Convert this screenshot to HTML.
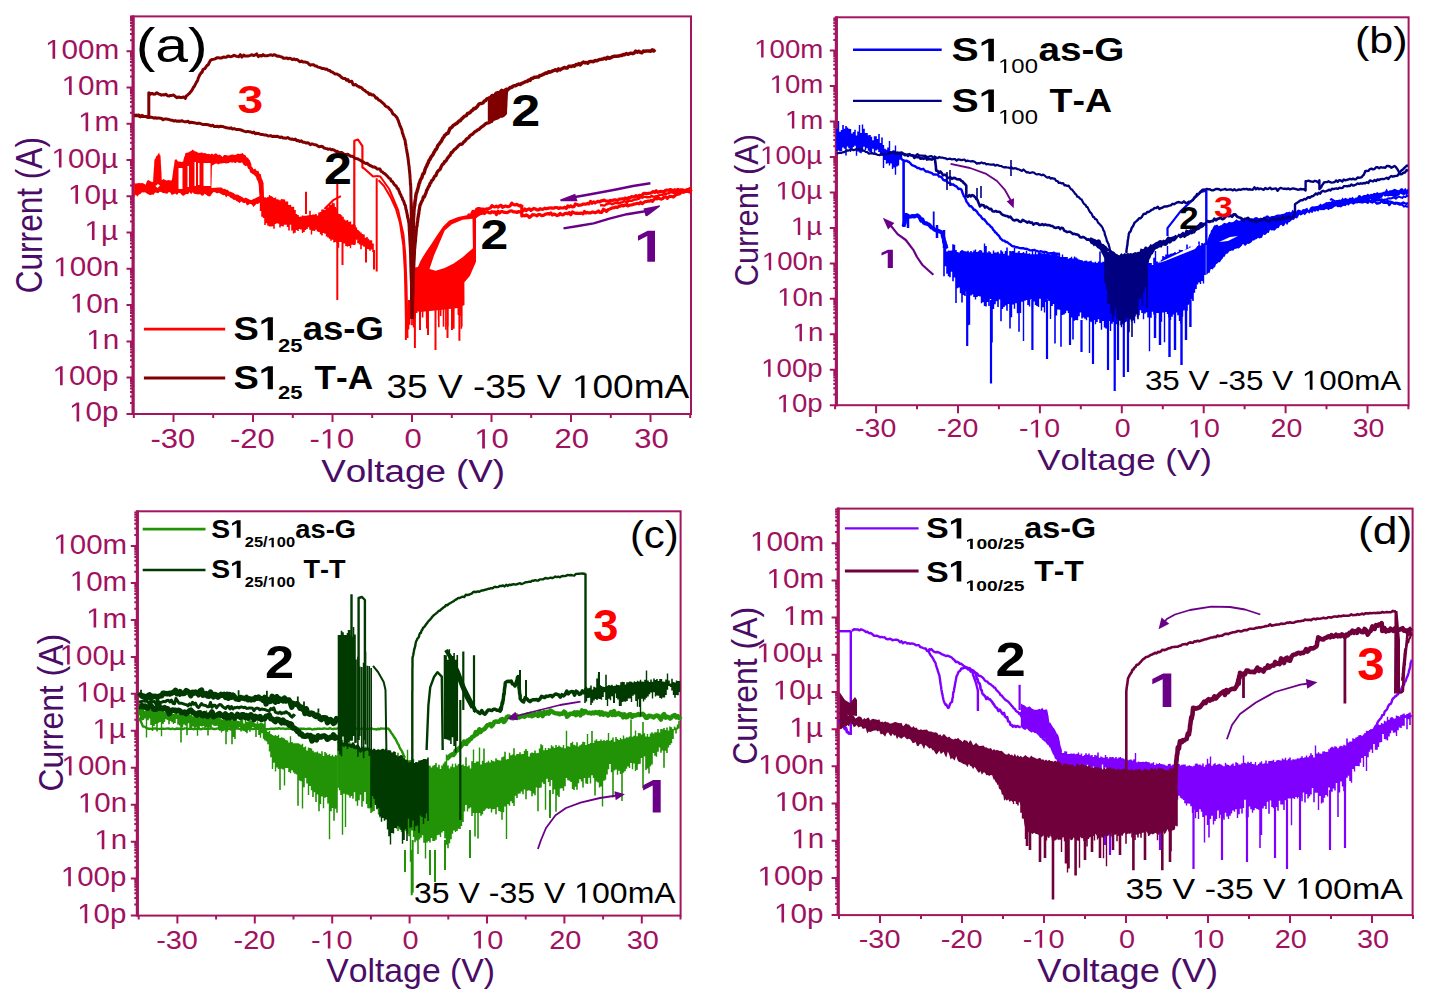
<!DOCTYPE html>
<html><head><meta charset="utf-8"><style>html,body{margin:0;padding:0;background:#fff;overflow:hidden}
svg{display:block}text{font-family:"Liberation Sans",sans-serif}</style></head><body>
<svg width="1437" height="1006" viewBox="0 0 1437 1006">
<g>
<rect width="1437" height="1006" fill="#fff"/>
<g stroke="#a3165f" fill="none" stroke-width="2">
<rect x="133.5" y="16.4" width="557.5" height="397.6"/>
<path d="M133.0 15.4V415.0" stroke-width="3"/>
<path d="M126.5 51.2H133.5 M126.5 87.5H133.5 M126.5 123.7H133.5 M126.5 160.0H133.5 M126.5 196.3H133.5 M126.5 232.6H133.5 M126.5 268.8H133.5 M126.5 305.1H133.5 M126.5 341.4H133.5 M126.5 377.6H133.5 M126.5 413.9H133.5 M130.0 40.3H133.5 M130.0 33.9H133.5 M130.0 29.4H133.5 M130.0 25.8H133.5 M130.0 23.0H133.5 M130.0 20.5H133.5 M130.0 18.4H133.5 M130.0 16.6H133.5 M130.0 76.6H133.5 M130.0 70.2H133.5 M130.0 65.6H133.5 M130.0 62.1H133.5 M130.0 59.2H133.5 M130.0 56.8H133.5 M130.0 54.7H133.5 M130.0 52.9H133.5 M130.0 112.8H133.5 M130.0 106.4H133.5 M130.0 101.9H133.5 M130.0 98.4H133.5 M130.0 95.5H133.5 M130.0 93.1H133.5 M130.0 91.0H133.5 M130.0 89.1H133.5 M130.0 149.1H133.5 M130.0 142.7H133.5 M130.0 138.2H133.5 M130.0 134.7H133.5 M130.0 131.8H133.5 M130.0 129.4H133.5 M130.0 127.3H133.5 M130.0 125.4H133.5 M130.0 185.4H133.5 M130.0 179.0H133.5 M130.0 174.4H133.5 M130.0 170.9H133.5 M130.0 168.1H133.5 M130.0 165.6H133.5 M130.0 163.5H133.5 M130.0 161.7H133.5 M130.0 221.6H133.5 M130.0 215.2H133.5 M130.0 210.7H133.5 M130.0 207.2H133.5 M130.0 204.3H133.5 M130.0 201.9H133.5 M130.0 199.8H133.5 M130.0 197.9H133.5 M130.0 257.9H133.5 M130.0 251.5H133.5 M130.0 247.0H133.5 M130.0 243.5H133.5 M130.0 240.6H133.5 M130.0 238.2H133.5 M130.0 236.1H133.5 M130.0 234.2H133.5 M130.0 294.2H133.5 M130.0 287.8H133.5 M130.0 283.3H133.5 M130.0 279.7H133.5 M130.0 276.9H133.5 M130.0 274.4H133.5 M130.0 272.3H133.5 M130.0 270.5H133.5 M130.0 330.4H133.5 M130.0 324.1H133.5 M130.0 319.5H133.5 M130.0 316.0H133.5 M130.0 313.1H133.5 M130.0 310.7H133.5 M130.0 308.6H133.5 M130.0 306.7H133.5 M130.0 366.7H133.5 M130.0 360.3H133.5 M130.0 355.8H133.5 M130.0 352.3H133.5 M130.0 349.4H133.5 M130.0 347.0H133.5 M130.0 344.9H133.5 M130.0 343.0H133.5 M130.0 403.0H133.5 M130.0 396.6H133.5 M130.0 392.1H133.5 M130.0 388.5H133.5 M130.0 385.7H133.5 M130.0 383.2H133.5 M130.0 381.1H133.5 M130.0 379.3H133.5 M133.8 414v4 M173.5 414v8 M213.2 414v4 M253.0 414v8 M292.8 414v4 M332.5 414v8 M372.2 414v4 M412.0 414v8 M451.8 414v4 M491.5 414v8 M531.2 414v4 M571.0 414v8 M610.8 414v4 M650.5 414v8 M690.2 414v4"/>
</g>
<g transform="translate(45.07,58.72) scale(1.0868,1)" fill="#a01260"><path transform="translate(0.00,0) scale(0.01334,-0.01334)" d="M515 0L515 1237L197 1010L197 1180L530 1409L696 1409L696 0Z"/><text x="15.20" y="0" font-size="27.33" font-weight="normal" style="font-kerning:none">00m</text></g>
<g transform="translate(61.58,94.99) scale(1.0868,1)" fill="#a01260"><path transform="translate(0.00,0) scale(0.01334,-0.01334)" d="M515 0L515 1237L197 1010L197 1180L530 1409L696 1409L696 0Z"/><text x="15.20" y="0" font-size="27.33" font-weight="normal" style="font-kerning:none">0m</text></g>
<g transform="translate(78.10,131.26) scale(1.0868,1)" fill="#a01260"><path transform="translate(0.00,0) scale(0.01334,-0.01334)" d="M515 0L515 1237L197 1010L197 1180L530 1409L696 1409L696 0Z"/><text x="15.20" y="0" font-size="27.33" font-weight="normal" style="font-kerning:none">m</text></g>
<g transform="translate(51.42,167.53) scale(1.0868,1)" fill="#a01260"><path transform="translate(0.00,0) scale(0.01334,-0.01334)" d="M515 0L515 1237L197 1010L197 1180L530 1409L696 1409L696 0Z"/><text x="15.20" y="0" font-size="27.33" font-weight="normal" style="font-kerning:none">00µ</text></g>
<g transform="translate(67.94,203.80) scale(1.0868,1)" fill="#a01260"><path transform="translate(0.00,0) scale(0.01334,-0.01334)" d="M515 0L515 1237L197 1010L197 1180L530 1409L696 1409L696 0Z"/><text x="15.20" y="0" font-size="27.33" font-weight="normal" style="font-kerning:none">0µ</text></g>
<g transform="translate(84.45,240.07) scale(1.0868,1)" fill="#a01260"><path transform="translate(0.00,0) scale(0.01334,-0.01334)" d="M515 0L515 1237L197 1010L197 1180L530 1409L696 1409L696 0Z"/><text x="15.20" y="0" font-size="27.33" font-weight="normal" style="font-kerning:none">µ</text></g>
<g transform="translate(53.26,276.34) scale(1.0868,1)" fill="#a01260"><path transform="translate(0.00,0) scale(0.01334,-0.01334)" d="M515 0L515 1237L197 1010L197 1180L530 1409L696 1409L696 0Z"/><text x="15.20" y="0" font-size="27.33" font-weight="normal" style="font-kerning:none">00n</text></g>
<g transform="translate(69.78,312.61) scale(1.0868,1)" fill="#a01260"><path transform="translate(0.00,0) scale(0.01334,-0.01334)" d="M515 0L515 1237L197 1010L197 1180L530 1409L696 1409L696 0Z"/><text x="15.20" y="0" font-size="27.33" font-weight="normal" style="font-kerning:none">0n</text></g>
<g transform="translate(86.29,348.88) scale(1.0868,1)" fill="#a01260"><path transform="translate(0.00,0) scale(0.01334,-0.01334)" d="M515 0L515 1237L197 1010L197 1180L530 1409L696 1409L696 0Z"/><text x="15.20" y="0" font-size="27.33" font-weight="normal" style="font-kerning:none">n</text></g>
<g transform="translate(52.58,385.15) scale(1.0868,1)" fill="#a01260"><path transform="translate(0.00,0) scale(0.01334,-0.01334)" d="M515 0L515 1237L197 1010L197 1180L530 1409L696 1409L696 0Z"/><text x="15.20" y="0" font-size="27.33" font-weight="normal" style="font-kerning:none">00p</text></g>
<g transform="translate(69.10,421.42) scale(1.0868,1)" fill="#a01260"><path transform="translate(0.00,0) scale(0.01334,-0.01334)" d="M515 0L515 1237L197 1010L197 1180L530 1409L696 1409L696 0Z"/><text x="15.20" y="0" font-size="27.33" font-weight="normal" style="font-kerning:none">0p</text></g>
<g transform="translate(150.53,448.40) scale(1.1167,1)" fill="#a01260"><text x="0.00" y="0" font-size="27.76" font-weight="normal" style="font-kerning:none">-30</text></g>
<g transform="translate(230.03,448.40) scale(1.1167,1)" fill="#a01260"><text x="0.00" y="0" font-size="27.76" font-weight="normal" style="font-kerning:none">-20</text></g>
<g transform="translate(309.53,448.40) scale(1.1167,1)" fill="#a01260"><text x="0.00" y="0" font-size="27.76" font-weight="normal" style="font-kerning:none">-</text><path transform="translate(9.24,0) scale(0.01356,-0.01356)" d="M515 0L515 1237L197 1010L197 1180L530 1409L696 1409L696 0Z"/><text x="24.68" y="0" font-size="27.76" font-weight="normal" style="font-kerning:none">0</text></g>
<g transform="translate(404.38,448.40) scale(1.1167,1)" fill="#a01260"><text x="0.00" y="0" font-size="27.76" font-weight="normal" style="font-kerning:none">0</text></g>
<g transform="translate(474.37,448.40) scale(1.1167,1)" fill="#a01260"><path transform="translate(0.00,0) scale(0.01356,-0.01356)" d="M515 0L515 1237L197 1010L197 1180L530 1409L696 1409L696 0Z"/><text x="15.44" y="0" font-size="27.76" font-weight="normal" style="font-kerning:none">0</text></g>
<g transform="translate(554.58,448.40) scale(1.1167,1)" fill="#a01260"><text x="0.00" y="0" font-size="27.76" font-weight="normal" style="font-kerning:none">20</text></g>
<g transform="translate(634.27,448.40) scale(1.1167,1)" fill="#a01260"><text x="0.00" y="0" font-size="27.76" font-weight="normal" style="font-kerning:none">30</text></g>
<g stroke="#a3165f" fill="none" stroke-width="2">
<rect x="836.8" y="17.3" width="571.8" height="387.9"/>
<path d="M836.3 16.3V406.2" stroke-width="3"/>
<path d="M829.8 50.6H836.8 M829.8 86.1H836.8 M829.8 121.5H836.8 M829.8 157.0H836.8 M829.8 192.4H836.8 M829.8 227.9H836.8 M829.8 263.4H836.8 M829.8 298.8H836.8 M829.8 334.3H836.8 M829.8 369.7H836.8 M829.8 405.2H836.8 M833.3 39.9H836.8 M833.3 33.7H836.8 M833.3 29.3H836.8 M833.3 25.8H836.8 M833.3 23.0H836.8 M833.3 20.6H836.8 M833.3 18.6H836.8 M833.3 75.4H836.8 M833.3 69.1H836.8 M833.3 64.7H836.8 M833.3 61.3H836.8 M833.3 58.5H836.8 M833.3 56.1H836.8 M833.3 54.0H836.8 M833.3 52.2H836.8 M833.3 110.8H836.8 M833.3 104.6H836.8 M833.3 100.2H836.8 M833.3 96.7H836.8 M833.3 93.9H836.8 M833.3 91.6H836.8 M833.3 89.5H836.8 M833.3 87.7H836.8 M833.3 146.3H836.8 M833.3 140.1H836.8 M833.3 135.6H836.8 M833.3 132.2H836.8 M833.3 129.4H836.8 M833.3 127.0H836.8 M833.3 125.0H836.8 M833.3 123.1H836.8 M833.3 181.8H836.8 M833.3 175.5H836.8 M833.3 171.1H836.8 M833.3 167.7H836.8 M833.3 164.8H836.8 M833.3 162.5H836.8 M833.3 160.4H836.8 M833.3 158.6H836.8 M833.3 217.2H836.8 M833.3 211.0H836.8 M833.3 206.6H836.8 M833.3 203.1H836.8 M833.3 200.3H836.8 M833.3 197.9H836.8 M833.3 195.9H836.8 M833.3 194.1H836.8 M833.3 252.7H836.8 M833.3 246.4H836.8 M833.3 242.0H836.8 M833.3 238.6H836.8 M833.3 235.8H836.8 M833.3 233.4H836.8 M833.3 231.3H836.8 M833.3 229.5H836.8 M833.3 288.1H836.8 M833.3 281.9H836.8 M833.3 277.5H836.8 M833.3 274.0H836.8 M833.3 271.2H836.8 M833.3 268.9H836.8 M833.3 266.8H836.8 M833.3 265.0H836.8 M833.3 323.6H836.8 M833.3 317.4H836.8 M833.3 312.9H836.8 M833.3 309.5H836.8 M833.3 306.7H836.8 M833.3 304.3H836.8 M833.3 302.3H836.8 M833.3 300.4H836.8 M833.3 359.1H836.8 M833.3 352.8H836.8 M833.3 348.4H836.8 M833.3 345.0H836.8 M833.3 342.1H836.8 M833.3 339.8H836.8 M833.3 337.7H836.8 M833.3 335.9H836.8 M833.3 394.5H836.8 M833.3 388.3H836.8 M833.3 383.9H836.8 M833.3 380.4H836.8 M833.3 377.6H836.8 M833.3 375.2H836.8 M833.3 373.2H836.8 M833.3 371.4H836.8 M835.1 405.2v4 M876.1 405.2v8 M917.0 405.2v4 M958.0 405.2v8 M998.9 405.2v4 M1039.9 405.2v8 M1080.8 405.2v4 M1121.8 405.2v8 M1162.8 405.2v4 M1203.7 405.2v8 M1244.6 405.2v4 M1285.6 405.2v8 M1326.5 405.2v4 M1367.5 405.2v8 M1408.4 405.2v4"/>
</g>
<g transform="translate(754.17,57.60) scale(1.0868,1)" fill="#a01260"><path transform="translate(0.00,0) scale(0.01242,-0.01242)" d="M515 0L515 1237L197 1010L197 1180L530 1409L696 1409L696 0Z"/><text x="14.15" y="0" font-size="25.44" font-weight="normal" style="font-kerning:none">00m</text></g>
<g transform="translate(769.54,93.06) scale(1.0868,1)" fill="#a01260"><path transform="translate(0.00,0) scale(0.01242,-0.01242)" d="M515 0L515 1237L197 1010L197 1180L530 1409L696 1409L696 0Z"/><text x="14.15" y="0" font-size="25.44" font-weight="normal" style="font-kerning:none">0m</text></g>
<g transform="translate(784.92,128.52) scale(1.0868,1)" fill="#a01260"><path transform="translate(0.00,0) scale(0.01242,-0.01242)" d="M515 0L515 1237L197 1010L197 1180L530 1409L696 1409L696 0Z"/><text x="14.15" y="0" font-size="25.44" font-weight="normal" style="font-kerning:none">m</text></g>
<g transform="translate(760.08,163.98) scale(1.0868,1)" fill="#a01260"><path transform="translate(0.00,0) scale(0.01242,-0.01242)" d="M515 0L515 1237L197 1010L197 1180L530 1409L696 1409L696 0Z"/><text x="14.15" y="0" font-size="25.44" font-weight="normal" style="font-kerning:none">00µ</text></g>
<g transform="translate(775.46,199.44) scale(1.0868,1)" fill="#a01260"><path transform="translate(0.00,0) scale(0.01242,-0.01242)" d="M515 0L515 1237L197 1010L197 1180L530 1409L696 1409L696 0Z"/><text x="14.15" y="0" font-size="25.44" font-weight="normal" style="font-kerning:none">0µ</text></g>
<g transform="translate(790.83,234.90) scale(1.0868,1)" fill="#a01260"><path transform="translate(0.00,0) scale(0.01242,-0.01242)" d="M515 0L515 1237L197 1010L197 1180L530 1409L696 1409L696 0Z"/><text x="14.15" y="0" font-size="25.44" font-weight="normal" style="font-kerning:none">µ</text></g>
<g transform="translate(761.80,270.36) scale(1.0868,1)" fill="#a01260"><path transform="translate(0.00,0) scale(0.01242,-0.01242)" d="M515 0L515 1237L197 1010L197 1180L530 1409L696 1409L696 0Z"/><text x="14.15" y="0" font-size="25.44" font-weight="normal" style="font-kerning:none">00n</text></g>
<g transform="translate(777.17,305.82) scale(1.0868,1)" fill="#a01260"><path transform="translate(0.00,0) scale(0.01242,-0.01242)" d="M515 0L515 1237L197 1010L197 1180L530 1409L696 1409L696 0Z"/><text x="14.15" y="0" font-size="25.44" font-weight="normal" style="font-kerning:none">0n</text></g>
<g transform="translate(792.55,341.28) scale(1.0868,1)" fill="#a01260"><path transform="translate(0.00,0) scale(0.01242,-0.01242)" d="M515 0L515 1237L197 1010L197 1180L530 1409L696 1409L696 0Z"/><text x="14.15" y="0" font-size="25.44" font-weight="normal" style="font-kerning:none">n</text></g>
<g transform="translate(761.16,376.74) scale(1.0868,1)" fill="#a01260"><path transform="translate(0.00,0) scale(0.01242,-0.01242)" d="M515 0L515 1237L197 1010L197 1180L530 1409L696 1409L696 0Z"/><text x="14.15" y="0" font-size="25.44" font-weight="normal" style="font-kerning:none">00p</text></g>
<g transform="translate(776.54,412.20) scale(1.0868,1)" fill="#a01260"><path transform="translate(0.00,0) scale(0.01242,-0.01242)" d="M515 0L515 1237L197 1010L197 1180L530 1409L696 1409L696 0Z"/><text x="14.15" y="0" font-size="25.44" font-weight="normal" style="font-kerning:none">0p</text></g>
<g transform="translate(855.09,437.40) scale(1.1167,1)" fill="#a01260"><text x="0.00" y="0" font-size="25.58" font-weight="normal" style="font-kerning:none">-30</text></g>
<g transform="translate(936.99,437.40) scale(1.1167,1)" fill="#a01260"><text x="0.00" y="0" font-size="25.58" font-weight="normal" style="font-kerning:none">-20</text></g>
<g transform="translate(1018.89,437.40) scale(1.1167,1)" fill="#a01260"><text x="0.00" y="0" font-size="25.58" font-weight="normal" style="font-kerning:none">-</text><path transform="translate(8.52,0) scale(0.01249,-0.01249)" d="M515 0L515 1237L197 1010L197 1180L530 1409L696 1409L696 0Z"/><text x="22.75" y="0" font-size="25.58" font-weight="normal" style="font-kerning:none">0</text></g>
<g transform="translate(1114.86,437.40) scale(1.1167,1)" fill="#a01260"><text x="0.00" y="0" font-size="25.58" font-weight="normal" style="font-kerning:none">0</text></g>
<g transform="translate(1188.00,437.40) scale(1.1167,1)" fill="#a01260"><path transform="translate(0.00,0) scale(0.01249,-0.01249)" d="M515 0L515 1237L197 1010L197 1180L530 1409L696 1409L696 0Z"/><text x="14.23" y="0" font-size="25.58" font-weight="normal" style="font-kerning:none">0</text></g>
<g transform="translate(1270.55,437.40) scale(1.1167,1)" fill="#a01260"><text x="0.00" y="0" font-size="25.58" font-weight="normal" style="font-kerning:none">20</text></g>
<g transform="translate(1352.63,437.40) scale(1.1167,1)" fill="#a01260"><text x="0.00" y="0" font-size="25.58" font-weight="normal" style="font-kerning:none">30</text></g>
<g stroke="#a3165f" fill="none" stroke-width="2">
<rect x="137.8" y="511.3" width="542.8" height="404.3"/>
<path d="M137.3 510.3V916.6" stroke-width="3"/>
<path d="M130.8 546.0H137.8 M130.8 583.0H137.8 M130.8 619.9H137.8 M130.8 656.9H137.8 M130.8 693.8H137.8 M130.8 730.8H137.8 M130.8 767.8H137.8 M130.8 804.7H137.8 M130.8 841.7H137.8 M130.8 878.6H137.8 M130.8 915.6H137.8 M134.3 534.9H137.8 M134.3 528.4H137.8 M134.3 523.7H137.8 M134.3 520.2H137.8 M134.3 517.2H137.8 M134.3 514.8H137.8 M134.3 512.6H137.8 M134.3 571.8H137.8 M134.3 565.3H137.8 M134.3 560.7H137.8 M134.3 557.1H137.8 M134.3 554.2H137.8 M134.3 551.7H137.8 M134.3 549.6H137.8 M134.3 547.7H137.8 M134.3 608.8H137.8 M134.3 602.3H137.8 M134.3 597.7H137.8 M134.3 594.1H137.8 M134.3 591.2H137.8 M134.3 588.7H137.8 M134.3 586.5H137.8 M134.3 584.7H137.8 M134.3 645.8H137.8 M134.3 639.2H137.8 M134.3 634.6H137.8 M134.3 631.0H137.8 M134.3 628.1H137.8 M134.3 625.6H137.8 M134.3 623.5H137.8 M134.3 621.6H137.8 M134.3 682.7H137.8 M134.3 676.2H137.8 M134.3 671.6H137.8 M134.3 668.0H137.8 M134.3 665.1H137.8 M134.3 662.6H137.8 M134.3 660.5H137.8 M134.3 658.6H137.8 M134.3 719.7H137.8 M134.3 713.2H137.8 M134.3 708.5H137.8 M134.3 705.0H137.8 M134.3 702.0H137.8 M134.3 699.6H137.8 M134.3 697.4H137.8 M134.3 695.5H137.8 M134.3 756.6H137.8 M134.3 750.1H137.8 M134.3 745.5H137.8 M134.3 741.9H137.8 M134.3 739.0H137.8 M134.3 736.5H137.8 M134.3 734.4H137.8 M134.3 732.5H137.8 M134.3 793.6H137.8 M134.3 787.1H137.8 M134.3 782.5H137.8 M134.3 778.9H137.8 M134.3 776.0H137.8 M134.3 773.5H137.8 M134.3 771.3H137.8 M134.3 769.5H137.8 M134.3 830.6H137.8 M134.3 824.0H137.8 M134.3 819.4H137.8 M134.3 815.8H137.8 M134.3 812.9H137.8 M134.3 810.4H137.8 M134.3 808.3H137.8 M134.3 806.4H137.8 M134.3 867.5H137.8 M134.3 861.0H137.8 M134.3 856.4H137.8 M134.3 852.8H137.8 M134.3 849.9H137.8 M134.3 847.4H137.8 M134.3 845.3H137.8 M134.3 843.4H137.8 M134.3 904.5H137.8 M134.3 898.0H137.8 M134.3 893.3H137.8 M134.3 889.8H137.8 M134.3 886.8H137.8 M134.3 884.4H137.8 M134.3 882.2H137.8 M134.3 880.3H137.8 M138.7 915.6v4 M177.4 915.6v8 M216.1 915.6v4 M254.8 915.6v8 M293.5 915.6v4 M332.2 915.6v8 M370.9 915.6v4 M409.6 915.6v8 M448.3 915.6v4 M487.0 915.6v8 M525.7 915.6v4 M564.4 915.6v8 M603.1 915.6v4 M641.8 915.6v8 M680.5 915.6v4"/>
</g>
<g transform="translate(53.36,553.68) scale(1.0569,1)" fill="#a01260"><path transform="translate(0.00,0) scale(0.01363,-0.01363)" d="M515 0L515 1237L197 1010L197 1180L530 1409L696 1409L696 0Z"/><text x="15.52" y="0" font-size="27.91" font-weight="normal" style="font-kerning:none">00m</text></g>
<g transform="translate(69.77,590.64) scale(1.0569,1)" fill="#a01260"><path transform="translate(0.00,0) scale(0.01363,-0.01363)" d="M515 0L515 1237L197 1010L197 1180L530 1409L696 1409L696 0Z"/><text x="15.52" y="0" font-size="27.91" font-weight="normal" style="font-kerning:none">0m</text></g>
<g transform="translate(86.17,627.60) scale(1.0569,1)" fill="#a01260"><path transform="translate(0.00,0) scale(0.01363,-0.01363)" d="M515 0L515 1237L197 1010L197 1180L530 1409L696 1409L696 0Z"/><text x="15.52" y="0" font-size="27.91" font-weight="normal" style="font-kerning:none">m</text></g>
<g transform="translate(59.67,664.56) scale(1.0569,1)" fill="#a01260"><path transform="translate(0.00,0) scale(0.01363,-0.01363)" d="M515 0L515 1237L197 1010L197 1180L530 1409L696 1409L696 0Z"/><text x="15.52" y="0" font-size="27.91" font-weight="normal" style="font-kerning:none">00µ</text></g>
<g transform="translate(76.07,701.52) scale(1.0569,1)" fill="#a01260"><path transform="translate(0.00,0) scale(0.01363,-0.01363)" d="M515 0L515 1237L197 1010L197 1180L530 1409L696 1409L696 0Z"/><text x="15.52" y="0" font-size="27.91" font-weight="normal" style="font-kerning:none">0µ</text></g>
<g transform="translate(92.48,738.48) scale(1.0569,1)" fill="#a01260"><path transform="translate(0.00,0) scale(0.01363,-0.01363)" d="M515 0L515 1237L197 1010L197 1180L530 1409L696 1409L696 0Z"/><text x="15.52" y="0" font-size="27.91" font-weight="normal" style="font-kerning:none">µ</text></g>
<g transform="translate(61.50,775.44) scale(1.0569,1)" fill="#a01260"><path transform="translate(0.00,0) scale(0.01363,-0.01363)" d="M515 0L515 1237L197 1010L197 1180L530 1409L696 1409L696 0Z"/><text x="15.52" y="0" font-size="27.91" font-weight="normal" style="font-kerning:none">00n</text></g>
<g transform="translate(77.90,812.40) scale(1.0569,1)" fill="#a01260"><path transform="translate(0.00,0) scale(0.01363,-0.01363)" d="M515 0L515 1237L197 1010L197 1180L530 1409L696 1409L696 0Z"/><text x="15.52" y="0" font-size="27.91" font-weight="normal" style="font-kerning:none">0n</text></g>
<g transform="translate(94.31,849.36) scale(1.0569,1)" fill="#a01260"><path transform="translate(0.00,0) scale(0.01363,-0.01363)" d="M515 0L515 1237L197 1010L197 1180L530 1409L696 1409L696 0Z"/><text x="15.52" y="0" font-size="27.91" font-weight="normal" style="font-kerning:none">n</text></g>
<g transform="translate(60.82,886.32) scale(1.0569,1)" fill="#a01260"><path transform="translate(0.00,0) scale(0.01363,-0.01363)" d="M515 0L515 1237L197 1010L197 1180L530 1409L696 1409L696 0Z"/><text x="15.52" y="0" font-size="27.91" font-weight="normal" style="font-kerning:none">00p</text></g>
<g transform="translate(77.23,923.28) scale(1.0569,1)" fill="#a01260"><path transform="translate(0.00,0) scale(0.01363,-0.01363)" d="M515 0L515 1237L197 1010L197 1180L530 1409L696 1409L696 0Z"/><text x="15.52" y="0" font-size="27.91" font-weight="normal" style="font-kerning:none">0p</text></g>
<g transform="translate(156.13,948.60) scale(1.1167,1)" fill="#a01260"><text x="0.00" y="0" font-size="25.87" font-weight="normal" style="font-kerning:none">-30</text></g>
<g transform="translate(233.53,948.60) scale(1.1167,1)" fill="#a01260"><text x="0.00" y="0" font-size="25.87" font-weight="normal" style="font-kerning:none">-20</text></g>
<g transform="translate(310.93,948.60) scale(1.1167,1)" fill="#a01260"><text x="0.00" y="0" font-size="25.87" font-weight="normal" style="font-kerning:none">-</text><path transform="translate(8.62,0) scale(0.01263,-0.01263)" d="M515 0L515 1237L197 1010L197 1180L530 1409L696 1409L696 0Z"/><text x="23.00" y="0" font-size="25.87" font-weight="normal" style="font-kerning:none">0</text></g>
<g transform="translate(402.57,948.60) scale(1.1167,1)" fill="#a01260"><text x="0.00" y="0" font-size="25.87" font-weight="normal" style="font-kerning:none">0</text></g>
<g transform="translate(471.11,948.60) scale(1.1167,1)" fill="#a01260"><path transform="translate(0.00,0) scale(0.01263,-0.01263)" d="M515 0L515 1237L197 1010L197 1180L530 1409L696 1409L696 0Z"/><text x="14.39" y="0" font-size="25.87" font-weight="normal" style="font-kerning:none">0</text></g>
<g transform="translate(549.17,948.60) scale(1.1167,1)" fill="#a01260"><text x="0.00" y="0" font-size="25.87" font-weight="normal" style="font-kerning:none">20</text></g>
<g transform="translate(626.75,948.60) scale(1.1167,1)" fill="#a01260"><text x="0.00" y="0" font-size="25.87" font-weight="normal" style="font-kerning:none">30</text></g>
<g stroke="#a3165f" fill="none" stroke-width="2">
<rect x="838.6" y="508.6" width="574.0" height="406.5"/>
<path d="M838.1 507.6V916.1" stroke-width="3"/>
<path d="M831.6 543.2H838.6 M831.6 580.4H838.6 M831.6 617.6H838.6 M831.6 654.8H838.6 M831.6 692.0H838.6 M831.6 729.2H838.6 M831.6 766.3H838.6 M831.6 803.5H838.6 M831.6 840.7H838.6 M831.6 877.9H838.6 M831.6 915.1H838.6 M835.1 532.0H838.6 M835.1 525.5H838.6 M835.1 520.8H838.6 M835.1 517.2H838.6 M835.1 514.3H838.6 M835.1 511.8H838.6 M835.1 509.6H838.6 M835.1 569.2H838.6 M835.1 562.6H838.6 M835.1 558.0H838.6 M835.1 554.4H838.6 M835.1 551.5H838.6 M835.1 549.0H838.6 M835.1 546.8H838.6 M835.1 544.9H838.6 M835.1 606.4H838.6 M835.1 599.8H838.6 M835.1 595.2H838.6 M835.1 591.6H838.6 M835.1 588.6H838.6 M835.1 586.2H838.6 M835.1 584.0H838.6 M835.1 582.1H838.6 M835.1 643.6H838.6 M835.1 637.0H838.6 M835.1 632.4H838.6 M835.1 628.8H838.6 M835.1 625.8H838.6 M835.1 623.3H838.6 M835.1 621.2H838.6 M835.1 619.3H838.6 M835.1 680.8H838.6 M835.1 674.2H838.6 M835.1 669.6H838.6 M835.1 666.0H838.6 M835.1 663.0H838.6 M835.1 660.5H838.6 M835.1 658.4H838.6 M835.1 656.5H838.6 M835.1 718.0H838.6 M835.1 711.4H838.6 M835.1 706.8H838.6 M835.1 703.2H838.6 M835.1 700.2H838.6 M835.1 697.7H838.6 M835.1 695.6H838.6 M835.1 693.7H838.6 M835.1 755.1H838.6 M835.1 748.6H838.6 M835.1 743.9H838.6 M835.1 740.3H838.6 M835.1 737.4H838.6 M835.1 734.9H838.6 M835.1 732.8H838.6 M835.1 730.9H838.6 M835.1 792.3H838.6 M835.1 785.8H838.6 M835.1 781.1H838.6 M835.1 777.5H838.6 M835.1 774.6H838.6 M835.1 772.1H838.6 M835.1 769.9H838.6 M835.1 768.0H838.6 M835.1 829.5H838.6 M835.1 823.0H838.6 M835.1 818.3H838.6 M835.1 814.7H838.6 M835.1 811.8H838.6 M835.1 809.3H838.6 M835.1 807.1H838.6 M835.1 805.2H838.6 M835.1 866.7H838.6 M835.1 860.2H838.6 M835.1 855.5H838.6 M835.1 851.9H838.6 M835.1 849.0H838.6 M835.1 846.5H838.6 M835.1 844.3H838.6 M835.1 842.4H838.6 M835.1 903.9H838.6 M835.1 897.4H838.6 M835.1 892.7H838.6 M835.1 889.1H838.6 M835.1 886.2H838.6 M835.1 883.7H838.6 M835.1 881.5H838.6 M835.1 879.6H838.6 M839.0 915.1v4 M880.0 915.1v8 M921.0 915.1v4 M962.0 915.1v8 M1003.0 915.1v4 M1044.0 915.1v8 M1085.0 915.1v4 M1126.0 915.1v8 M1167.0 915.1v4 M1208.0 915.1v8 M1249.0 915.1v4 M1290.0 915.1v8 M1331.0 915.1v4 M1372.0 915.1v8 M1413.0 915.1v4"/>
</g>
<g transform="translate(749.97,550.72) scale(1.0868,1)" fill="#a01260"><path transform="translate(0.00,0) scale(0.01334,-0.01334)" d="M515 0L515 1237L197 1010L197 1180L530 1409L696 1409L696 0Z"/><text x="15.20" y="0" font-size="27.33" font-weight="normal" style="font-kerning:none">00m</text></g>
<g transform="translate(766.48,587.91) scale(1.0868,1)" fill="#a01260"><path transform="translate(0.00,0) scale(0.01334,-0.01334)" d="M515 0L515 1237L197 1010L197 1180L530 1409L696 1409L696 0Z"/><text x="15.20" y="0" font-size="27.33" font-weight="normal" style="font-kerning:none">0m</text></g>
<g transform="translate(783.00,625.10) scale(1.0868,1)" fill="#a01260"><path transform="translate(0.00,0) scale(0.01334,-0.01334)" d="M515 0L515 1237L197 1010L197 1180L530 1409L696 1409L696 0Z"/><text x="15.20" y="0" font-size="27.33" font-weight="normal" style="font-kerning:none">m</text></g>
<g transform="translate(756.32,662.29) scale(1.0868,1)" fill="#a01260"><path transform="translate(0.00,0) scale(0.01334,-0.01334)" d="M515 0L515 1237L197 1010L197 1180L530 1409L696 1409L696 0Z"/><text x="15.20" y="0" font-size="27.33" font-weight="normal" style="font-kerning:none">00µ</text></g>
<g transform="translate(772.84,699.48) scale(1.0868,1)" fill="#a01260"><path transform="translate(0.00,0) scale(0.01334,-0.01334)" d="M515 0L515 1237L197 1010L197 1180L530 1409L696 1409L696 0Z"/><text x="15.20" y="0" font-size="27.33" font-weight="normal" style="font-kerning:none">0µ</text></g>
<g transform="translate(789.35,736.67) scale(1.0868,1)" fill="#a01260"><path transform="translate(0.00,0) scale(0.01334,-0.01334)" d="M515 0L515 1237L197 1010L197 1180L530 1409L696 1409L696 0Z"/><text x="15.20" y="0" font-size="27.33" font-weight="normal" style="font-kerning:none">µ</text></g>
<g transform="translate(758.16,773.86) scale(1.0868,1)" fill="#a01260"><path transform="translate(0.00,0) scale(0.01334,-0.01334)" d="M515 0L515 1237L197 1010L197 1180L530 1409L696 1409L696 0Z"/><text x="15.20" y="0" font-size="27.33" font-weight="normal" style="font-kerning:none">00n</text></g>
<g transform="translate(774.68,811.05) scale(1.0868,1)" fill="#a01260"><path transform="translate(0.00,0) scale(0.01334,-0.01334)" d="M515 0L515 1237L197 1010L197 1180L530 1409L696 1409L696 0Z"/><text x="15.20" y="0" font-size="27.33" font-weight="normal" style="font-kerning:none">0n</text></g>
<g transform="translate(791.19,848.24) scale(1.0868,1)" fill="#a01260"><path transform="translate(0.00,0) scale(0.01334,-0.01334)" d="M515 0L515 1237L197 1010L197 1180L530 1409L696 1409L696 0Z"/><text x="15.20" y="0" font-size="27.33" font-weight="normal" style="font-kerning:none">n</text></g>
<g transform="translate(757.48,885.43) scale(1.0868,1)" fill="#a01260"><path transform="translate(0.00,0) scale(0.01334,-0.01334)" d="M515 0L515 1237L197 1010L197 1180L530 1409L696 1409L696 0Z"/><text x="15.20" y="0" font-size="27.33" font-weight="normal" style="font-kerning:none">00p</text></g>
<g transform="translate(774.00,922.62) scale(1.0868,1)" fill="#a01260"><path transform="translate(0.00,0) scale(0.01334,-0.01334)" d="M515 0L515 1237L197 1010L197 1180L530 1409L696 1409L696 0Z"/><text x="15.20" y="0" font-size="27.33" font-weight="normal" style="font-kerning:none">0p</text></g>
<g transform="translate(858.73,947.70) scale(1.1167,1)" fill="#a01260"><text x="0.00" y="0" font-size="25.87" font-weight="normal" style="font-kerning:none">-30</text></g>
<g transform="translate(940.73,947.70) scale(1.1167,1)" fill="#a01260"><text x="0.00" y="0" font-size="25.87" font-weight="normal" style="font-kerning:none">-20</text></g>
<g transform="translate(1022.73,947.70) scale(1.1167,1)" fill="#a01260"><text x="0.00" y="0" font-size="25.87" font-weight="normal" style="font-kerning:none">-</text><path transform="translate(8.62,0) scale(0.01263,-0.01263)" d="M515 0L515 1237L197 1010L197 1180L530 1409L696 1409L696 0Z"/><text x="23.00" y="0" font-size="25.87" font-weight="normal" style="font-kerning:none">0</text></g>
<g transform="translate(1118.97,947.70) scale(1.1167,1)" fill="#a01260"><text x="0.00" y="0" font-size="25.87" font-weight="normal" style="font-kerning:none">0</text></g>
<g transform="translate(1192.11,947.70) scale(1.1167,1)" fill="#a01260"><path transform="translate(0.00,0) scale(0.01263,-0.01263)" d="M515 0L515 1237L197 1010L197 1180L530 1409L696 1409L696 0Z"/><text x="14.39" y="0" font-size="25.87" font-weight="normal" style="font-kerning:none">0</text></g>
<g transform="translate(1274.77,947.70) scale(1.1167,1)" fill="#a01260"><text x="0.00" y="0" font-size="25.87" font-weight="normal" style="font-kerning:none">20</text></g>
<g transform="translate(1356.95,947.70) scale(1.1167,1)" fill="#a01260"><text x="0.00" y="0" font-size="25.87" font-weight="normal" style="font-kerning:none">30</text></g>
<g transform="translate(321.14,481.64) scale(1.1469,1)" fill="#4a0c66"><text x="0.00" y="0" font-size="32.08" font-weight="normal" style="font-kerning:none">Voltage (V)</text></g>
<g transform="translate(1037.15,469.50) scale(1.1504,1)" fill="#4a0c66"><text x="0.00" y="0" font-size="30.36" font-weight="normal" style="font-kerning:none">Voltage (V)</text></g>
<g transform="translate(326.15,981.69) scale(1.0288,1)" fill="#4a0c66"><text x="0.00" y="0" font-size="32.83" font-weight="normal" style="font-kerning:none">Voltage (V)</text></g>
<g transform="translate(1037.14,982.17) scale(1.0986,1)" fill="#4a0c66"><text x="0.00" y="0" font-size="32.94" font-weight="normal" style="font-kerning:none">Voltage (V)</text></g>
<g transform="translate(41.54,293.31) rotate(-90) scale(0.8664,1)" fill="#4a0c66"><text x="0.00" y="0" font-size="36.49" font-weight="normal" style="font-kerning:none">Current (A)</text></g>
<g transform="translate(757.63,286.37) rotate(-90) scale(0.9033,1)" fill="#4a0c66"><text x="0.00" y="0" font-size="34.13" font-weight="normal" style="font-kerning:none">Current (A)</text></g>
<g transform="translate(62.71,791.62) rotate(-90) scale(0.9319,1)" fill="#4a0c66"><text x="0.00" y="0" font-size="34.24" font-weight="normal" style="font-kerning:none">Current (A)</text></g>
<g transform="translate(756.82,764.72) rotate(-90) scale(0.8954,1)" fill="#4a0c66"><text x="0.00" y="0" font-size="35.64" font-weight="normal" style="font-kerning:none">Current (A)</text></g>
<g transform="translate(135.75,61.62) scale(1.2225,1)" fill="#000"><text x="0.00" y="0" font-size="48.19" font-weight="normal" style="font-kerning:none">(a)</text></g>
<g transform="translate(1354.93,52.52) scale(1.1743,1)" fill="#000"><text x="0.00" y="0" font-size="36.60" font-weight="normal" style="font-kerning:none">(b)</text></g>
<g transform="translate(629.91,547.83) scale(1.1012,1)" fill="#000"><text x="0.00" y="0" font-size="38.00" font-weight="normal" style="font-kerning:none">(c)</text></g>
<g transform="translate(1357.94,543.70) scale(1.1500,1)" fill="#000"><text x="0.00" y="0" font-size="38.64" font-weight="normal" style="font-kerning:none">(d)</text></g>
<g transform="translate(386.39,398.00) scale(1.1338,1)" fill="#000"><text x="0.00" y="0" font-size="32.70" font-weight="normal" style="font-kerning:none">35 V -35 V </text><path transform="translate(163.62,0) scale(0.01597,-0.01597)" d="M515 0L515 1237L197 1010L197 1180L530 1409L696 1409L696 0Z"/><text x="181.80" y="0" font-size="32.70" font-weight="normal" style="font-kerning:none">00mA</text></g>
<g transform="translate(1144.91,389.80) scale(1.1360,1)" fill="#000"><text x="0.00" y="0" font-size="27.62" font-weight="normal" style="font-kerning:none">35 V -35 V </text><path transform="translate(138.16,0) scale(0.01348,-0.01348)" d="M515 0L515 1237L197 1010L197 1180L530 1409L696 1409L696 0Z"/><text x="153.52" y="0" font-size="27.62" font-weight="normal" style="font-kerning:none">00mA</text></g>
<g transform="translate(413.98,902.80) scale(1.1020,1)" fill="#000"><text x="0.00" y="0" font-size="29.07" font-weight="normal" style="font-kerning:none">35 V -35 V </text><path transform="translate(145.44,0) scale(0.01419,-0.01419)" d="M515 0L515 1237L197 1010L197 1180L530 1409L696 1409L696 0Z"/><text x="161.60" y="0" font-size="29.07" font-weight="normal" style="font-kerning:none">00mA</text></g>
<g transform="translate(1125.41,898.80) scale(1.1231,1)" fill="#000"><text x="0.00" y="0" font-size="30.23" font-weight="normal" style="font-kerning:none">35 V -35 V </text><path transform="translate(151.25,0) scale(0.01476,-0.01476)" d="M515 0L515 1237L197 1010L197 1180L530 1409L696 1409L696 0Z"/><text x="168.07" y="0" font-size="30.23" font-weight="normal" style="font-kerning:none">00mA</text></g>
<polygon points="134.2,183.3 135.8,183.6 137.5,183.3 139.1,182.9 140.8,183.3 142.4,183.0 144.1,183.8 145.7,184.7 146.6,182.1 147.4,180.6 148.3,180.0 149.9,181.0 151.4,181.8 153.0,182.1 153.1,181.2 153.2,180.2 153.3,177.3 153.4,176.3 153.5,173.8 153.6,172.7 153.7,170.8 153.8,170.4 153.9,168.1 154.0,167.7 154.1,166.0 154.2,164.3 154.3,161.1 154.4,161.0 154.5,159.8 155.4,158.5 156.4,156.0 157.3,155.4 158.3,153.7 159.2,152.4 159.8,155.2 160.5,155.4 160.6,157.6 160.7,159.8 160.8,160.3 160.8,162.2 160.9,164.0 161.0,165.5 161.1,166.2 161.2,168.7 161.3,171.2 161.4,170.7 161.5,174.0 161.5,175.0 161.6,176.1 161.7,179.5 161.8,180.2 163.5,178.9 165.1,179.9 166.8,180.4 168.5,179.9 170.1,180.6 171.8,180.2 172.0,179.2 172.2,178.2 172.5,175.2 172.7,174.4 172.9,172.4 173.1,171.3 173.4,168.9 173.6,167.9 173.8,166.6 174.0,165.9 174.2,164.6 174.5,161.4 174.7,160.2 174.9,159.8 176.4,159.2 178.0,161.6 179.7,161.5 181.5,162.1 183.2,161.4 183.6,159.2 184.0,157.7 184.5,156.3 184.9,156.1 185.3,153.3 186.8,152.7 188.2,152.6 189.7,151.6 191.1,150.9 192.6,149.6 194.7,151.2 196.8,151.7 198.5,153.0 200.3,152.8 202.0,152.5 203.6,153.3 205.3,152.9 206.9,154.1 208.6,153.7 210.2,154.4 211.9,153.4 213.5,154.8 215.0,153.6 216.5,153.5 218.0,154.9 219.5,154.6 221.0,155.5 222.5,157.1 224.0,155.1 225.7,155.1 227.5,155.5 229.2,155.5 230.9,154.8 232.7,154.6 234.4,155.1 236.1,154.8 237.7,153.5 239.4,153.9 241.0,153.8 242.7,152.9 244.0,154.8 245.3,155.0 246.7,157.4 248.0,157.8 249.0,159.4 250.0,160.5 250.4,162.3 250.8,162.4 251.3,164.5 251.7,167.0 252.1,166.7 253.7,169.6 255.2,168.5 256.8,171.1 258.4,170.7 259.2,173.1 259.9,174.0 260.7,174.1 261.5,177.4 261.9,179.0 262.3,179.4 262.8,180.7 263.2,182.2 263.6,183.1 263.6,186.1 263.7,186.5 263.7,188.3 263.8,189.3 263.8,191.0 263.9,192.0 263.9,195.3 264.0,195.8 264.0,198.1 264.1,199.0 264.1,200.0 264.1,200.2 262.3,201.0 260.5,202.6 259.2,203.1 257.9,203.9 256.6,203.8 255.3,205.1 253.5,206.9 251.8,204.5 250.0,203.8 248.5,204.7 247.0,205.4 245.5,202.5 244.1,203.3 242.6,202.6 241.1,201.3 239.6,203.3 238.1,201.8 236.6,201.2 235.1,199.7 233.7,200.0 232.2,198.4 230.7,198.0 229.2,196.4 227.7,195.7 226.2,197.4 224.7,195.1 223.2,195.3 221.7,194.4 220.2,193.4 218.7,192.7 217.0,193.4 215.2,192.3 213.5,192.1 212.1,193.4 210.7,195.7 209.3,196.4 207.7,195.9 206.2,194.8 204.6,193.8 203.0,195.7 201.5,195.4 200.0,194.1 198.5,194.4 197.1,194.3 195.6,194.0 194.1,193.8 192.6,192.3 191.1,194.3 189.6,192.0 188.1,194.2 186.7,194.1 185.2,194.6 183.7,195.8 182.2,195.6 180.5,193.3 178.7,192.8 177.0,195.0 175.3,193.4 173.5,194.3 171.8,195.1 170.3,192.6 168.8,191.9 167.3,193.8 165.8,193.4 164.3,192.9 162.8,193.0 161.3,191.9 159.7,191.7 158.2,193.2 156.6,192.8 155.1,192.5 153.5,194.8 151.9,194.6 150.4,195.3 148.8,194.4 147.5,193.9 146.2,192.9 144.9,192.2 143.6,192.4 142.0,192.2 140.5,193.9 138.9,194.6 137.3,196.8 135.8,194.4 134.2,197.2" fill="#ff0000" />
<polygon points="211.4,187.9 211.4,186.5 211.5,184.1 211.5,183.1 211.6,182.3 211.6,180.3 211.6,178.8 211.7,177.1 211.7,176.4 211.8,174.2 211.8,171.3 211.8,170.7 211.9,168.4 211.9,166.1 212.0,166.2 212.0,165.8 213.6,164.7 215.2,163.7 216.8,163.5 218.4,164.5 220.0,163.6 221.5,163.4 223.0,163.2 224.5,163.1 226.0,163.5 227.5,163.2 229.0,162.9 230.5,162.0 232.0,162.8 233.7,162.2 235.3,163.3 237.0,162.0 238.7,162.8 240.3,162.9 242.0,162.2 243.7,165.0 245.3,165.9 247.0,165.7 247.8,168.0 248.5,169.2 249.2,168.9 250.0,172.2 251.2,173.0 252.4,174.0 253.6,174.4 254.8,175.8 256.0,176.9 256.6,179.2 257.2,180.2 257.9,181.5 258.5,183.9 258.6,184.3 258.8,186.0 258.9,186.8 259.0,190.4 259.1,191.7 259.2,193.3 259.4,194.8 259.5,196.1 258.0,197.0 256.5,197.5 255.0,198.4 253.3,198.9 251.7,200.1 250.0,199.8 248.5,199.0 247.0,198.2 245.5,197.6 244.1,198.5 242.6,197.3 241.1,196.5 239.6,195.8 238.1,194.7 236.6,194.6 235.1,194.5 233.7,193.1 232.2,192.5 230.7,191.8 229.2,191.4 227.7,189.7 226.2,189.8 224.7,188.7 223.2,189.1 221.7,187.4 220.2,187.5 218.7,187.4" fill="#fff" />
<polygon points="178.5,168.0 182.5,168.0 182.5,189.0 178.5,189.0" fill="#fff" />
<polygon points="187.5,166.0 189.0,166.0 189.0,187.0 187.5,187.0" fill="#fff" />
<polygon points="194.5,162.0 196.0,162.0 196.0,186.0 194.5,186.0" fill="#fff" />
<polygon points="198.0,163.0 199.5,163.0 199.5,185.0 198.0,185.0" fill="#fff" />
<polygon points="203.5,163.0 210.5,163.0 210.5,186.0 203.5,186.0" fill="#fff" />
<polygon points="155.5,186.0 158.0,184.0 160.0,185.5 157.5,188.0" fill="#fff" />
<polygon points="259.8,197.7 261.2,197.7 261.2,198.2 262.8,198.2 262.8,197.6 264.2,197.6 264.2,197.2 265.8,197.2 265.8,197.8 267.2,197.8 267.2,197.1 268.8,197.1 268.8,194.9 270.2,194.9 270.2,196.0 271.8,196.0 271.8,196.8 273.2,196.8 273.2,198.0 274.8,198.0 274.8,197.4 276.2,197.4 276.2,199.2 277.8,199.2 277.8,199.6 279.2,199.6 279.2,200.2 280.8,200.2 280.8,199.0 282.2,199.0 282.2,199.3 283.8,199.3 283.8,199.5 285.2,199.5 285.2,201.4 286.8,201.4 286.8,201.5 288.2,201.5 288.2,204.9 289.8,204.9 289.8,204.7 291.2,204.7 291.2,206.8 292.8,206.8 292.8,206.7 294.2,206.7 294.2,209.9 295.8,209.9 295.8,214.1 297.2,214.1 297.2,215.1 298.8,215.1 298.8,216.7 300.2,216.7 300.2,216.6 301.8,216.6 301.8,215.5 303.2,215.5 303.2,215.7 304.8,215.7 304.8,215.7 306.2,215.7 306.2,215.5 307.8,215.5 307.8,215.2 309.2,215.2 309.2,210.7 310.8,210.7 310.8,214.9 312.2,214.9 312.2,214.6 313.8,214.6 313.8,214.5 315.2,214.5 315.2,213.9 316.8,213.9 316.8,215.6 318.2,215.6 318.2,212.6 319.8,212.6 319.8,212.0 321.2,212.0 321.2,209.5 322.8,209.5 322.8,209.4 324.2,209.4 324.2,210.1 325.8,210.1 325.8,206.5 327.2,206.5 327.2,207.3 328.8,207.3 328.8,205.1 330.2,205.1 330.2,204.8 331.8,204.8 331.8,202.4 333.2,202.4 333.2,203.3 334.8,203.3 334.8,206.9 336.2,206.9 336.2,208.6 337.8,208.6 337.8,213.7 339.2,213.7 339.2,213.9 340.8,213.9 340.8,215.3 342.2,215.3 342.2,216.8 343.8,216.8 343.8,219.5 345.2,219.5 345.2,220.4 346.8,220.4 346.8,220.1 348.2,220.1 348.2,221.7 349.8,221.7 349.8,221.6 351.2,221.6 351.2,224.4 352.8,224.4 352.8,224.1 354.2,224.1 354.2,225.5 355.8,225.5 355.8,227.6 357.2,227.6 357.2,230.1 358.8,230.1 358.8,231.2 360.2,231.2 360.2,232.6 361.8,232.6 361.8,234.1 363.2,234.1 363.2,234.5 364.8,234.5 364.8,237.8 366.2,237.8 366.2,237.1 367.8,237.1 367.8,238.7 369.2,238.7 369.2,240.2 370.8,240.2 370.8,240.2 372.2,240.2 372.2,243.4 373.8,243.4 373.8,252.0 372.2,252.0 372.2,249.4 370.8,249.4 370.8,250.8 369.2,250.8 369.2,249.3 367.8,249.3 367.8,248.9 366.2,248.9 366.2,246.8 364.8,246.8 364.8,246.7 363.2,246.7 363.2,245.5 361.8,245.5 361.8,249.3 360.2,249.3 360.2,244.4 358.8,244.4 358.8,243.3 357.2,243.3 357.2,239.8 355.8,239.8 355.8,243.8 354.2,243.8 354.2,244.6 352.8,244.6 352.8,244.8 351.2,244.8 351.2,248.2 349.8,248.2 349.8,246.0 348.2,246.0 348.2,246.8 346.8,246.8 346.8,245.9 345.2,245.9 345.2,243.5 343.8,243.5 343.8,243.6 342.2,243.6 342.2,242.1 340.8,242.1 340.8,242.1 339.2,242.1 339.2,247.8 337.8,247.8 337.8,242.8 336.2,242.8 336.2,241.9 334.8,241.9 334.8,242.6 333.2,242.6 333.2,239.7 331.8,239.7 331.8,240.8 330.2,240.8 330.2,238.8 328.8,238.8 328.8,237.4 327.2,237.4 327.2,236.5 325.8,236.5 325.8,233.8 324.2,233.8 324.2,233.1 322.8,233.1 322.8,235.4 321.2,235.4 321.2,234.2 319.8,234.2 319.8,232.0 318.2,232.0 318.2,231.6 316.8,231.6 316.8,229.7 315.2,229.7 315.2,231.0 313.8,231.0 313.8,230.7 312.2,230.7 312.2,234.4 310.8,234.4 310.8,229.7 309.2,229.7 309.2,227.2 307.8,227.2 307.8,228.9 306.2,228.9 306.2,229.9 304.8,229.9 304.8,231.9 303.2,231.9 303.2,233.0 301.8,233.0 301.8,229.6 300.2,229.6 300.2,229.1 298.8,229.1 298.8,231.1 297.2,231.1 297.2,230.1 295.8,230.1 295.8,232.8 294.2,232.8 294.2,233.4 292.8,233.4 292.8,230.5 291.2,230.5 291.2,224.8 289.8,224.8 289.8,230.4 288.2,230.4 288.2,227.0 286.8,227.0 286.8,224.8 285.2,224.8 285.2,224.7 283.8,224.7 283.8,226.6 282.2,226.6 282.2,226.0 280.8,226.0 280.8,227.5 279.2,227.5 279.2,223.8 277.8,223.8 277.8,223.2 276.2,223.2 276.2,224.1 274.8,224.1 274.8,228.8 273.2,228.8 273.2,226.2 271.8,226.2 271.8,226.6 270.2,226.6 270.2,226.5 268.8,226.5 268.8,225.7 267.2,225.7 267.2,223.3 265.8,223.3 265.8,225.1 264.2,225.1 264.2,218.0 262.8,218.0 262.8,216.8 261.2,216.8 261.2,211.0 259.8,211.0" fill="#ff0000" />
<polyline points="324.4,209.0 333.7,199.8 340.9,196.2" fill="none" stroke="#ff0000" stroke-width="2" stroke-linejoin="round" />
<path d="M306.0 191.7V214.0 M337.3 181.9V300.0 M366.0 244.0V262.4 M374.0 250.0V269.6 M376.7 178.3V271.4 M342.5 230.0V265.0" stroke="#ff0000" stroke-width="2" fill="none"/>
<polyline points="354.3,245.0 354.3,140.7 358.0,139.5 362.4,146.1 362.4,167.6 364.2,168.5 373.1,176.5 377.0,176.0" fill="none" stroke="#ff0000" stroke-width="2.2" stroke-linejoin="round" />
<polyline points="377.0,176.0 380.3,176.5 389.2,189.0 398.2,210.5 403.5,235.0 405.3,255.0 406.5,285.0 407.5,338.0" fill="none" stroke="#ff0000" stroke-width="2" stroke-linejoin="round" />
<polyline points="378.5,180.1 384.0,186.0 391.0,198.0 396.0,209.0 400.0,223.1 403.3,245.0 404.8,270.0 405.6,300.0 406.2,330.0" fill="none" stroke="#ff0000" stroke-width="2" stroke-linejoin="round" />
<polygon points="412.0,268.0 417.9,267.0 420.6,260.8 425.9,251.9 430.4,245.6 436.7,235.8 442.9,226.8 449.2,220.6 458.1,217.0 471.6,214.3 476.0,209.8 485.0,208.0 485.0,213.0 480.0,215.5 476.0,218.0 476.0,261.7 469.8,276.0 464.4,282.3 464.5,305.0 458.0,308.0 440.0,310.0 420.0,312.0 412.0,310.0 410.0,290.0" fill="#ff0000" />
<polygon points="429.5,269.0 434.0,255.5 439.4,243.0 444.7,230.4 451.9,224.2 462.6,219.7 472.5,218.8 472.9,248.3 462.6,257.2 453.7,263.5 444.7,268.0 435.8,270.7" fill="#fff" />
<path d="M410.0 300.0V305.4 M438.8 300.0V327.3 M412.2 300.0V306.7 M419.3 300.0V308.2 M426.7 300.0V322.3 M411.9 300.0V325.3 M409.7 300.0V324.7 M459.9 300.0V316.3 M432.4 300.0V309.4 M419.5 300.0V305.9 M447.7 300.0V326.3 M408.5 300.0V329.4 M421.7 300.0V311.1 M461.8 300.0V326.7 M458.3 300.0V315.1 M443.6 300.0V312.8 M413.2 300.0V317.6 M425.8 300.0V305.2 M409.6 300.0V316.1 M420.3 300.0V310.0 M409.4 300.0V322.8 M415.1 300.0V317.6 M443.5 300.0V326.7 M413.6 300.0V327.4 M416.7 300.0V312.9 M458.6 300.0V312.0 M426.8 300.0V328.5 M426.6 300.0V317.6 M412.8 300.0V307.4 M452.6 300.0V306.1 M445.9 300.0V329.8 M438.6 300.0V319.5 M442.6 300.0V306.4 M413.6 300.0V317.8 M422.6 300.0V317.6 M440.7 300.0V315.9 M461.3 300.0V328.8 M453.8 300.0V328.7 M443.9 300.0V308.1 M437.1 300.0V308.8" stroke="#ff0000" stroke-width="1.6" fill="none"/>
<path d="M405.9 290.0V340.0 M414.9 300.0V348.0 M435.5 300.0V350.0 M447.5 300.0V338.0 M459.4 300.0V340.7 M420.0 300.0V330.0 M428.0 300.0V335.0 M452.0 300.0V330.0" stroke="#ff0000" stroke-width="2" fill="none"/>
<polyline points="521.8,209.9 523.3,210.7 524.8,208.9 526.3,210.6 527.9,209.2 529.4,208.8 530.9,210.4 532.4,209.3 533.9,208.4 535.5,209.0 537.0,209.8 538.5,209.9 540.0,208.7 541.6,209.2 543.1,209.3 544.7,208.2 546.2,208.8 547.8,208.4 549.3,208.0 550.9,207.9 552.4,208.2 554.0,208.1 555.5,207.5 557.1,207.5 558.6,208.5 560.2,207.7 561.7,208.0 563.2,208.0 564.8,207.3 566.3,208.3 567.8,205.9 569.3,206.8 570.8,205.8 572.3,207.0 573.9,206.7 575.4,203.9 576.9,204.4 578.4,205.3 579.9,205.1 581.5,204.9 583.0,204.1 584.5,204.2 586.0,204.1 587.5,203.4 589.0,203.9 590.6,201.4 592.1,203.2 593.6,201.8 595.1,203.0 596.6,202.0 598.2,201.3 599.7,202.0 601.2,200.9 602.7,200.7 604.2,200.1 605.7,201.0 607.3,201.2 608.8,201.4 610.3,200.4 611.8,201.0 613.3,200.1 614.9,199.8 616.4,200.1 617.9,200.3 619.4,199.1 620.9,199.0 622.4,198.8 624.0,198.8 625.5,198.0 627.0,199.1 628.5,197.7 630.0,197.9 631.6,196.6 633.1,197.0 634.6,196.6 636.1,195.6 637.6,196.9 639.1,195.3 640.7,195.9 642.2,194.9 643.7,193.3 645.3,193.4 646.8,193.8 648.4,193.3 650.0,193.1 651.5,192.7 653.1,191.5 654.7,192.4 656.2,190.8 657.8,192.5 659.4,191.5 661.0,191.4 662.5,191.5 664.1,191.7 665.7,190.3 667.2,190.0 668.8,190.3 670.3,189.5 671.8,190.1 673.3,191.8 674.8,189.8 676.3,190.9 677.8,189.3 679.3,190.4 680.8,189.8 682.3,189.9 683.8,190.2 685.3,190.9 686.8,189.7 688.3,189.5 689.8,188.6 691.3,189.6" fill="none" stroke="#ff0000" stroke-width="3.2" stroke-linejoin="round" />
<polyline points="521.8,204.8 521.8,207.2 521.8,208.2 521.8,211.0 521.8,210.0 521.8,212.8 521.8,215.2 521.8,216.0 523.3,215.5 524.8,215.8 526.3,214.9 527.9,215.9 529.4,217.4 530.9,216.4 532.4,214.7 533.9,214.8 535.5,215.0 537.0,215.9 538.5,214.5 540.0,214.5 541.6,215.6 543.1,215.5 544.7,214.6 546.2,214.0 547.8,213.6 549.3,214.1 550.9,213.0 552.4,215.0 554.0,214.0 555.5,214.7 557.1,215.6 558.6,215.1 560.2,213.4 561.7,214.7 563.2,214.9 564.8,213.5 566.3,213.2 567.8,213.8 569.3,212.6 570.8,214.7 572.3,211.9 573.9,212.8 575.4,213.3 576.9,213.2 578.4,213.4 579.9,213.4 581.5,213.0 583.0,213.9 584.5,211.5 586.0,213.0 587.5,212.4 589.0,212.9 590.6,212.9 592.1,212.0 593.6,212.2 595.2,212.8 596.9,212.1 598.5,211.0 600.1,212.5 601.7,212.4 603.4,209.3 605.0,210.2 606.5,211.4 608.0,209.8 609.6,209.1 611.1,208.4 612.6,207.8 614.1,207.7 615.7,207.0 617.2,207.6 618.7,206.4 620.3,206.1 621.8,205.3 623.4,205.9 625.0,205.0 626.5,205.3 628.1,205.9 629.6,205.1 631.2,205.0 632.8,204.6 634.3,204.1 635.9,203.7 637.5,203.3 639.0,203.8 640.6,202.3 642.1,203.7 643.7,202.5 645.2,201.6 646.7,201.5 648.1,201.0 649.6,201.2 651.1,200.3 652.6,201.3 654.0,199.6 655.5,198.2 657.0,198.9 658.5,197.7 659.9,198.7 661.4,199.1 662.9,198.5 664.4,196.8 665.8,196.8 667.3,198.3 668.8,196.9 670.3,196.3 671.8,196.5 673.3,197.1 674.8,195.8 676.3,194.6 677.8,194.3 679.3,194.0 680.8,192.7 682.3,191.9 683.8,192.3 685.3,191.1 686.8,191.3 688.3,191.0 689.8,192.1 691.3,189.4" fill="none" stroke="#ff0000" stroke-width="3.2" stroke-linejoin="round" />
<polyline points="600.0,205.4 601.5,205.2 603.0,205.4 604.5,205.6 606.0,204.4 607.5,204.0 609.0,203.2 610.5,203.5 612.0,204.3 613.5,203.8 615.0,202.8 616.5,203.1 618.0,203.2 619.5,203.3 621.0,202.4 622.5,202.4 624.0,201.1 625.5,201.4 627.0,203.1 628.5,200.1 630.0,200.9 631.6,200.9 633.1,200.1 634.6,199.4 636.1,199.5 637.6,199.1 639.1,198.7 640.7,197.0 642.2,197.8 643.7,196.9 645.3,196.9 646.8,197.2 648.4,197.2 650.0,197.1 651.5,195.9 653.1,196.6 654.7,196.6 656.2,196.3 657.8,196.2 659.4,194.9 661.0,194.6 662.5,195.1 664.1,193.3 665.7,194.1 667.2,193.4 668.8,193.2 670.3,192.0 671.8,192.4 673.3,192.8 674.8,193.2 676.3,193.0 677.8,192.0 679.3,191.7 680.8,191.1 682.3,191.7 683.8,191.0 685.3,191.4 686.8,191.9 688.3,190.4 689.8,189.2 691.3,189.4" fill="none" stroke="#ff0000" stroke-width="2.4" stroke-linejoin="round" />
<polyline points="468.0,215.7 469.2,214.9 470.5,216.0 471.7,214.0 473.0,211.3 474.2,212.2 475.5,211.7 476.7,209.2 478.2,208.6 479.7,208.7 481.3,209.0 482.8,209.1 484.3,209.3 485.8,209.1 487.3,208.8 488.8,208.7 490.4,207.8 491.9,205.6 493.4,206.6 494.9,206.9 496.4,206.1 498.0,207.2 499.5,205.9 501.0,205.3 502.5,207.3 504.0,206.5 505.5,206.0 507.1,206.6 508.6,206.6 510.1,205.8 511.8,203.2 513.4,204.7 515.1,204.9 516.8,204.3 518.5,205.3 520.1,206.1 521.8,204.6" fill="none" stroke="#ff0000" stroke-width="3.2" stroke-linejoin="round" />
<polyline points="474.5,215.0 475.6,216.6 476.7,213.1 478.2,212.3 479.7,213.4 481.3,213.5 482.8,212.3 484.3,213.5 485.8,212.2 487.3,211.7 488.8,212.6 490.4,213.0 491.9,211.6 493.4,212.3 494.9,211.9 496.4,214.5 498.0,211.2 499.5,213.1 501.0,211.7 502.5,211.6 504.0,212.3 505.5,212.4 507.1,212.7 508.6,211.8 510.1,211.0 511.8,210.9 513.4,211.8 515.1,211.8 516.8,212.5 518.5,211.5 520.1,212.0 521.8,212.4" fill="none" stroke="#ff0000" stroke-width="3.2" stroke-linejoin="round" />
<polyline points="134.2,115.9 135.8,115.1 137.3,115.2 138.9,115.1 140.4,116.6 142.0,115.4 143.7,116.6 145.4,116.4 147.1,117.2 148.8,117.0 148.8,114.9 148.8,113.3 148.8,111.9 148.8,110.5 148.8,108.6 148.8,107.3 148.8,106.6 148.8,103.4 148.8,102.8 148.8,100.7 148.8,99.7 148.8,98.5 148.8,96.5 148.8,95.4 148.8,92.7 150.4,94.2 152.0,93.4 153.6,94.2 155.2,94.0 156.8,92.8 158.4,93.8 160.0,94.4 161.5,95.2 163.0,94.7 164.5,94.9 166.0,94.2 167.5,95.8 169.0,96.1 170.5,95.4 172.0,95.4 173.7,95.0 175.3,96.5 177.0,97.7 178.7,97.0 180.3,97.5 182.0,97.4 183.6,96.9 185.3,98.4 186.3,95.9 187.4,95.2 188.4,94.2 189.5,93.3 190.5,91.9 191.6,90.7 192.6,88.9 193.5,87.2 194.4,86.4 195.2,84.6 196.1,82.8 197.0,81.4 197.7,80.2 198.3,77.9 199.0,76.6 199.7,74.9 200.3,74.3 201.0,72.8 202.0,72.5 203.0,69.6 204.0,68.9 205.0,68.6 206.0,66.9 207.1,65.4 208.2,64.9 209.3,62.4 210.4,60.5 211.9,59.4 213.5,59.2 215.1,58.9 216.8,57.7 218.4,57.7 220.1,58.1 221.7,57.9 223.4,57.0 225.0,57.3 226.5,57.2 228.0,55.9 229.5,56.5 231.0,56.7 232.6,56.1 234.1,55.2 235.6,56.0 237.1,56.4 238.6,56.7 240.3,54.7 241.9,57.1 243.6,55.1 245.3,56.1 247.0,56.1 248.7,55.9 250.3,55.4 252.0,54.7 253.6,55.6 255.2,54.9 256.7,53.9 258.3,56.6 259.9,55.5 261.5,56.0 263.1,54.6 264.6,55.7 266.2,55.7 267.8,55.7 269.4,55.1 271.0,54.8 272.5,55.5 274.1,54.7 275.7,55.2 277.3,56.3 278.8,56.0 280.4,56.7 282.0,56.9 283.5,58.3 285.0,58.3 286.5,57.9 288.0,58.8 289.5,58.2 291.0,58.7 292.5,59.6 294.0,58.9 295.5,59.7 297.0,59.4 298.5,60.6 300.0,61.8 301.5,61.0 303.0,62.0 304.5,61.9 306.0,62.2 307.5,62.6 309.0,64.3 310.5,65.2 312.0,64.7 313.5,64.7 315.0,65.9 316.4,66.0 317.9,67.1 319.4,67.4 320.9,67.9 322.4,68.6 323.9,68.6 325.3,69.2 326.8,69.1 328.3,70.3 329.7,70.5 331.2,71.8 332.6,72.1 334.0,73.3 335.4,74.1 336.9,73.9 338.3,74.9 339.7,75.5 341.1,77.0 342.6,78.2 344.0,78.4 345.3,78.6 346.6,80.3 347.9,79.5 349.2,81.8 350.5,81.5 351.8,81.2 353.1,84.7 354.4,84.9 355.7,84.4 357.0,85.8 358.3,86.3 359.6,87.3 361.0,87.3 362.3,88.6 363.7,90.0 365.1,90.7 366.4,92.1 367.8,92.4 369.2,94.4 370.5,93.7 371.9,95.1 373.3,94.8 374.6,96.0 376.0,98.2 377.2,98.0 378.3,99.7 379.5,100.4 380.6,100.9 381.8,102.2 382.9,103.1 384.1,104.1 385.2,105.7 386.4,106.6 387.5,107.0 388.7,107.8 389.8,109.4 391.0,110.1 392.0,112.0 393.0,114.1 394.0,114.5 395.0,115.4 396.0,116.6 397.0,117.6 397.6,119.1 398.3,120.6 398.9,122.5 399.5,124.1 400.1,126.2 400.8,127.2 401.4,128.9 401.9,130.0 402.4,133.0 402.9,134.0 403.5,136.2 404.0,137.3 404.5,139.2 405.0,139.9 405.3,142.0 405.5,144.6 405.8,144.2 406.1,147.0 406.4,148.8 406.6,149.8 406.9,151.6 407.2,153.4 407.4,154.1 407.7,156.2 407.9,157.1 408.1,158.8 408.3,160.4 408.5,162.1 408.7,163.9 408.9,165.6 409.1,166.2 409.3,169.5 409.5,170.6 409.6,172.0 409.7,173.0 409.9,174.7 410.0,176.6 410.1,178.2 410.2,178.7 410.3,181.5 410.4,184.2 410.6,183.4 410.7,186.4 410.8,187.7 410.8,189.0 410.9,191.2 410.9,191.4 410.9,193.7 410.9,195.8 410.9,196.5 411.0,197.9 411.0,199.7 411.0,200.9 411.1,203.5 411.1,203.7 411.1,206.2 411.1,206.6 411.1,209.1 411.2,210.2 411.2,210.5 411.2,213.3 411.2,214.3 411.3,216.1 411.3,218.6 411.3,218.8 411.4,220.3 411.4,223.2 411.4,224.0 411.4,226.2 411.4,227.1 411.5,228.0 411.5,230.0 411.5,232.1 411.5,233.5 411.5,234.5 411.5,236.1 411.5,237.5 411.6,238.8 411.6,241.6 411.6,242.1 411.6,243.0 411.6,244.8 411.6,247.0 411.6,248.4 411.6,249.5 411.6,250.8 411.6,252.6 411.6,253.3 411.6,255.0 411.7,257.6 411.7,258.4 411.7,260.4 411.7,262.3 411.7,263.5 411.7,264.7 411.7,267.3 411.7,268.1 411.7,269.0 411.7,271.1 411.7,272.4 411.7,273.3 411.8,275.3 411.8,276.7 411.8,277.3 411.8,279.7 411.8,281.1 411.8,282.6 411.8,283.5 411.8,285.6 411.8,287.3 411.8,288.9 411.8,289.8 411.8,292.2 411.9,292.7 411.9,294.7 411.9,297.0 411.9,297.5 411.9,299.1 411.9,301.4 411.9,302.2 411.9,303.8 411.9,305.5 411.9,307.5 411.9,307.3 411.9,309.5 412.0,310.9 412.0,312.4 412.0,314.0 412.0,315.6 412.0,317.6 412.0,318.5" fill="none" stroke="#800000" stroke-width="3" stroke-linejoin="round" />
<polyline points="134.2,115.5 135.7,115.7 137.2,115.5 138.8,116.0 140.3,116.8 141.8,116.4 143.3,116.2 144.8,116.6 146.3,116.5 147.9,117.2 149.4,117.6 150.9,117.1 152.4,117.5 153.9,118.2 155.4,117.7 157.0,118.2 158.5,117.9 160.0,118.2 161.6,118.5 163.1,119.8 164.7,118.9 166.2,119.1 167.8,119.3 169.3,119.6 170.9,120.2 172.4,120.2 174.0,121.1 175.5,120.6 177.1,121.3 178.6,121.0 180.2,121.3 181.7,120.7 183.3,121.4 184.8,121.7 186.4,121.8 187.9,121.2 189.5,122.7 191.0,122.3 192.6,122.5 194.1,122.8 195.7,123.1 197.2,123.5 198.8,123.1 200.3,123.5 201.9,124.2 203.4,124.4 204.9,124.4 206.5,124.5 208.0,124.7 209.6,125.2 211.1,125.9 212.7,125.2 214.2,126.5 215.7,126.5 217.3,126.2 218.8,126.9 220.4,126.2 221.9,126.4 223.5,126.8 225.0,127.3 226.5,127.7 228.0,127.9 229.5,128.4 231.1,127.8 232.6,129.1 234.1,128.6 235.6,129.2 237.1,129.6 238.6,129.6 240.2,129.8 241.7,130.2 243.2,130.9 244.7,131.4 246.2,131.7 247.7,131.4 249.2,131.7 250.8,132.0 252.3,132.8 253.8,132.1 255.3,133.7 256.8,133.3 258.4,133.4 259.9,134.1 261.5,134.6 263.0,134.6 264.6,135.1 266.1,135.0 267.6,135.7 269.2,135.9 270.7,135.6 272.3,136.5 273.8,136.2 275.4,136.5 276.9,136.3 278.5,136.8 280.0,137.5 281.5,136.9 283.1,137.9 284.6,138.0 286.2,138.3 287.7,137.5 289.3,138.6 290.8,139.2 292.3,139.0 293.8,139.7 295.3,139.1 296.8,140.7 298.3,140.5 299.8,141.5 301.3,140.8 302.8,142.2 304.4,142.2 305.9,143.0 307.4,142.7 308.9,143.2 310.4,144.7 311.9,143.9 313.4,144.3 314.9,144.8 316.4,144.9 317.9,146.2 319.4,146.8 320.9,146.3 322.4,146.4 323.9,148.0 325.4,148.4 326.8,148.7 328.3,149.3 329.8,148.9 331.3,149.7 332.8,149.6 334.3,150.1 335.8,151.5 337.3,151.3 338.8,152.9 340.3,152.4 341.7,152.6 343.2,153.6 344.7,154.5 346.2,154.4 347.7,154.2 349.2,155.2 350.6,156.3 352.0,156.2 353.3,156.8 354.7,158.2 356.1,158.5 357.5,158.7 358.9,159.6 360.2,160.1 361.6,161.2 363.0,161.8 364.4,162.9 365.8,163.4 367.2,163.2 368.5,164.6 369.9,165.5 371.3,166.0 372.8,166.9 374.2,167.0 375.6,167.5 377.1,169.0 378.6,168.9 380.0,169.1 381.1,171.4 382.3,171.8 383.4,173.0 384.6,173.6 385.8,174.7 386.9,175.8 388.1,177.1 389.2,178.4 390.2,178.6 391.2,181.0 392.2,181.4 393.2,182.6 394.2,184.5 395.2,185.4 396.2,186.0 397.2,188.5 398.2,188.7 398.8,190.6 399.5,192.0 400.1,194.0 400.8,194.7 401.4,196.8 402.1,197.5 402.7,199.8 403.4,200.5 404.0,202.1 404.7,204.5 405.3,205.3 405.6,206.7 405.9,209.1 406.2,209.8 406.5,210.8 406.8,213.0 407.1,213.7 407.4,216.1 407.7,217.6 408.0,218.4 408.3,219.9 408.6,221.7 408.9,223.1 409.0,224.2 409.1,226.4 409.2,226.9 409.2,229.1 409.3,230.6 409.4,232.2 409.5,234.0 409.6,234.9 409.7,237.1 409.8,238.4 409.8,239.7 409.9,241.0 410.0,242.6 410.1,244.7 410.2,245.7 410.3,247.7 410.4,249.6 410.4,251.1 410.5,252.9 410.6,253.6 410.7,254.9 410.7,257.2 410.8,258.5 410.8,260.4 410.9,261.5 410.9,263.5 411.0,264.9 411.0,266.4 411.1,267.8 411.1,269.3 411.1,270.8 411.2,272.3 411.2,274.2 411.3,275.1 411.3,277.6 411.4,278.4 411.4,280.4 411.5,281.5 411.5,282.9 411.6,285.4 411.6,286.0 411.6,287.2 411.7,288.9 411.7,290.6 411.8,293.2 411.8,293.9 411.9,295.7 411.9,296.5 412.0,298.6 412.0,300.3" fill="none" stroke="#800000" stroke-width="3" stroke-linejoin="round" />
<polyline points="412.0,300.9 412.0,298.1 412.0,297.2 412.0,295.6 412.0,293.4 412.1,292.4 412.1,290.7 412.1,288.1 412.1,288.1 412.1,286.5 412.1,284.5 412.1,282.5 412.1,282.4 412.2,280.3 412.2,279.1 412.2,277.8 412.2,275.3 412.2,274.4 412.2,272.4 412.2,271.0 412.2,269.4 412.3,267.9 412.3,267.0 412.3,264.9 412.3,263.3 412.3,261.7 412.3,260.5 412.3,258.3 412.3,257.0 412.4,255.7 412.4,253.9 412.4,252.6 412.4,250.8 412.4,250.6 412.4,248.8 412.4,246.8 412.4,245.0 412.5,244.6 412.5,242.1 412.5,240.4 412.5,239.1 412.5,237.6 412.6,236.6 412.7,234.3 412.8,233.9 412.8,230.9 412.9,230.1 413.0,227.8 413.1,227.7 413.2,225.1 413.2,223.7 413.3,222.6 413.4,221.3 413.5,218.6 413.6,217.4 413.7,215.4 413.8,214.6 413.8,213.0 413.9,211.3 414.0,209.7 414.2,208.3 414.4,206.6 414.6,205.8 414.8,204.8 415.0,201.5 415.2,200.9 415.4,199.3 415.6,198.2 415.8,196.0 416.0,194.9 416.4,192.9 416.9,192.2 417.3,190.4 417.8,188.7 418.2,187.4 418.7,185.5 419.1,183.3 419.6,182.9 420.0,181.1 420.6,179.5 421.2,178.7 421.9,177.5 422.5,175.0 423.1,173.7 423.8,173.5 424.4,172.1 425.0,169.6 425.6,168.0 426.2,166.9 426.9,165.6 427.5,163.7 428.1,163.1 428.8,161.1 429.4,159.8 430.0,159.5 430.8,157.4 431.6,156.4 432.4,155.4 433.2,154.2 434.0,152.3 434.8,151.2 435.6,149.4 436.3,149.4 437.1,147.6 437.9,145.4 438.7,144.6 439.5,143.7 440.3,142.3 441.1,141.6 441.9,140.1 442.9,137.9 443.9,136.9 444.9,135.0 445.9,134.6 446.9,133.3 448.0,133.3 449.0,130.8 450.0,128.4 451.0,127.9 452.0,127.1 453.2,125.4 454.4,124.7 455.5,124.0 456.7,123.4 457.9,122.2 459.1,120.9 460.3,120.7 461.4,119.1 462.6,118.2 463.8,116.8 465.0,116.1 466.3,115.7 467.5,113.5 468.8,113.2 470.0,112.6 471.3,111.0 472.5,110.2 473.8,108.5 475.0,108.7 476.3,107.6 477.6,106.1 479.0,104.1 480.3,103.5 481.6,103.5 483.0,102.9 484.3,101.1 485.6,100.6 486.9,98.9 488.2,98.4 489.5,97.8 490.8,97.2 492.1,95.5 493.4,96.0 494.7,95.4 496.0,93.4 497.4,92.7 498.9,93.0 500.3,91.8 501.8,90.4 503.2,91.3 504.6,90.4 506.1,89.5 507.5,90.2 508.9,88.6 510.3,87.5 511.7,87.4 513.1,86.2 514.5,85.7 515.9,85.7 517.3,84.6 518.8,84.1 520.2,84.5 521.6,83.5 523.0,82.9 524.4,82.2 525.8,81.5 527.2,81.4 528.6,80.1 530.0,80.4 531.4,78.5 532.8,78.3 534.3,77.2 535.7,77.2 537.1,77.1 538.5,77.1 539.9,75.5 541.4,75.3 542.8,74.6 544.2,73.9 545.6,73.1 547.0,73.2 548.5,71.8 549.9,72.2 551.3,71.6 552.7,70.9 554.2,70.3 555.6,69.7 557.1,70.9 558.5,68.9 560.0,69.9 561.4,69.1 562.9,68.2 564.3,67.4 565.8,68.1 567.2,68.0 568.7,66.3 570.1,66.2 571.6,66.4 573.0,65.7 574.5,66.2 575.9,64.6 577.4,64.8 578.9,63.6 580.3,64.9 581.8,63.2 583.3,62.1 584.7,62.8 586.2,62.5 587.7,63.2 589.1,61.7 590.6,61.6 592.1,61.6 593.5,61.7 595.0,60.6 596.6,60.8 598.1,60.2 599.7,59.5 601.3,59.3 602.9,59.0 604.4,58.2 606.0,58.9 607.6,57.3 609.1,58.2 610.7,57.8 612.3,56.9 613.9,56.3 615.4,56.2 617.0,56.2 618.6,56.1 620.1,55.6 621.7,55.6 623.2,54.5 624.8,54.7 626.3,53.5 627.9,54.3 629.5,53.7 631.0,53.2 632.6,53.7 634.1,53.1 635.7,51.1 637.2,52.2 638.8,51.2 640.3,52.3 641.8,52.8 643.3,51.1 644.8,51.2 646.3,50.9 647.7,51.0 649.2,51.0 650.7,51.2 652.2,49.9 653.7,51.0 655.2,49.5" fill="none" stroke="#800000" stroke-width="3.5" stroke-linejoin="round" />
<polyline points="412.0,319.1 412.0,318.1 412.1,316.4 412.1,314.0 412.2,312.6 412.2,311.3 412.2,310.0 412.3,309.1 412.3,306.4 412.3,305.7 412.4,304.3 412.4,302.8 412.5,301.2 412.5,300.3 412.5,298.2 412.6,296.9 412.6,295.3 412.7,294.4 412.7,291.1 412.7,291.1 412.8,288.9 412.8,287.4 412.8,285.5 412.9,283.6 412.9,282.8 413.0,281.2 413.0,280.2 413.1,277.8 413.1,277.7 413.2,275.6 413.3,273.9 413.4,272.1 413.4,270.6 413.5,268.9 413.6,267.7 413.7,266.5 413.8,264.9 413.8,262.8 413.9,261.9 414.0,260.1 414.1,259.1 414.1,258.4 414.2,256.3 414.3,254.3 414.4,252.2 414.4,250.8 414.5,249.2 414.6,248.8 414.8,246.5 414.9,245.3 415.1,243.4 415.2,242.2 415.4,241.3 415.5,238.7 415.6,237.3 415.8,235.5 415.9,234.7 416.1,232.2 416.2,230.6 416.4,228.9 416.5,227.3 416.7,226.7 417.0,226.2 417.2,222.9 417.4,222.3 417.7,220.5 417.9,218.2 418.1,217.1 418.4,215.6 418.6,213.9 418.8,213.6 419.1,210.2 419.3,209.8 419.5,208.2 419.8,206.2 420.0,205.1 420.7,204.0 421.3,202.3 422.0,201.0 422.7,199.7 423.3,197.0 424.0,197.3 424.7,196.3 425.3,194.3 426.0,192.9 426.7,190.3 427.3,189.5 428.0,187.8 428.7,186.5 429.3,185.9 430.0,183.6 430.9,182.6 431.7,180.4 432.6,180.0 433.4,178.8 434.2,177.1 435.1,175.8 435.9,175.7 436.8,172.9 437.6,171.6 438.5,170.5 439.3,170.1 440.2,169.3 441.0,167.1 441.9,165.2 442.8,164.1 443.7,163.7 444.7,161.4 445.6,161.4 446.5,160.1 447.4,158.2 448.3,157.3 449.2,156.1 450.2,155.2 451.1,152.7 452.0,152.6 453.2,150.8 454.4,149.5 455.5,148.9 456.7,147.7 457.9,146.3 459.1,145.0 460.3,144.2 461.4,144.4 462.6,143.6 463.8,141.9 465.0,141.1 466.3,139.2 467.5,138.4 468.8,137.5 470.0,135.7 471.3,134.7 472.5,134.2 473.8,132.9 475.0,131.5 476.3,131.2 477.6,129.9 479.0,129.5 480.3,128.0 481.6,126.9 483.0,126.1 484.3,125.0 485.6,123.8 487.1,123.1 488.6,122.9 490.1,122.0 491.5,121.5 493.0,119.3 494.5,119.1 496.0,118.3 497.6,117.9 499.1,116.8 500.6,116.1 502.2,116.0 503.8,115.0 505.3,113.6 505.4,113.3 505.4,111.6 505.5,109.3 505.6,108.4 505.7,106.1 505.8,105.5 505.8,103.3 505.9,101.4 506.0,100.1 506.1,98.4 506.1,97.3 506.2,95.8 506.3,94.1 506.4,92.3 506.4,89.2 506.5,89.5" fill="none" stroke="#800000" stroke-width="3.3" stroke-linejoin="round" />
<polygon points="487.8,100.0 496.0,95.0 506.4,89.5 506.4,114.0 496.0,118.5 487.8,122.5" fill="#800000" />
<polygon points="409.0,225.0 412.0,200.0 415.0,225.0 414.0,319.0 410.5,319.0" fill="#800000" />
<polyline points="143.9,329.1 225.2,329.1" fill="none" stroke="#ff0000" stroke-width="2.6" stroke-linejoin="round" />
<polyline points="143.9,377.9 225.2,377.9" fill="none" stroke="#800000" stroke-width="3" stroke-linejoin="round" />
<g transform="translate(233.40,340.17) scale(1.1372,1)" fill="#000"><text x="0.00" y="0" font-size="33.47" font-weight="bold" style="font-kerning:none">S</text><path transform="translate(22.33,0) scale(0.01634,-0.01634)" d="M478 0L478 1170L140 959L140 1180L493 1409L759 1409L759 0Z"/></g>
<g transform="translate(278.04,351.52) scale(1.1984,1)" fill="#000"><text x="0.00" y="0" font-size="18.36" font-weight="bold" style="font-kerning:none">25</text></g>
<g transform="translate(302.63,340.17) scale(1.0930,1)" fill="#000"><text x="0.00" y="0" font-size="33.47" font-weight="bold" style="font-kerning:none">as-G</text></g>
<g transform="translate(233.40,389.27) scale(1.1372,1)" fill="#000"><text x="0.00" y="0" font-size="33.47" font-weight="bold" style="font-kerning:none">S</text><path transform="translate(22.33,0) scale(0.01634,-0.01634)" d="M478 0L478 1170L140 959L140 1180L493 1409L759 1409L759 0Z"/></g>
<g transform="translate(278.04,399.42) scale(1.1984,1)" fill="#000"><text x="0.00" y="0" font-size="18.36" font-weight="bold" style="font-kerning:none">25</text></g>
<g transform="translate(314.50,389.20) scale(1.0683,1)" fill="#000"><text x="0.00" y="0" font-size="32.99" font-weight="bold" style="font-kerning:none">T-A</text></g>
<g transform="translate(237.54,112.87) scale(1.2061,1)" fill="#ff0000"><text x="0.00" y="0" font-size="38.20" font-weight="bold" style="font-kerning:none">3</text></g>
<g transform="translate(323.96,183.70) scale(1.1497,1)" fill="#000"><text x="0.00" y="0" font-size="43.54" font-weight="bold" style="font-kerning:none">2</text></g>
<g transform="translate(511.19,126.30) scale(1.1858,1)" fill="#000"><text x="0.00" y="0" font-size="43.97" font-weight="bold" style="font-kerning:none">2</text></g>
<g transform="translate(480.57,249.20) scale(1.1488,1)" fill="#000"><text x="0.00" y="0" font-size="43.39" font-weight="bold" style="font-kerning:none">2</text></g>
<g transform="translate(634.16,261.80) scale(1.2483,1)" fill="#6b0088"><path transform="translate(0.00,0) scale(0.02200,-0.02200)" d="M478 0L478 1170L140 959L140 1180L493 1409L759 1409L759 0Z"/></g>
<polyline points="650.4,183.3 633.0,186.0 616.0,189.5 600.0,192.5 585.0,195.2 575.0,197.0" fill="none" stroke="#6b0088" stroke-width="2.4" stroke-linejoin="round" />
<polygon points="575.2,193.8 560.2,199.6 560.5,201.3 577.5,201.3" fill="#6b0088" />
<polyline points="563.5,228.4 578.0,226.0 593.6,223.4 610.3,218.4 627.0,214.2 643.7,211.5 650.0,210.0" fill="none" stroke="#6b0088" stroke-width="2.4" stroke-linejoin="round" />
<polygon points="643.5,208.5 659.8,205.2 660.0,206.6 647.0,216.3 645.5,216.0" fill="#6b0088" />
<polygon points="943.2,247.3 944.8,247.3 944.8,248.2 946.2,248.2 946.2,251.4 947.8,251.4 947.8,250.5 949.2,250.5 949.2,250.7 950.8,250.7 950.8,250.6 952.2,250.6 952.2,244.2 953.8,244.2 953.8,244.7 955.2,244.7 955.2,250.0 956.8,250.0 956.8,251.9 958.2,251.9 958.2,252.4 959.8,252.4 959.8,251.0 961.2,251.0 961.2,249.9 962.8,249.9 962.8,250.8 964.2,250.8 964.2,251.3 965.8,251.3 965.8,251.4 967.2,251.4 967.2,250.7 968.8,250.7 968.8,252.3 970.2,252.3 970.2,251.1 971.8,251.1 971.8,252.2 973.2,252.2 973.2,250.5 974.8,250.5 974.8,249.5 976.2,249.5 976.2,251.9 977.8,251.9 977.8,251.3 979.2,251.3 979.2,249.9 980.8,249.9 980.8,250.4 982.2,250.4 982.2,252.4 983.8,252.4 983.8,243.6 985.2,243.6 985.2,245.9 986.8,245.9 986.8,252.4 988.2,252.4 988.2,251.3 989.8,251.3 989.8,252.2 991.2,252.2 991.2,253.7 992.8,253.7 992.8,250.4 994.2,250.4 994.2,252.5 995.8,252.5 995.8,252.5 997.2,252.5 997.2,251.7 998.8,251.7 998.8,253.4 1000.2,253.4 1000.2,250.3 1001.8,250.3 1001.8,251.6 1003.2,251.6 1003.2,253.7 1004.8,253.7 1004.8,250.9 1006.2,250.9 1006.2,247.6 1007.8,247.6 1007.8,255.4 1009.2,255.4 1009.2,250.9 1010.8,250.9 1010.8,251.3 1012.2,251.3 1012.2,251.0 1013.8,251.0 1013.8,247.9 1015.2,247.9 1015.2,252.8 1016.8,252.8 1016.8,252.4 1018.2,252.4 1018.2,251.1 1019.8,251.1 1019.8,253.0 1021.2,253.0 1021.2,253.0 1022.8,253.0 1022.8,252.1 1024.2,252.1 1024.2,253.2 1025.8,253.2 1025.8,250.8 1027.2,250.8 1027.2,253.8 1028.8,253.8 1028.8,253.2 1030.2,253.2 1030.2,254.3 1031.8,254.3 1031.8,250.8 1033.2,250.8 1033.2,254.3 1034.8,254.3 1034.8,251.9 1036.2,251.9 1036.2,254.3 1037.8,254.3 1037.8,252.7 1039.2,252.7 1039.2,252.7 1040.8,252.7 1040.8,253.2 1042.2,253.2 1042.2,253.5 1043.8,253.5 1043.8,252.8 1045.2,252.8 1045.2,254.1 1046.8,254.1 1046.8,252.7 1048.2,252.7 1048.2,253.6 1049.8,253.6 1049.8,254.4 1051.2,254.4 1051.2,254.1 1052.8,254.1 1052.8,253.8 1054.2,253.8 1054.2,253.5 1055.8,253.5 1055.8,255.0 1057.2,255.0 1057.2,255.2 1058.8,255.2 1058.8,254.5 1060.2,254.5 1060.2,257.0 1061.8,257.0 1061.8,254.4 1063.2,254.4 1063.2,257.1 1064.8,257.1 1064.8,256.9 1066.2,256.9 1066.2,256.9 1067.8,256.9 1067.8,258.7 1069.2,258.7 1069.2,258.1 1070.8,258.1 1070.8,256.7 1072.2,256.7 1072.2,258.6 1073.8,258.6 1073.8,256.5 1075.2,256.5 1075.2,257.4 1076.8,257.4 1076.8,258.4 1078.2,258.4 1078.2,259.5 1079.8,259.5 1079.8,260.0 1081.2,260.0 1081.2,260.2 1082.8,260.2 1082.8,261.2 1084.2,261.2 1084.2,260.7 1085.8,260.7 1085.8,260.4 1087.2,260.4 1087.2,261.5 1088.8,261.5 1088.8,261.3 1090.2,261.3 1090.2,260.7 1091.8,260.7 1091.8,262.2 1093.2,262.2 1093.2,262.5 1094.8,262.5 1094.8,261.8 1096.2,261.8 1096.2,263.0 1097.8,263.0 1097.8,261.5 1099.2,261.5 1099.2,251.6 1100.8,251.6 1100.8,262.5 1102.2,262.5 1102.2,261.8 1103.8,261.8 1103.8,261.8 1105.2,261.8 1105.2,259.2 1106.8,259.2 1106.8,262.4 1108.2,262.4 1108.2,261.4 1109.8,261.4 1109.8,264.0 1111.2,264.0 1111.2,262.6 1112.8,262.6 1112.8,263.3 1114.2,263.3 1114.2,262.1 1115.8,262.1 1115.8,262.2 1117.2,262.2 1117.2,263.1 1118.8,263.1 1118.8,262.5 1120.2,262.5 1120.2,260.9 1121.8,260.9 1121.8,262.2 1123.2,262.2 1123.2,263.5 1124.8,263.5 1124.8,264.9 1126.2,264.9 1126.2,263.4 1127.8,263.4 1127.8,262.3 1129.2,262.3 1129.2,264.0 1130.8,264.0 1130.8,263.9 1132.2,263.9 1132.2,264.7 1133.8,264.7 1133.8,261.4 1135.2,261.4 1135.2,262.9 1136.8,262.9 1136.8,262.4 1138.2,262.4 1138.2,262.6 1139.8,262.6 1139.8,263.2 1141.2,263.2 1141.2,263.1 1142.8,263.1 1142.8,261.9 1144.2,261.9 1144.2,265.4 1145.8,265.4 1145.8,262.1 1147.2,262.1 1147.2,260.5 1148.8,260.5 1148.8,263.0 1150.2,263.0 1150.2,263.0 1151.8,263.0 1151.8,265.0 1153.2,265.0 1153.2,257.7 1154.8,257.7 1154.8,251.0 1156.2,251.0 1156.2,261.4 1157.8,261.4 1157.8,262.5 1159.2,262.5 1159.2,261.7 1160.8,261.7 1160.8,259.8 1162.2,259.8 1162.2,256.0 1163.8,256.0 1163.8,256.7 1165.2,256.7 1165.2,254.6 1166.8,254.6 1166.8,245.9 1168.2,245.9 1168.2,254.4 1169.8,254.4 1169.8,253.8 1171.2,253.8 1171.2,253.6 1172.8,253.6 1172.8,253.1 1174.2,253.1 1174.2,251.9 1175.8,251.9 1175.8,253.0 1177.2,253.0 1177.2,252.1 1178.8,252.1 1178.8,249.7 1180.2,249.7 1180.2,249.9 1181.8,249.9 1181.8,250.0 1183.2,250.0 1183.2,251.3 1184.8,251.3 1184.8,249.5 1186.2,249.5 1186.2,244.4 1187.8,244.4 1187.8,247.7 1189.2,247.7 1189.2,246.5 1190.8,246.5 1190.8,247.9 1192.2,247.9 1192.2,246.4 1193.8,246.4 1193.8,245.9 1195.2,245.9 1195.2,245.5 1196.8,245.5 1196.8,245.8 1198.2,245.8 1198.2,241.5 1199.8,241.5 1199.8,245.5 1201.2,245.5 1201.2,243.1 1202.8,243.1 1202.8,243.4 1204.2,243.4 1204.2,242.8 1205.8,242.8 1205.8,274.9 1204.2,274.9 1204.2,283.4 1202.8,283.4 1202.8,281.1 1201.2,281.1 1201.2,284.0 1199.8,284.0 1199.8,282.5 1198.2,282.5 1198.2,284.5 1196.8,284.5 1196.8,288.9 1195.2,288.9 1195.2,292.7 1193.8,292.7 1193.8,300.9 1192.2,300.9 1192.2,299.5 1190.8,299.5 1190.8,303.8 1189.2,303.8 1189.2,304.8 1187.8,304.8 1187.8,310.8 1186.2,310.8 1186.2,309.3 1184.8,309.3 1184.8,310.4 1183.2,310.4 1183.2,316.7 1181.8,316.7 1181.8,323.7 1180.2,323.7 1180.2,321.0 1178.8,321.0 1178.8,315.2 1177.2,315.2 1177.2,312.5 1175.8,312.5 1175.8,316.9 1174.2,316.9 1174.2,314.4 1172.8,314.4 1172.8,316.8 1171.2,316.8 1171.2,320.0 1169.8,320.0 1169.8,317.3 1168.2,317.3 1168.2,314.0 1166.8,314.0 1166.8,312.1 1165.2,312.1 1165.2,342.2 1163.8,342.2 1163.8,312.6 1162.2,312.6 1162.2,321.8 1160.8,321.8 1160.8,318.9 1159.2,318.9 1159.2,313.1 1157.8,313.1 1157.8,313.1 1156.2,313.1 1156.2,318.7 1154.8,318.7 1154.8,314.6 1153.2,314.6 1153.2,311.7 1151.8,311.7 1151.8,317.7 1150.2,317.7 1150.2,351.3 1148.8,351.3 1148.8,317.4 1147.2,317.4 1147.2,312.2 1145.8,312.2 1145.8,313.4 1144.2,313.4 1144.2,319.2 1142.8,319.2 1142.8,313.1 1141.2,313.1 1141.2,310.3 1139.8,310.3 1139.8,315.2 1138.2,315.2 1138.2,317.3 1136.8,317.3 1136.8,312.4 1135.2,312.4 1135.2,323.3 1133.8,323.3 1133.8,319.1 1132.2,319.1 1132.2,321.5 1130.8,321.5 1130.8,314.2 1129.2,314.2 1129.2,322.3 1127.8,322.3 1127.8,321.4 1126.2,321.4 1126.2,322.1 1124.8,322.1 1124.8,316.1 1123.2,316.1 1123.2,317.7 1121.8,317.7 1121.8,325.2 1120.2,325.2 1120.2,320.5 1118.8,320.5 1118.8,321.8 1117.2,321.8 1117.2,324.2 1115.8,324.2 1115.8,359.7 1114.2,359.7 1114.2,322.1 1112.8,322.1 1112.8,323.8 1111.2,323.8 1111.2,330.9 1109.8,330.9 1109.8,321.0 1108.2,321.0 1108.2,329.0 1106.8,329.0 1106.8,328.4 1105.2,328.4 1105.2,327.5 1103.8,327.5 1103.8,320.9 1102.2,320.9 1102.2,329.7 1100.8,329.7 1100.8,323.1 1099.2,323.1 1099.2,319.3 1097.8,319.3 1097.8,321.9 1096.2,321.9 1096.2,324.3 1094.8,324.3 1094.8,320.1 1093.2,320.1 1093.2,322.7 1091.8,322.7 1091.8,321.7 1090.2,321.7 1090.2,353.1 1088.8,353.1 1088.8,317.2 1087.2,317.2 1087.2,320.3 1085.8,320.3 1085.8,318.7 1084.2,318.7 1084.2,317.4 1082.8,317.4 1082.8,318.6 1081.2,318.6 1081.2,312.6 1079.8,312.6 1079.8,316.3 1078.2,316.3 1078.2,320.3 1076.8,320.3 1076.8,320.0 1075.2,320.0 1075.2,320.8 1073.8,320.8 1073.8,339.6 1072.2,339.6 1072.2,317.5 1070.8,317.5 1070.8,316.3 1069.2,316.3 1069.2,313.0 1067.8,313.0 1067.8,310.8 1066.2,310.8 1066.2,313.2 1064.8,313.2 1064.8,314.6 1063.2,314.6 1063.2,315.1 1061.8,315.1 1061.8,346.8 1060.2,346.8 1060.2,309.7 1058.8,309.7 1058.8,309.6 1057.2,309.6 1057.2,315.4 1055.8,315.4 1055.8,343.4 1054.2,343.4 1054.2,304.1 1052.8,304.1 1052.8,306.0 1051.2,306.0 1051.2,318.9 1049.8,318.9 1049.8,301.1 1048.2,301.1 1048.2,299.8 1046.8,299.8 1046.8,302.0 1045.2,302.0 1045.2,312.5 1043.8,312.5 1043.8,307.3 1042.2,307.3 1042.2,310.8 1040.8,310.8 1040.8,298.7 1039.2,298.7 1039.2,306.9 1037.8,306.9 1037.8,306.0 1036.2,306.0 1036.2,305.0 1034.8,305.0 1034.8,301.6 1033.2,301.6 1033.2,308.4 1031.8,308.4 1031.8,299.6 1030.2,299.6 1030.2,306.5 1028.8,306.5 1028.8,305.0 1027.2,305.0 1027.2,300.0 1025.8,300.0 1025.8,300.8 1024.2,300.8 1024.2,341.0 1022.8,341.0 1022.8,301.8 1021.2,301.8 1021.2,312.9 1019.8,312.9 1019.8,331.7 1018.2,331.7 1018.2,313.2 1016.8,313.2 1016.8,303.3 1015.2,303.3 1015.2,308.7 1013.8,308.7 1013.8,304.4 1012.2,304.4 1012.2,317.2 1010.8,317.2 1010.8,328.6 1009.2,328.6 1009.2,304.1 1007.8,304.1 1007.8,310.7 1006.2,310.7 1006.2,305.4 1004.8,305.4 1004.8,307.1 1003.2,307.1 1003.2,309.1 1001.8,309.1 1001.8,321.3 1000.2,321.3 1000.2,299.4 998.8,299.4 998.8,306.9 997.2,306.9 997.2,301.2 995.8,301.2 995.8,304.2 994.2,304.2 994.2,308.9 992.8,308.9 992.8,342.5 991.2,342.5 991.2,299.1 989.8,299.1 989.8,306.1 988.2,306.1 988.2,302.1 986.8,302.1 986.8,306.6 985.2,306.6 985.2,306.1 983.8,306.1 983.8,302.3 982.2,302.3 982.2,303.3 980.8,303.3 980.8,296.6 979.2,296.6 979.2,296.0 977.8,296.0 977.8,297.0 976.2,297.0 976.2,299.4 974.8,299.4 974.8,297.0 973.2,297.0 973.2,294.5 971.8,294.5 971.8,295.5 970.2,295.5 970.2,324.7 968.8,324.7 968.8,325.3 967.2,325.3 967.2,291.2 965.8,291.2 965.8,295.9 964.2,295.9 964.2,295.1 962.8,295.1 962.8,302.4 961.2,302.4 961.2,293.2 959.8,293.2 959.8,287.5 958.2,287.5 958.2,288.2 956.8,288.2 956.8,303.1 955.2,303.1 955.2,277.6 953.8,277.6 953.8,281.3 952.2,281.3 952.2,271.7 950.8,271.7 950.8,277.3 949.2,277.3 949.2,276.2 947.8,276.2 947.8,273.7 946.2,273.7 946.2,266.2 944.8,266.2 944.8,276.3 943.2,276.3" fill="#0000ff" />
<path d="M991.0 300.0V383.5 M1114.7 320.0V391.0 M1047.0 300.0V359.0 M967.2 290.0V346.0 M1032.4 300.0V350.0 M1093.0 320.0V364.0 M1081.5 320.0V352.0 M1123.8 320.0V377.0 M1108.0 320.0V370.0 M1128.0 320.0V372.0 M1070.0 310.0V345.0 M1118.0 310.0V360.0" stroke="#0000ff" stroke-width="2.2" fill="none"/>
<polygon points="1206.3,242.1 1206.9,242.6 1207.5,239.6 1208.1,238.5 1208.7,236.6 1209.3,234.4 1209.8,233.9 1210.4,232.9 1211.0,230.3 1211.6,230.0 1212.2,229.3 1212.8,227.8 1214.3,225.2 1215.8,225.3 1217.3,224.4 1218.7,226.2 1220.2,225.4 1221.7,225.1 1223.2,223.4 1224.7,222.8 1226.2,223.4 1227.6,223.0 1229.1,221.8 1230.6,222.2 1232.1,222.2 1233.6,221.7 1235.1,220.4 1236.6,219.3 1238.1,220.6 1239.6,220.7 1241.0,220.1 1242.5,219.8 1244.0,219.3 1245.5,220.2 1247.0,219.4 1248.5,219.3 1250.0,218.2 1251.5,218.3 1253.1,218.7 1254.6,217.5 1256.1,217.1 1257.7,217.6 1259.2,218.6 1260.7,217.5 1262.3,218.3 1263.8,216.8 1265.3,216.4 1266.9,215.3 1268.4,215.7 1269.9,217.1 1271.5,216.0 1273.0,216.1 1274.5,215.8 1276.0,214.9 1277.5,214.4 1279.0,214.4 1280.5,214.5 1282.0,214.0 1283.5,213.8 1285.0,213.2 1286.5,212.1 1288.0,212.2 1289.5,211.4 1291.0,212.6 1292.5,209.8 1294.0,211.0 1295.5,212.8 1297.0,210.3 1298.5,209.4 1300.0,210.0 1301.5,210.7 1302.9,209.1 1304.4,209.3 1305.8,208.6 1307.3,207.8 1308.7,210.2 1310.2,207.4 1311.7,206.5 1313.1,206.2 1314.6,206.5 1316.0,206.1 1317.5,206.0 1318.9,205.2 1320.4,203.5 1321.9,204.7 1323.3,203.7 1324.8,203.3 1326.2,202.0 1327.7,202.3 1329.1,201.8 1330.6,202.0 1332.1,200.5 1333.5,201.4 1335.0,201.2 1336.5,199.9 1337.9,200.0 1339.4,199.5 1340.9,200.6 1342.4,197.6 1343.8,199.0 1345.3,197.7 1346.8,198.4 1348.2,199.1 1349.7,197.6 1351.2,197.9 1352.7,196.8 1354.1,198.8 1355.6,197.6 1357.1,197.5 1358.5,195.2 1360.0,195.1 1361.6,196.6 1363.1,195.2 1364.7,194.9 1366.2,195.0 1367.8,193.4 1369.4,194.7 1370.9,193.8 1372.5,193.9 1374.1,192.7 1375.6,193.3 1377.2,192.0 1378.8,193.0 1380.3,192.8 1381.9,192.4 1383.4,191.7 1385.0,191.5 1386.6,188.6 1388.1,191.3 1389.7,190.2 1391.2,190.3 1392.8,189.8 1394.4,188.7 1395.9,189.2 1397.5,189.9 1399.0,190.3 1400.6,188.5 1402.2,188.1 1403.7,189.8 1405.3,187.7 1406.8,189.9 1408.4,188.0 1408.4,188.8 1408.4,191.8 1408.4,193.9 1408.4,192.9 1406.8,195.4 1405.3,194.2 1403.7,195.8 1402.2,194.5 1400.6,193.7 1399.0,195.6 1397.5,196.1 1395.9,197.3 1394.4,197.2 1392.8,196.6 1391.2,196.0 1389.7,196.0 1388.1,196.4 1386.6,196.1 1385.0,196.8 1383.5,195.3 1382.0,197.8 1380.5,198.0 1379.0,200.5 1377.5,199.4 1376.0,198.7 1374.5,199.9 1373.0,198.8 1371.4,199.7 1369.9,199.0 1368.4,202.0 1366.9,201.7 1365.4,200.6 1363.9,201.9 1362.4,203.1 1360.9,203.0 1359.4,203.3 1357.9,202.6 1356.3,203.0 1354.8,203.9 1353.2,204.8 1351.7,203.7 1350.1,203.7 1348.6,205.8 1347.0,204.4 1345.5,206.2 1343.9,205.8 1342.4,206.6 1340.8,207.6 1339.3,207.0 1337.7,207.3 1336.2,206.2 1334.6,206.7 1333.1,208.0 1331.5,209.0 1330.0,209.1 1328.5,210.2 1327.0,209.0 1325.5,209.3 1324.1,210.3 1322.6,209.9 1321.1,210.2 1319.6,209.7 1318.1,211.7 1316.6,210.5 1315.2,212.1 1313.7,210.9 1312.2,213.3 1310.7,212.0 1309.2,213.8 1307.7,212.3 1306.3,213.5 1304.8,215.2 1303.3,214.0 1301.8,215.1 1300.5,215.4 1299.2,214.7 1297.9,217.6 1296.6,218.5 1295.2,218.0 1293.9,220.1 1292.6,219.8 1291.3,220.4 1290.0,222.0 1288.6,222.2 1287.1,225.3 1285.7,222.9 1284.3,225.4 1282.9,226.4 1281.4,224.7 1280.0,225.6 1278.6,228.2 1277.1,228.0 1275.7,229.4 1274.3,230.8 1272.9,230.3 1271.4,230.4 1270.0,229.8 1268.7,232.9 1267.3,232.7 1266.0,234.5 1264.7,235.1 1263.3,234.6 1262.0,237.8 1260.7,238.0 1259.3,238.5 1258.0,237.7 1256.7,239.0 1255.3,239.6 1254.0,240.5 1252.7,240.6 1251.3,242.6 1250.0,243.2 1248.6,243.9 1247.2,243.8 1245.8,245.8 1244.4,245.6 1243.0,243.8 1241.6,246.1 1240.2,247.2 1238.8,248.6 1237.4,248.2 1236.0,248.8 1234.6,249.1 1233.2,250.7 1231.8,250.4 1230.4,250.9 1229.0,251.4 1227.9,253.5 1226.8,253.7 1225.8,253.9 1224.7,256.8 1223.6,256.8 1222.5,258.7 1221.5,259.8 1220.4,261.6 1219.3,262.5 1218.2,262.3 1217.2,263.7 1216.1,263.9 1215.0,267.3 1213.9,267.5 1212.8,269.4 1211.7,269.1 1210.7,268.9 1209.6,272.9 1208.5,272.8 1207.4,274.0 1206.3,275.0" fill="#0000ff" />
<path d="M1181.5 310.0V365.0 M1169.5 310.0V357.0 M1190.4 300.0V327.0 M1160.0 310.0V345.0 M1175.0 310.0V350.0 M1186.0 305.0V340.0 M1155.0 310.0V338.0" stroke="#0000ff" stroke-width="2.4" fill="none"/>
<polyline points="1368.0,198.2 1369.5,198.4 1371.1,197.4 1372.6,199.3 1374.2,198.6 1375.7,199.0 1377.3,200.6 1378.8,200.4 1380.4,199.9 1381.9,199.3 1383.5,200.8 1385.0,201.3 1386.5,201.3 1387.9,200.9 1389.4,201.6 1390.8,201.6 1392.3,202.8 1393.8,203.6 1395.2,204.0 1396.7,203.3 1398.2,204.2 1399.6,204.8 1401.1,204.5 1402.6,205.0 1404.0,206.7 1405.5,205.9 1406.9,206.7 1408.4,206.2" fill="none" stroke="#0000ff" stroke-width="2" stroke-linejoin="round" />
<polyline points="1330.0,200.0 1331.5,199.1 1333.0,200.2 1334.5,201.0 1336.0,201.7 1337.5,201.2 1339.0,201.0 1340.5,200.7 1342.0,200.4 1343.5,200.8 1345.0,201.4 1346.5,200.6 1348.0,201.8 1349.5,200.7 1351.0,200.3 1352.5,200.9 1354.0,200.6 1355.5,200.9 1357.0,202.5 1358.5,201.8 1360.0,202.1 1361.6,202.5 1363.1,202.4 1364.7,201.1 1366.2,202.0 1367.8,201.3 1369.4,200.9 1370.9,201.0 1372.5,199.6 1374.1,199.8 1375.6,200.1 1377.2,200.3 1378.8,199.5 1380.3,199.5 1381.9,200.0 1383.4,200.0 1385.0,199.5 1386.6,199.6 1388.1,198.4 1389.7,198.2 1391.2,198.4 1392.8,197.8 1394.4,197.5 1395.9,198.6 1397.5,197.3 1399.0,196.6 1400.6,197.3 1402.2,197.9 1403.7,196.6 1405.3,197.1 1406.8,195.9 1408.4,195.7" fill="none" stroke="#0000ff" stroke-width="2" stroke-linejoin="round" />
<polygon points="1157.2,263.5 1175.0,255.0 1193.4,246.0 1199.0,244.0 1195.0,249.0 1180.0,255.0 1165.0,261.0" fill="#fff" />
<polygon points="1219.0,242.0 1230.0,237.0 1238.0,236.0 1228.0,241.0" fill="#fff" />
<polygon points="836.2,128.8 837.8,128.8 837.8,120.9 839.2,120.9 839.2,131.7 840.8,131.7 840.8,130.1 842.2,130.1 842.2,125.0 843.8,125.0 843.8,128.7 845.2,128.7 845.2,126.1 846.8,126.1 846.8,127.5 848.2,127.5 848.2,128.8 849.8,128.8 849.8,128.9 851.2,128.9 851.2,133.6 852.8,133.6 852.8,131.9 854.2,131.9 854.2,129.7 855.8,129.7 855.8,135.4 857.2,135.4 857.2,131.6 858.8,131.6 858.8,125.0 860.2,125.0 860.2,133.1 861.8,133.1 861.8,124.6 863.2,124.6 863.2,128.7 864.8,128.7 864.8,132.9 866.2,132.9 866.2,132.9 867.8,132.9 867.8,135.2 869.2,135.2 869.2,135.1 870.8,135.1 870.8,136.8 872.2,136.8 872.2,140.2 873.8,140.2 873.8,136.2 875.2,136.2 875.2,136.3 876.8,136.3 876.8,139.0 878.2,139.0 878.2,134.0 879.8,134.0 879.8,143.1 881.2,143.1 881.2,137.5 882.8,137.5 882.8,144.9 884.2,144.9 884.2,148.8 885.8,148.8 885.8,149.7 887.2,149.7 887.2,147.4 888.8,147.4 888.8,141.0 890.2,141.0 890.2,151.1 891.8,151.1 891.8,152.9 893.2,152.9 893.2,154.6 894.8,154.6 894.8,145.4 896.2,145.4 896.2,152.9 897.8,152.9 897.8,153.2 899.2,153.2 899.2,154.5 900.8,154.5 900.8,154.9 902.2,154.9 902.2,159.1 903.8,159.1 903.8,161.0 902.2,161.0 902.2,158.9 900.8,158.9 900.8,159.8 899.2,159.8 899.2,165.6 897.8,165.6 897.8,166.4 896.2,166.4 896.2,174.8 894.8,174.8 894.8,167.5 893.2,167.5 893.2,168.9 891.8,168.9 891.8,163.6 890.2,163.6 890.2,165.6 888.8,165.6 888.8,163.2 887.2,163.2 887.2,163.8 885.8,163.8 885.8,159.9 884.2,159.9 884.2,167.9 882.8,167.9 882.8,155.9 881.2,155.9 881.2,154.2 879.8,154.2 879.8,152.0 878.2,152.0 878.2,149.6 876.8,149.6 876.8,150.6 875.2,150.6 875.2,154.7 873.8,154.7 873.8,148.8 872.2,148.8 872.2,153.6 870.8,153.6 870.8,152.5 869.2,152.5 869.2,150.8 867.8,150.8 867.8,148.3 866.2,148.3 866.2,150.1 864.8,150.1 864.8,146.8 863.2,146.8 863.2,151.7 861.8,151.7 861.8,153.3 860.2,153.3 860.2,152.4 858.8,152.4 858.8,151.5 857.2,151.5 857.2,155.7 855.8,155.7 855.8,145.8 854.2,145.8 854.2,147.1 852.8,147.1 852.8,148.8 851.2,148.8 851.2,152.0 849.8,152.0 849.8,148.2 848.2,148.2 848.2,146.4 846.8,146.4 846.8,155.4 845.2,155.4 845.2,148.8 843.8,148.8 843.8,147.6 842.2,147.6 842.2,151.0 840.8,151.0 840.8,151.5 839.2,151.5 839.2,150.6 837.8,150.6 837.8,150.9 836.2,150.9" fill="#0000ff" />
<polyline points="889.0,151.8 890.3,152.9 891.7,152.9 893.0,154.0 894.3,155.5 895.6,155.6 897.0,156.7 898.3,157.4 899.6,157.7 900.9,157.8 902.3,159.9 903.6,160.2 905.0,161.3 906.4,160.6 907.7,161.5 909.1,162.0 910.5,163.4 911.9,165.1 913.3,165.6 914.6,166.1 916.0,166.9 917.4,168.0 918.8,168.0 920.3,169.0 921.7,169.4 923.2,168.8 924.6,170.3 926.1,171.7 927.5,171.4 929.0,172.1 930.4,172.5 931.9,173.1 933.3,174.5 934.8,174.4 936.2,174.6 937.6,174.4 939.0,176.5 940.4,176.6 941.8,177.5 943.1,179.7 944.5,180.5 945.9,180.0 947.3,182.2 948.7,182.8 950.1,183.1 951.5,184.7 952.9,184.3 954.3,185.4 955.7,186.1 957.1,187.1 958.5,189.0 959.9,188.7 961.3,189.6 962.0,191.1 962.6,193.1 963.3,194.3 963.9,196.3 964.6,196.9 965.2,198.0 965.9,199.8 966.5,201.5 967.2,202.4 968.5,204.3 969.8,206.2 971.2,206.3 972.5,207.8 973.8,209.7 974.8,209.8 975.9,210.7 976.9,211.7 978.0,213.5 979.0,214.7 980.0,215.4 981.1,216.6 982.1,218.3 983.2,219.2 984.2,219.1 985.3,220.9 986.3,222.0 987.5,223.7 988.8,224.5 990.0,225.7 991.0,227.0 992.1,227.6 993.1,229.7 994.2,230.6 995.2,232.4 996.3,232.8 997.3,234.4 998.4,235.3 999.4,236.5 1000.5,238.6 1001.5,239.3 1002.9,240.6 1004.4,240.6 1005.8,242.1 1007.2,242.0 1008.7,243.5 1010.1,244.3 1011.6,245.7 1013.0,246.4 1014.5,246.5 1016.0,247.3 1017.6,247.3 1019.1,247.8 1020.6,248.2 1022.1,248.1 1023.6,248.3 1025.2,248.9 1026.7,248.8 1028.2,249.5 1029.7,250.2 1031.2,250.4 1032.8,250.1 1034.3,249.9 1035.8,250.8 1037.3,251.0 1038.8,251.8 1040.3,251.3 1041.8,251.5 1043.4,252.2 1044.9,251.8 1046.4,252.2 1047.9,253.3 1049.4,253.4 1050.9,253.1 1052.4,253.1 1054.0,252.7 1055.5,253.7 1057.0,253.6 1058.5,253.9 1060.0,253.7" fill="none" stroke="#0000ff" stroke-width="2.4" stroke-linejoin="round" />
<path d="M903.6 160.0V227.0" stroke="#0000ff" stroke-width="2.6" fill="none"/>
<polyline points="903.6,226.5 904.0,224.8 904.3,223.8 904.7,223.2 905.0,220.9 905.4,217.8 905.7,216.9 906.1,214.9 907.7,215.6 909.3,216.7 910.9,216.6 912.6,215.9 914.2,216.6 915.8,215.8 917.4,215.3 918.7,216.3 919.9,217.8 921.2,220.6 922.4,219.4 923.7,222.5 925.0,223.4 926.3,223.2 927.6,224.2 929.0,224.7 930.3,226.1 931.6,227.6 932.9,228.0 934.4,229.5 935.9,230.4 937.5,230.5 939.0,231.3 940.5,231.7 942.0,232.8 942.4,233.3 942.8,236.0 943.3,237.5 943.7,238.2 944.1,242.2 944.5,241.3 944.9,242.9 945.3,245.4 945.8,245.2 946.2,247.7 946.6,248.7" fill="none" stroke="#0000ff" stroke-width="4" stroke-linejoin="round" />
<path d="M908.0 216.0V228.0 M937.0 225.0V238.0 M944.0 230.0V248.0" stroke="#0000ff" stroke-width="2.5" fill="none"/>
<path d="M933.7 211.5V230.0" stroke="#0000ff" stroke-width="1.8" fill="none"/>
<polyline points="1167.5,236.0 1167.5,228.1 1180.5,211.4 1201.1,192.0 1206.3,190.6" fill="none" stroke="#0000ff" stroke-width="2.2" stroke-linejoin="round" />
<path d="M1206.3 190.0V245.0" stroke="#0000ff" stroke-width="2.4" fill="none"/>
<polyline points="836.8,153.3 838.3,153.2 839.7,153.0 841.2,152.9 842.6,152.3 844.1,152.1 845.6,151.3 847.0,150.3 848.5,150.6 850.2,149.6 851.8,149.3 853.5,150.2 855.2,149.6 856.8,149.1 858.5,149.1 860.0,149.8 861.4,149.4 862.9,150.6 864.4,150.7 865.8,152.0 867.3,152.2 868.9,153.6 870.4,153.5 872.0,153.1 873.5,153.8 875.1,153.5 876.7,154.5 878.2,155.0 879.8,155.2 881.4,153.8 882.9,154.3 884.5,154.4 886.1,154.0 887.7,154.1 889.2,152.6 890.8,153.1 892.4,152.2 894.0,153.0 895.5,153.4 897.1,153.9 898.6,153.5 900.2,154.2 901.8,153.9 903.3,154.1 904.9,155.3 906.5,155.0 908.0,154.3 909.6,154.6 911.1,155.1 912.7,155.8 914.3,155.6 915.8,155.5 917.4,154.2 919.0,155.2 920.5,155.6 922.1,155.7 923.7,155.9 925.2,155.7 926.8,156.9 928.4,156.9 929.9,156.3 931.5,156.0 933.1,157.7 934.6,156.5 936.2,157.6 937.8,158.1 939.3,156.9 940.9,157.7 942.5,157.6 944.0,158.2 945.6,158.3 947.2,159.3 948.8,158.8 950.3,158.7 951.9,159.5 953.5,159.0 955.0,159.1 956.6,160.6 958.2,159.3 959.7,159.6 961.3,160.1 962.9,159.8 964.4,159.5 966.0,161.3 967.5,160.6 969.1,161.0 970.7,161.3 972.2,161.2 973.8,161.4 975.4,162.3 976.9,163.6 978.5,163.1 980.0,163.3 981.6,162.4 983.2,163.4 984.7,163.0 986.3,164.3 987.8,164.0 989.3,164.4 990.8,164.6 992.2,164.6 993.7,164.4 995.2,165.7 996.7,164.9 998.2,165.3 999.7,166.0 1001.1,166.0 1002.6,166.8 1004.1,167.4 1005.6,167.2 1007.1,167.5 1008.6,167.6 1010.1,168.3 1011.5,167.2 1013.0,168.6 1014.5,168.2 1016.0,168.3 1017.5,169.2 1019.0,169.4 1020.5,170.3 1022.0,170.9 1023.5,169.5 1025.1,171.0 1026.6,172.4 1028.1,172.2 1029.6,172.9 1031.1,172.6 1032.6,172.2 1034.1,172.7 1035.6,174.0 1037.1,174.5 1038.6,174.0 1040.1,174.6 1041.7,175.3 1043.2,174.6 1044.7,175.7 1046.2,177.0 1047.7,177.7 1049.2,176.9 1050.6,178.6 1052.0,178.1 1053.4,178.7 1054.7,178.7 1056.1,180.9 1057.5,181.0 1058.9,183.0 1060.3,182.7 1061.7,183.4 1063.1,183.1 1064.5,185.4 1065.8,185.2 1067.2,186.0 1068.6,185.7 1070.0,187.9 1071.0,189.2 1072.1,189.6 1073.2,191.1 1074.2,192.4 1075.2,193.9 1076.3,194.7 1077.3,196.7 1078.4,196.9 1079.5,197.9 1080.5,199.2 1081.5,199.3 1082.6,201.4 1083.7,203.5 1084.7,204.3 1085.6,205.1 1086.6,207.0 1087.5,207.1 1088.5,209.3 1089.4,211.1 1090.4,212.5 1091.3,213.1 1092.3,215.2 1093.2,217.1 1094.2,217.2 1095.1,219.1 1096.1,219.2 1097.0,220.1 1098.0,222.6 1099.0,223.4 1100.0,224.7 1101.0,225.5 1101.9,226.8 1102.9,228.5 1103.4,230.4 1103.9,231.0 1104.4,231.7 1104.9,234.7 1105.4,235.8 1105.9,237.4 1106.4,238.6 1106.9,241.2 1107.4,241.5 1107.9,243.3 1108.4,243.6 1108.9,245.7 1109.4,247.1 1109.8,249.1 1110.2,250.9 1110.6,251.9 1111.0,254.8 1111.4,255.0 1111.8,256.9 1112.2,258.9 1112.6,259.7 1113.0,262.3" fill="none" stroke="#000080" stroke-width="2.2" stroke-linejoin="round" />
<polyline points="892.4,151.7 894.0,151.5 895.5,153.4 897.1,152.6 898.7,153.1 900.2,152.7 901.8,152.6 903.4,153.7 904.9,154.4 906.5,154.7 908.1,156.0 909.6,154.2 911.2,155.5 912.8,155.3 914.3,157.8 915.9,156.8 917.5,157.2 919.0,157.1 920.6,158.8 922.1,158.2 923.7,158.9 925.3,157.3 926.9,159.6 928.5,159.0 930.2,159.2 931.8,159.6 933.4,158.6 935.0,158.6 935.2,160.9 935.3,162.3 935.5,163.4 935.7,165.3 935.9,166.5 936.0,169.0 936.2,170.7 937.6,170.9 939.0,173.0 940.4,171.5 941.8,173.2 943.1,175.4 944.5,174.8 945.9,174.8 947.3,177.7 948.7,177.9 950.3,177.1 951.9,178.8 953.5,177.9 955.2,178.1 956.8,179.2 958.4,179.4 960.0,179.3 961.3,180.8 962.5,181.4 963.8,183.1 965.0,184.1 966.3,185.6 966.3,186.4 966.3,187.4 966.3,189.0 966.3,191.4 966.3,194.2 966.3,195.3 966.3,195.9 967.8,196.8 969.3,195.1 970.8,196.4 972.3,195.1 973.8,195.7 974.6,196.9 975.5,197.5 976.3,199.1 977.1,199.4 978.0,201.4 978.8,203.4 980.0,206.4 981.3,204.8 982.5,205.2 983.8,205.3 985.0,207.6 986.3,206.5 987.9,207.7 989.4,209.2 991.0,208.7 992.5,211.2 994.1,211.6 995.7,211.0 997.2,211.7 998.8,211.7 1000.2,212.3 1001.7,214.2 1003.1,215.0 1004.5,215.4 1006.0,216.0 1007.4,216.0 1008.8,217.3 1010.3,216.6 1011.7,218.3 1013.1,220.0 1014.6,220.5 1016.0,219.8 1017.7,220.1 1019.4,221.5 1021.0,222.0 1022.7,219.9 1024.4,220.9 1025.9,221.6 1027.4,222.6 1028.9,221.5 1030.4,222.8 1031.9,222.4 1033.3,224.6 1034.8,223.5 1036.3,223.4 1037.8,223.6 1039.3,224.9 1040.8,224.9 1042.3,224.0 1043.8,225.2 1045.3,224.4 1046.8,225.1 1048.3,225.0 1049.8,225.3 1051.2,226.0 1052.7,226.1 1054.2,227.5 1055.7,227.9 1057.2,227.5 1058.7,227.2 1060.1,229.1 1061.5,227.7 1063.0,228.3 1064.4,230.8 1065.8,231.3 1067.2,232.1 1068.7,231.8 1070.1,231.7 1071.5,232.8 1073.0,234.1 1074.4,233.8 1075.8,234.4 1077.2,234.5 1078.7,235.2 1080.1,237.2 1081.5,237.5 1082.9,236.9 1084.4,237.5 1085.8,238.5 1087.2,239.8 1088.7,239.2 1090.1,240.5 1091.5,239.6 1093.0,240.8 1094.4,242.6 1095.8,243.5 1097.2,242.6 1098.7,243.4 1100.1,245.1 1101.5,244.9 1103.0,245.3 1104.4,246.6 1105.6,247.4 1106.9,249.1 1108.1,249.9 1109.4,250.0 1110.6,251.4 1111.9,252.4 1113.1,252.6 1114.4,253.9 1115.6,256.3 1116.9,255.5 1118.1,258.4" fill="none" stroke="#000080" stroke-width="2.6" stroke-linejoin="round" />
<path d="M947.0 172.0V190.0 M950.0 170.0V186.0 M1011.0 160.0V176.0 M981.0 186.0V198.0 M977.0 188.0V200.0" stroke="#000080" stroke-width="1.6" fill="none"/>
<polygon points="1090.0,237.4 1091.7,237.5 1093.3,238.5 1095.0,238.9 1096.7,239.9 1098.3,239.2 1100.0,239.8 1100.8,241.0 1101.7,243.8 1102.5,244.4 1103.4,244.3 1104.2,246.0 1105.1,247.0 1106.0,248.7 1106.8,250.1 1108.2,252.2 1109.6,249.9 1111.0,252.6 1112.4,252.8 1113.8,252.6 1115.2,253.6 1116.6,254.0 1118.0,255.0 1119.6,255.2 1121.3,253.0 1122.9,254.5 1124.6,252.9 1126.2,253.7 1127.7,253.0 1129.2,253.5 1130.7,253.1 1132.2,253.4 1133.7,252.7 1135.2,252.1 1136.6,252.4 1138.0,251.7 1139.4,251.9 1140.7,248.3 1142.1,248.9 1143.5,249.0 1144.9,246.6 1146.3,246.6 1147.7,247.5 1149.1,246.3 1150.4,244.0 1151.8,244.8 1153.2,243.9 1154.6,242.9 1156.1,242.1 1157.6,241.5 1159.1,240.3 1160.6,240.0 1162.1,240.4 1163.6,239.5 1165.0,240.2 1166.5,238.1 1168.0,236.2 1169.5,237.1 1171.0,237.1 1172.5,236.6 1174.0,235.9 1175.5,234.7 1177.0,235.7 1178.5,233.6 1180.0,234.0 1181.5,232.7 1183.0,231.4 1184.4,232.7 1185.9,229.3 1187.4,229.9 1188.9,230.2 1190.4,229.0 1191.9,229.2 1193.4,228.0 1194.7,226.7 1196.0,227.6 1197.2,224.9 1198.5,223.9 1199.8,222.2 1201.4,222.1 1203.0,222.8 1204.7,222.4 1206.3,221.7 1206.3,223.3 1206.3,226.5 1204.9,225.6 1203.4,227.3 1202.0,228.1 1200.6,228.5 1199.1,230.0 1197.7,230.2 1196.3,230.9 1194.8,233.5 1193.4,233.5 1191.9,234.4 1190.4,234.3 1188.9,235.5 1187.4,236.0 1185.9,236.9 1184.4,238.3 1183.0,237.1 1181.5,238.1 1180.0,238.5 1178.5,236.7 1177.0,238.8 1175.5,240.4 1174.0,241.4 1172.6,241.2 1171.2,243.1 1169.8,243.8 1168.5,243.3 1167.1,245.2 1165.7,246.1 1164.3,245.8 1162.9,245.5 1161.5,247.8 1160.1,247.3 1158.8,247.8 1157.4,248.8 1156.0,249.0 1154.6,250.7 1153.9,251.9 1153.1,253.5 1152.4,254.4 1151.7,254.8 1150.9,256.6 1150.2,258.6 1149.5,259.0 1148.7,262.7 1148.0,261.8 1146.7,262.6 1145.3,264.8 1144.0,265.5 1142.7,266.0 1141.3,266.8 1140.0,268.3 1138.5,268.6 1137.0,268.5 1135.5,267.8 1134.0,268.3 1132.5,268.6 1131.0,268.5 1129.5,265.8 1128.0,267.4 1126.5,267.5 1125.0,267.8 1123.5,268.1 1122.0,268.6 1120.5,268.4 1119.0,267.9 1117.5,268.0 1116.0,269.2 1114.5,267.6 1113.0,268.2 1111.5,269.1 1110.0,268.2 1109.2,265.2 1108.5,265.5 1107.7,263.6 1106.9,262.4 1106.2,261.8 1105.4,260.0 1104.6,258.1 1103.8,257.5 1103.1,255.8 1102.3,254.2 1101.5,253.0 1100.8,251.6 1100.0,249.8 1098.8,248.8 1097.5,248.3 1096.2,246.7 1095.0,245.6 1093.8,246.5 1092.5,244.6 1091.2,243.9 1090.0,242.9" fill="#000080" />
<polygon points="1104.2,255.0 1105.8,255.0 1105.8,255.3 1107.2,255.3 1107.2,255.5 1108.8,255.5 1108.8,256.5 1110.2,256.5 1110.2,255.5 1111.8,255.5 1111.8,255.9 1113.2,255.9 1113.2,257.6 1114.8,257.6 1114.8,255.6 1116.2,255.6 1116.2,256.6 1117.8,256.6 1117.8,258.5 1119.2,258.5 1119.2,257.9 1120.8,257.9 1120.8,258.4 1122.2,258.4 1122.2,257.4 1123.8,257.4 1123.8,256.7 1125.2,256.7 1125.2,257.4 1126.8,257.4 1126.8,255.4 1128.2,255.4 1128.2,257.4 1129.8,257.4 1129.8,257.4 1131.2,257.4 1131.2,257.1 1132.8,257.1 1132.8,257.3 1134.2,257.3 1134.2,257.1 1135.8,257.1 1135.8,254.9 1137.2,254.9 1137.2,256.5 1138.8,256.5 1138.8,254.3 1140.2,254.3 1140.2,257.7 1141.8,257.7 1141.8,254.4 1143.2,254.4 1143.2,255.5 1144.8,255.5 1144.8,255.8 1146.2,255.8 1146.2,254.5 1147.8,254.5 1147.8,307.8 1146.2,307.8 1146.2,287.0 1144.8,287.0 1144.8,292.4 1143.2,292.4 1143.2,305.9 1141.8,305.9 1141.8,298.8 1140.2,298.8 1140.2,298.4 1138.8,298.4 1138.8,319.3 1137.2,319.3 1137.2,314.5 1135.8,314.5 1135.8,316.5 1134.2,316.5 1134.2,320.5 1132.8,320.5 1132.8,337.1 1131.2,337.1 1131.2,319.6 1129.8,319.6 1129.8,332.2 1128.2,332.2 1128.2,317.5 1126.8,317.5 1126.8,319.1 1125.2,319.1 1125.2,322.9 1123.8,322.9 1123.8,324.3 1122.2,324.3 1122.2,327.2 1120.8,327.2 1120.8,320.6 1119.2,320.6 1119.2,325.4 1117.8,325.4 1117.8,319.1 1116.2,319.1 1116.2,308.6 1114.8,308.6 1114.8,316.6 1113.2,316.6 1113.2,320.6 1111.8,320.6 1111.8,313.4 1110.2,313.4 1110.2,303.9 1108.8,303.9 1108.8,303.7 1107.2,303.7 1107.2,289.8 1105.8,289.8 1105.8,282.9 1104.2,282.9" fill="#000080" />
<polyline points="1126.2,253.0 1126.4,252.4 1126.6,249.1 1126.8,248.6 1127.1,246.1 1127.3,245.5 1127.5,244.1 1127.7,241.2 1127.9,240.0 1128.2,238.4 1128.4,236.7 1128.6,235.7 1128.8,234.0 1129.5,232.3 1130.2,231.8 1130.9,230.6 1131.6,228.1 1132.4,227.1 1133.1,226.0 1133.8,224.4 1134.5,222.7 1135.2,222.2 1136.5,221.1 1137.8,219.9 1139.1,218.2 1140.4,218.4 1141.7,217.2 1143.0,214.8 1144.3,213.8 1145.8,213.9 1147.2,212.0 1148.7,212.0 1150.2,211.0 1151.7,209.8 1153.1,209.4 1154.6,207.9 1156.2,208.1 1157.8,206.8 1159.4,208.9 1161.0,208.1 1162.7,207.5 1164.3,206.5 1165.9,206.5 1167.5,206.3 1169.1,205.7 1170.8,205.3 1172.4,203.8 1174.0,204.2 1175.6,203.2 1177.2,202.4 1178.9,202.0 1180.5,202.6 1182.2,202.8 1183.9,201.3 1185.7,203.1 1187.4,202.8 1189.1,201.6 1190.8,201.4 1191.8,200.6 1192.9,200.1 1193.9,198.2 1194.9,196.6 1195.9,196.4 1197.0,193.9 1198.0,194.1 1199.0,193.6 1200.1,192.0 1201.1,191.2 1202.4,189.7 1203.9,189.8 1205.5,189.5 1207.0,188.9 1208.5,189.3 1210.0,189.4 1211.6,190.2 1213.1,190.4 1214.6,189.7 1216.1,188.9 1217.7,189.0 1219.2,189.3 1220.7,190.2 1222.2,189.6 1223.8,189.4 1225.3,188.9 1226.8,189.9 1228.3,189.6 1229.8,189.4 1231.3,189.5 1232.9,190.4 1234.4,189.3 1235.9,190.4 1237.4,190.1 1238.9,189.4 1240.4,189.9 1242.0,189.3 1243.5,188.9 1245.0,189.2 1246.6,188.8 1248.1,189.6 1249.7,189.3 1251.2,189.6 1252.8,189.7 1254.4,187.3 1255.9,189.3 1257.5,188.0 1259.1,189.2 1260.6,188.5 1262.2,189.1 1263.8,189.8 1265.3,187.9 1266.9,189.0 1268.4,188.8 1270.0,187.7 1271.5,189.2 1273.1,188.9 1274.6,188.6 1276.1,188.5 1277.6,190.8 1279.2,188.7 1280.7,187.9 1282.2,188.4 1283.8,188.8 1285.3,188.8 1286.8,189.0 1288.4,188.5 1289.9,189.4 1291.4,188.8 1292.9,188.3 1294.5,188.7 1296.0,189.0 1297.6,189.7 1299.2,189.5 1300.8,189.0 1302.4,189.2 1304.0,189.3 1305.6,190.4 1305.6,187.2 1305.6,186.2 1305.6,184.7 1305.6,182.1 1305.6,181.1 1307.1,181.1 1308.7,180.7 1310.2,181.3 1311.7,181.6 1313.3,181.7 1314.8,180.9 1316.3,181.1 1317.9,182.4 1319.4,180.3 1319.4,182.7 1319.4,184.7 1319.4,185.9 1319.4,187.8 1319.4,189.1 1320.3,188.2 1321.2,187.2 1322.2,185.0 1323.1,183.9 1324.0,182.5 1325.5,182.1 1327.1,182.1 1328.6,181.3 1330.1,182.2 1331.6,182.6 1333.2,182.4 1334.7,182.0 1336.2,180.4 1337.7,181.8 1339.3,180.2 1340.8,180.4 1342.3,181.4 1343.8,179.5 1345.4,180.4 1346.9,179.9 1348.4,179.5 1349.9,178.8 1351.5,179.4 1353.0,178.7 1354.5,179.4 1356.0,179.3 1357.5,177.5 1359.0,177.8 1360.5,177.6 1362.0,176.9 1362.8,175.5 1363.7,174.9 1364.5,173.3 1365.3,171.0 1366.8,171.0 1368.4,170.9 1369.9,169.1 1371.5,168.6 1373.0,169.4 1374.5,169.1 1376.1,167.2 1377.6,167.3 1379.1,168.2 1380.7,167.2 1382.2,167.6 1383.7,167.4 1385.3,167.9 1386.8,165.9 1388.3,166.0 1389.9,166.5 1391.4,167.7 1392.9,166.9 1394.5,165.9 1396.0,167.1 1396.8,168.5 1397.5,169.3 1398.2,170.5 1399.0,172.3 1400.3,171.8 1401.6,170.2 1402.9,169.4 1404.1,168.1 1405.4,167.0 1406.7,165.7 1408.0,165.5" fill="none" stroke="#000080" stroke-width="2.4" stroke-linejoin="round" />
<polyline points="1206.3,221.4 1207.9,221.2 1209.5,221.9 1211.1,221.2 1212.8,221.2 1214.4,218.7 1216.0,220.3 1217.6,218.9 1219.2,218.4 1220.8,217.8 1222.4,219.2 1224.0,218.4 1225.7,216.5 1227.3,215.6 1228.9,216.2 1230.5,215.3 1232.1,216.7 1233.7,214.4 1235.3,214.5 1236.9,216.4 1238.5,217.2 1240.2,217.8 1241.8,218.8 1243.4,220.5 1245.0,218.8 1246.5,218.8 1248.0,217.9 1249.5,219.9 1251.0,220.7 1252.5,219.9 1254.0,221.4 1255.5,220.5 1257.0,222.1 1258.5,221.2 1260.0,219.8 1261.5,220.0 1263.1,219.1 1264.6,218.7 1266.1,220.4 1267.6,220.8 1269.1,221.6 1270.7,219.6 1272.2,219.3 1273.7,218.4 1275.2,220.1 1276.8,219.4 1278.3,218.4 1279.8,219.4 1281.3,219.1 1282.8,216.8 1284.4,219.0 1285.9,218.3 1287.4,217.6 1288.9,216.8 1290.4,218.0 1292.0,217.0 1293.5,216.4 1295.0,213.0" fill="none" stroke="#000080" stroke-width="2.8" stroke-linejoin="round" />
<polyline points="1295.0,213.6 1295.0,212.8 1295.0,209.8 1295.0,208.4 1295.0,206.0 1295.0,206.4 1295.0,204.2 1296.7,203.0 1298.3,202.0 1300.0,200.7 1301.4,200.2 1302.9,200.2 1304.3,198.9 1305.8,199.5 1307.2,197.9 1308.6,197.1 1310.1,197.8 1311.5,196.3 1313.0,196.2 1314.4,195.0 1315.9,193.4 1317.3,194.5 1318.7,192.8 1320.2,193.7 1321.6,191.5 1323.1,190.8 1324.5,191.5 1326.0,191.2 1327.5,190.7 1329.0,189.6 1330.5,190.5 1332.0,188.8 1333.5,189.1 1335.0,188.6 1336.5,188.5 1338.0,188.9 1339.5,187.7 1341.0,188.1 1342.5,187.9 1344.0,186.1 1345.5,186.1 1347.0,186.3 1348.5,185.8 1350.0,186.0 1351.5,184.4 1353.0,185.6 1354.5,185.3 1356.1,184.5 1357.6,183.4 1359.1,184.0 1360.7,183.3 1362.2,183.7 1363.7,183.0 1365.3,183.2 1366.8,182.2 1368.3,183.0 1369.9,180.4 1371.4,180.9 1373.0,181.5 1374.5,180.0 1376.0,181.0 1377.6,179.5 1379.1,180.0 1380.6,179.1 1382.2,179.0 1383.7,179.1 1385.2,178.5 1386.7,177.8 1388.3,178.9 1389.8,177.1 1391.3,176.0 1392.8,176.7 1394.3,176.2 1395.8,175.9 1397.4,175.8 1398.9,173.7 1400.4,174.4 1401.9,174.0 1403.4,172.8 1405.0,172.5 1406.5,170.1 1408.0,171.1" fill="none" stroke="#000080" stroke-width="2.4" stroke-linejoin="round" />
<polyline points="1360.0,202.3 1361.5,199.9 1363.1,200.9 1364.6,201.5 1366.2,201.9 1367.7,202.7 1369.2,200.5 1370.8,201.8 1372.3,202.5 1373.8,201.1 1375.4,202.1 1376.9,203.6 1378.5,203.3 1380.0,202.9 1381.6,200.7 1383.1,202.5 1384.7,202.9 1386.2,202.5 1387.8,202.7 1389.3,205.0 1390.9,202.7 1392.4,202.3 1394.0,203.2 1395.6,202.8 1397.1,202.9 1398.7,203.1 1400.2,203.8 1401.8,203.4 1403.3,202.5 1404.9,203.3 1406.4,203.8 1408.0,203.2" fill="none" stroke="#0000ff" stroke-width="2.4" stroke-linejoin="round" />
<polyline points="853.0,49.7 941.7,49.7" fill="none" stroke="#0000ff" stroke-width="2.6" stroke-linejoin="round" />
<polyline points="853.0,100.8 941.7,100.8" fill="none" stroke="#000080" stroke-width="2.2" stroke-linejoin="round" />
<g transform="translate(951.52,61.18) scale(1.2518,1)" fill="#000"><text x="0.00" y="0" font-size="32.63" font-weight="bold" style="font-kerning:none">S</text><path transform="translate(21.76,0) scale(0.01593,-0.01593)" d="M478 0L478 1170L140 959L140 1180L493 1409L759 1409L759 0Z"/></g>
<g transform="translate(998.10,72.91) scale(1.1987,1)" fill="#000"><path transform="translate(0.00,0) scale(0.00972,-0.00972)" d="M515 0L515 1237L197 1010L197 1180L530 1409L696 1409L696 0Z"/><text x="11.08" y="0" font-size="19.92" font-weight="normal" style="font-kerning:none">00</text></g>
<g transform="translate(1038.47,61.18) scale(1.1847,1)" fill="#000"><text x="0.00" y="0" font-size="32.63" font-weight="bold" style="font-kerning:none">as-G</text></g>
<g transform="translate(951.52,112.08) scale(1.2464,1)" fill="#000"><text x="0.00" y="0" font-size="32.77" font-weight="bold" style="font-kerning:none">S</text><path transform="translate(21.86,0) scale(0.01600,-0.01600)" d="M478 0L478 1170L140 959L140 1180L493 1409L759 1409L759 0Z"/></g>
<g transform="translate(998.10,123.71) scale(1.1987,1)" fill="#000"><path transform="translate(0.00,0) scale(0.00972,-0.00972)" d="M515 0L515 1237L197 1010L197 1180L530 1409L696 1409L696 0Z"/><text x="11.08" y="0" font-size="19.92" font-weight="normal" style="font-kerning:none">00</text></g>
<g transform="translate(1049.48,112.40) scale(1.1473,1)" fill="#000"><text x="0.00" y="0" font-size="32.70" font-weight="bold" style="font-kerning:none">T-A</text></g>
<g transform="translate(1179.29,229.40) scale(1.1439,1)" fill="#000"><text x="0.00" y="0" font-size="30.51" font-weight="bold" style="font-kerning:none">2</text></g>
<g transform="translate(1213.92,217.47) scale(1.1584,1)" fill="#ff0000"><text x="0.00" y="0" font-size="29.18" font-weight="bold" style="font-kerning:none">3</text></g>
<g transform="translate(878.92,268.00) scale(1.4180,1)" fill="#6b0088"><path transform="translate(0.00,0) scale(0.01299,-0.01299)" d="M478 0L478 1170L140 959L140 1180L493 1409L759 1409L759 0Z"/></g>
<polyline points="933.4,274.8 928.0,270.0 922.2,264.7 917.0,257.0 913.3,249.8 905.8,240.0 897.6,234.1 891.6,226.6 887.0,222.0" fill="none" stroke="#6b0088" stroke-width="2.2" stroke-linejoin="round" />
<polygon points="882.8,217.8 894.4,223.1 888.1,229.4" fill="#6b0088" />
<polyline points="950.6,163.9 970.0,168.0 986.3,173.9 997.0,181.0 1005.1,190.2 1010.0,199.0 1012.0,204.0" fill="none" stroke="#6b0088" stroke-width="1.8" stroke-linejoin="round" />
<polygon points="1013.7,208.2 1006.6,201.3 1014.0,198.3" fill="#6b0088" />
<polygon points="138.2,706.6 139.8,706.6 139.8,707.2 141.2,707.2 141.2,707.1 142.8,707.1 142.8,708.0 144.2,708.0 144.2,711.0 145.8,711.0 145.8,706.8 147.2,706.8 147.2,708.9 148.8,708.9 148.8,707.9 150.2,707.9 150.2,710.0 151.8,710.0 151.8,707.5 153.2,707.5 153.2,708.8 154.8,708.8 154.8,709.3 156.2,709.3 156.2,709.1 157.8,709.1 157.8,709.9 159.2,709.9 159.2,709.6 160.8,709.6 160.8,709.6 162.2,709.6 162.2,711.0 163.8,711.0 163.8,711.7 165.2,711.7 165.2,711.0 166.8,711.0 166.8,712.1 168.2,712.1 168.2,713.5 169.8,713.5 169.8,712.5 171.2,712.5 171.2,713.5 172.8,713.5 172.8,714.1 174.2,714.1 174.2,712.6 175.8,712.6 175.8,712.6 177.2,712.6 177.2,714.2 178.8,714.2 178.8,713.4 180.2,713.4 180.2,712.2 181.8,712.2 181.8,711.5 183.2,711.5 183.2,712.8 184.8,712.8 184.8,714.2 186.2,714.2 186.2,713.2 187.8,713.2 187.8,710.0 189.2,710.0 189.2,714.7 190.8,714.7 190.8,712.5 192.2,712.5 192.2,716.2 193.8,716.2 193.8,714.7 195.2,714.7 195.2,716.1 196.8,716.1 196.8,716.5 198.2,716.5 198.2,716.5 199.8,716.5 199.8,714.5 201.2,714.5 201.2,712.8 202.8,712.8 202.8,714.4 204.2,714.4 204.2,716.1 205.8,716.1 205.8,710.2 207.2,710.2 207.2,718.8 208.8,718.8 208.8,715.1 210.2,715.1 210.2,716.5 211.8,716.5 211.8,716.6 213.2,716.6 213.2,718.2 214.8,718.2 214.8,716.7 216.2,716.7 216.2,715.9 217.8,715.9 217.8,716.3 219.2,716.3 219.2,713.8 220.8,713.8 220.8,719.3 222.2,719.3 222.2,720.0 223.8,720.0 223.8,719.9 225.2,719.9 225.2,717.6 226.8,717.6 226.8,719.0 228.2,719.0 228.2,718.9 229.8,718.9 229.8,720.0 231.2,720.0 231.2,720.3 232.8,720.3 232.8,719.1 234.2,719.1 234.2,720.2 235.8,720.2 235.8,720.0 237.2,720.0 237.2,721.1 238.8,721.1 238.8,721.2 240.2,721.2 240.2,720.0 241.8,720.0 241.8,718.3 243.2,718.3 243.2,723.6 244.8,723.6 244.8,720.1 246.2,720.1 246.2,721.7 247.8,721.7 247.8,721.2 249.2,721.2 249.2,717.7 250.8,717.7 250.8,720.9 252.2,720.9 252.2,721.9 253.8,721.9 253.8,722.8 255.2,722.8 255.2,723.5 256.8,723.5 256.8,721.2 258.2,721.2 258.2,723.5 259.8,723.5 259.8,722.7 261.2,722.7 261.2,723.0 262.8,723.0 262.8,723.8 264.2,723.8 264.2,721.5 265.8,721.5 265.8,739.6 264.2,739.6 264.2,738.8 262.8,738.8 262.8,733.3 261.2,733.3 261.2,737.8 259.8,737.8 259.8,735.0 258.2,735.0 258.2,728.9 256.8,728.9 256.8,737.0 255.2,737.0 255.2,728.0 253.8,728.0 253.8,727.1 252.2,727.1 252.2,728.3 250.8,728.3 250.8,731.7 249.2,731.7 249.2,730.2 247.8,730.2 247.8,733.2 246.2,733.2 246.2,731.9 244.8,731.9 244.8,731.1 243.2,731.1 243.2,730.4 241.8,730.4 241.8,731.5 240.2,731.5 240.2,726.9 238.8,726.9 238.8,729.1 237.2,729.1 237.2,728.3 235.8,728.3 235.8,739.1 234.2,739.1 234.2,737.1 232.8,737.1 232.8,744.3 231.2,744.3 231.2,730.6 229.8,730.6 229.8,727.7 228.2,727.7 228.2,731.8 226.8,731.8 226.8,744.3 225.2,744.3 225.2,730.6 223.8,730.6 223.8,730.9 222.2,730.9 222.2,732.5 220.8,732.5 220.8,730.1 219.2,730.1 219.2,728.2 217.8,728.2 217.8,725.7 216.2,725.7 216.2,726.0 214.8,726.0 214.8,725.7 213.2,725.7 213.2,724.8 211.8,724.8 211.8,728.3 210.2,728.3 210.2,727.5 208.8,727.5 208.8,735.4 207.2,735.4 207.2,727.3 205.8,727.3 205.8,729.1 204.2,729.1 204.2,726.0 202.8,726.0 202.8,726.4 201.2,726.4 201.2,726.1 199.8,726.1 199.8,727.9 198.2,727.9 198.2,735.7 196.8,735.7 196.8,726.9 195.2,726.9 195.2,729.2 193.8,729.2 193.8,726.4 192.2,726.4 192.2,728.6 190.8,728.6 190.8,728.5 189.2,728.5 189.2,723.2 187.8,723.2 187.8,735.2 186.2,735.2 186.2,725.6 184.8,725.6 184.8,724.4 183.2,724.4 183.2,727.4 181.8,727.4 181.8,742.5 180.2,742.5 180.2,725.4 178.8,725.4 178.8,724.4 177.2,724.4 177.2,718.9 175.8,718.9 175.8,722.9 174.2,722.9 174.2,724.0 172.8,724.0 172.8,722.3 171.2,722.3 171.2,721.1 169.8,721.1 169.8,724.3 168.2,724.3 168.2,719.9 166.8,719.9 166.8,719.2 165.2,719.2 165.2,722.0 163.8,722.0 163.8,724.0 162.2,724.0 162.2,736.2 160.8,736.2 160.8,721.9 159.2,721.9 159.2,722.9 157.8,722.9 157.8,731.4 156.2,731.4 156.2,724.0 154.8,724.0 154.8,726.1 153.2,726.1 153.2,731.1 151.8,731.1 151.8,725.0 150.2,725.0 150.2,718.5 148.8,718.5 148.8,720.2 147.2,720.2 147.2,737.4 145.8,737.4 145.8,718.4 144.2,718.4 144.2,720.0 142.8,720.0 142.8,720.4 141.2,720.4 141.2,720.5 139.8,720.5 139.8,715.4 138.2,715.4" fill="#229306" />
<polygon points="264.2,730.6 265.8,730.6 265.8,728.5 267.2,728.5 267.2,732.0 268.8,732.0 268.8,730.9 270.2,730.9 270.2,734.1 271.8,734.1 271.8,735.0 273.2,735.0 273.2,735.7 274.8,735.7 274.8,735.1 276.2,735.1 276.2,736.0 277.8,736.0 277.8,734.8 279.2,734.8 279.2,738.0 280.8,738.0 280.8,737.2 282.2,737.2 282.2,737.8 283.8,737.8 283.8,738.6 285.2,738.6 285.2,739.9 286.8,739.9 286.8,740.5 288.2,740.5 288.2,742.4 289.8,742.4 289.8,736.3 291.2,736.3 291.2,742.0 292.8,742.0 292.8,743.2 294.2,743.2 294.2,743.2 295.8,743.2 295.8,743.3 297.2,743.3 297.2,743.3 298.8,743.3 298.8,743.8 300.2,743.8 300.2,744.8 301.8,744.8 301.8,743.8 303.2,743.8 303.2,747.3 304.8,747.3 304.8,746.5 306.2,746.5 306.2,750.4 307.8,750.4 307.8,747.5 309.2,747.5 309.2,747.9 310.8,747.9 310.8,748.4 312.2,748.4 312.2,750.8 313.8,750.8 313.8,752.3 315.2,752.3 315.2,752.3 316.8,752.3 316.8,751.4 318.2,751.4 318.2,753.3 319.8,753.3 319.8,753.7 321.2,753.7 321.2,751.2 322.8,751.2 322.8,756.1 324.2,756.1 324.2,752.1 325.8,752.1 325.8,753.2 327.2,753.2 327.2,755.0 328.8,755.0 328.8,753.9 330.2,753.9 330.2,756.0 331.8,756.0 331.8,754.8 333.2,754.8 333.2,756.5 334.8,756.5 334.8,755.1 336.2,755.1 336.2,755.5 337.8,755.5 337.8,812.7 336.2,812.7 336.2,808.8 334.8,808.8 334.8,820.7 333.2,820.7 333.2,808.0 331.8,808.0 331.8,811.2 330.2,811.2 330.2,839.2 328.8,839.2 328.8,803.5 327.2,803.5 327.2,797.1 325.8,797.1 325.8,797.8 324.2,797.8 324.2,808.2 322.8,808.2 322.8,796.5 321.2,796.5 321.2,804.0 319.8,804.0 319.8,811.3 318.2,811.3 318.2,794.4 316.8,794.4 316.8,802.1 315.2,802.1 315.2,792.3 313.8,792.3 313.8,797.1 312.2,797.1 312.2,790.3 310.8,790.3 310.8,786.0 309.2,786.0 309.2,794.9 307.8,794.9 307.8,783.4 306.2,783.4 306.2,778.0 304.8,778.0 304.8,787.2 303.2,787.2 303.2,808.4 301.8,808.4 301.8,781.2 300.2,781.2 300.2,780.4 298.8,780.4 298.8,805.7 297.2,805.7 297.2,774.6 295.8,774.6 295.8,773.8 294.2,773.8 294.2,772.6 292.8,772.6 292.8,770.2 291.2,770.2 291.2,773.3 289.8,773.3 289.8,771.9 288.2,771.9 288.2,768.1 286.8,768.1 286.8,768.0 285.2,768.0 285.2,785.5 283.8,785.5 283.8,769.4 282.2,769.4 282.2,768.7 280.8,768.7 280.8,789.9 279.2,789.9 279.2,769.0 277.8,769.0 277.8,767.4 276.2,767.4 276.2,771.6 274.8,771.6 274.8,762.8 273.2,762.8 273.2,768.9 271.8,768.9 271.8,757.3 270.2,757.3 270.2,751.5 268.8,751.5 268.8,744.3 267.2,744.3 267.2,741.4 265.8,741.4 265.8,740.4 264.2,740.4" fill="#229306" />
<polygon points="337.2,738.4 338.8,738.4 338.8,739.0 340.2,739.0 340.2,742.0 341.8,742.0 341.8,740.0 343.2,740.0 343.2,742.4 344.8,742.4 344.8,743.6 346.2,743.6 346.2,745.8 347.8,745.8 347.8,743.3 349.2,743.3 349.2,742.4 350.8,742.4 350.8,745.1 352.2,745.1 352.2,745.4 353.8,745.4 353.8,745.1 355.2,745.1 355.2,745.5 356.8,745.5 356.8,747.5 358.2,747.5 358.2,748.3 359.8,748.3 359.8,748.7 361.2,748.7 361.2,746.6 362.8,746.6 362.8,748.4 364.2,748.4 364.2,746.5 365.8,746.5 365.8,748.4 367.2,748.4 367.2,749.1 368.8,749.1 368.8,749.2 370.2,749.2 370.2,749.3 371.8,749.3 371.8,751.0 373.2,751.0 373.2,751.1 374.8,751.1 374.8,753.2 376.2,753.2 376.2,752.0 377.8,752.0 377.8,750.3 379.2,750.3 379.2,752.3 380.8,752.3 380.8,751.6 382.2,751.6 382.2,753.2 383.8,753.2 383.8,750.7 385.2,750.7 385.2,752.7 386.8,752.7 386.8,753.8 388.2,753.8 388.2,754.5 389.8,754.5 389.8,753.6 391.2,753.6 391.2,754.7 392.8,754.7 392.8,755.4 394.2,755.4 394.2,754.6 395.8,754.6 395.8,755.0 397.2,755.0 397.2,752.8 398.8,752.8 398.8,755.7 400.2,755.7 400.2,829.2 398.8,829.2 398.8,831.0 397.2,831.0 397.2,822.1 395.8,822.1 395.8,826.3 394.2,826.3 394.2,816.0 392.8,816.0 392.8,822.1 391.2,822.1 391.2,823.8 389.8,823.8 389.8,820.8 388.2,820.8 388.2,812.9 386.8,812.9 386.8,811.9 385.2,811.9 385.2,820.2 383.8,820.2 383.8,814.8 382.2,814.8 382.2,812.0 380.8,812.0 380.8,817.6 379.2,817.6 379.2,814.5 377.8,814.5 377.8,808.3 376.2,808.3 376.2,803.8 374.8,803.8 374.8,810.9 373.2,810.9 373.2,811.8 371.8,811.8 371.8,813.1 370.2,813.1 370.2,808.6 368.8,808.6 368.8,808.3 367.2,808.3 367.2,804.0 365.8,804.0 365.8,791.9 364.2,791.9 364.2,801.3 362.8,801.3 362.8,806.8 361.2,806.8 361.2,794.7 359.8,794.7 359.8,800.2 358.2,800.2 358.2,805.7 356.8,805.7 356.8,801.3 355.2,801.3 355.2,792.3 353.8,792.3 353.8,798.7 352.2,798.7 352.2,796.1 350.8,796.1 350.8,797.7 349.2,797.7 349.2,795.2 347.8,795.2 347.8,794.5 346.2,794.5 346.2,827.0 344.8,827.0 344.8,793.7 343.2,793.7 343.2,834.8 341.8,834.8 341.8,795.1 340.2,795.1 340.2,790.3 338.8,790.3 338.8,787.8 337.2,787.8" fill="#229306" />
<polyline points="139.0,717.7 139.8,719.5 140.6,721.0 141.4,722.7 142.2,724.6 143.0,726.5 144.7,726.6 146.3,727.9 148.0,728.7 149.5,728.6 151.1,728.9 152.6,729.0 154.1,728.4 155.6,728.5 157.2,729.1 158.7,728.9 160.2,728.9 161.8,728.6 163.3,728.7 164.8,728.9 166.4,728.6 167.9,728.5 169.4,728.8 170.9,729.1 172.5,728.5 174.0,729.1 175.5,729.0 177.1,728.5 178.6,728.8 180.1,728.8 181.6,729.0 183.2,729.0 184.7,728.4 186.2,728.4 187.8,729.1 189.3,728.8 190.8,728.9 192.4,728.9 193.9,729.2 195.4,728.4 196.9,729.1 198.5,728.5 200.0,729.0 201.5,729.2 203.0,728.4 204.5,728.9 206.1,728.7 207.6,728.7 209.1,728.8 210.6,728.5 212.1,728.5 213.6,729.0 215.2,729.0 216.7,728.6 218.2,728.4 219.7,729.5 221.2,729.1 222.7,728.9 224.2,728.5 225.8,728.6 227.3,728.9 228.8,728.5 230.3,729.3 231.8,728.8 233.3,728.9 234.8,728.5 236.4,728.5 237.9,728.6 239.4,728.9 240.9,728.7 242.4,728.7 243.9,728.9 245.5,728.9 247.0,729.2 248.5,728.7 250.0,728.5 251.5,728.8 253.0,729.2 254.5,728.6 256.1,728.8 257.6,728.7 259.1,728.9 260.6,728.9 262.1,728.6 263.6,728.7 265.2,729.1 266.7,729.1 268.2,729.1 269.7,729.0 271.2,728.7 272.7,728.7 274.2,729.1 275.8,728.4 277.3,728.8 278.8,728.2 280.3,728.7 281.8,728.6 283.3,728.4 284.8,729.0 286.4,728.6 287.9,728.7 289.4,728.7 290.9,728.6 292.4,729.2 293.9,728.6 295.5,728.8 297.0,728.4 298.5,728.7 300.0,728.7 301.5,728.7 303.0,728.6 304.5,728.8 306.0,729.2 307.5,728.8 309.0,728.7 310.5,728.7 312.0,729.5 313.5,729.3 315.0,729.0 316.5,729.0 318.0,728.6 319.5,728.7 321.0,728.9 322.5,728.8 324.0,728.5 325.5,728.6 327.0,728.9 328.5,728.9 330.0,728.2 331.5,728.8 333.0,729.2 334.5,728.6 336.0,728.9 337.5,728.4 339.0,729.0 340.5,728.5 342.0,728.4 343.5,728.7 345.0,729.5 346.5,728.6 348.0,728.4 349.5,728.9 351.0,728.9 352.5,729.3 354.0,728.4 355.5,728.3 357.0,728.7 358.5,728.9 360.0,728.9 361.5,729.1 363.0,728.4 364.5,728.5 366.0,728.8 367.5,729.0 369.0,728.9 370.5,728.7 372.0,728.5 373.5,729.1 375.0,729.1 376.5,729.6 378.0,728.7 379.5,729.3 381.0,728.4 382.5,728.6 384.0,728.6 385.5,728.7 387.0,728.5 388.5,728.6 389.4,730.1 390.4,731.3 391.3,732.9 392.2,734.0 393.1,735.4 394.1,737.1 395.0,738.1 395.7,739.4 396.4,740.8 397.1,742.2 397.8,743.7 398.6,744.7 399.3,746.7 400.0,748.2 400.7,749.4 401.4,750.3 402.1,751.5 402.8,753.4 403.6,755.0 404.3,756.7 405.0,757.9" fill="none" stroke="#229306" stroke-width="2.4" stroke-linejoin="round" />
<polygon points="399.2,757.5 400.8,757.5 400.8,760.8 402.2,760.8 402.2,757.8 403.8,757.8 403.8,757.7 405.2,757.7 405.2,761.1 406.8,761.1 406.8,749.8 408.2,749.8 408.2,760.2 409.8,760.2 409.8,760.1 411.2,760.1 411.2,759.9 412.8,759.9 412.8,758.9 414.2,758.9 414.2,764.8 415.8,764.8 415.8,763.3 417.2,763.3 417.2,763.8 418.8,763.8 418.8,763.2 420.2,763.2 420.2,762.3 421.8,762.3 421.8,765.0 423.2,765.0 423.2,764.4 424.8,764.4 424.8,762.8 426.2,762.8 426.2,763.1 427.8,763.1 427.8,765.3 429.2,765.3 429.2,765.8 430.8,765.8 430.8,767.4 432.2,767.4 432.2,765.7 433.8,765.7 433.8,764.9 435.2,764.9 435.2,763.0 436.8,763.0 436.8,767.2 438.2,767.2 438.2,764.8 439.8,764.8 439.8,769.0 441.2,769.0 441.2,765.6 442.8,765.6 442.8,763.4 444.2,763.4 444.2,761.5 445.8,761.5 445.8,754.6 447.2,754.6 447.2,765.5 448.8,765.5 448.8,768.5 450.2,768.5 450.2,766.6 451.8,766.6 451.8,763.8 453.2,763.8 453.2,767.2 454.8,767.2 454.8,763.5 456.2,763.5 456.2,765.4 457.8,765.4 457.8,764.1 459.2,764.1 459.2,764.5 460.8,764.5 460.8,765.3 462.2,765.3 462.2,764.6 463.8,764.6 463.8,765.9 465.2,765.9 465.2,757.3 466.8,757.3 466.8,766.4 468.2,766.4 468.2,765.5 469.8,765.5 469.8,768.5 471.2,768.5 471.2,761.3 472.8,761.3 472.8,749.5 474.2,749.5 474.2,763.1 475.8,763.1 475.8,761.6 477.2,761.6 477.2,761.5 478.8,761.5 478.8,747.6 480.2,747.6 480.2,764.4 481.8,764.4 481.8,760.8 483.2,760.8 483.2,748.4 484.8,748.4 484.8,763.1 486.2,763.1 486.2,762.2 487.8,762.2 487.8,760.7 489.2,760.7 489.2,762.4 490.8,762.4 490.8,760.0 492.2,760.0 492.2,761.1 493.8,761.1 493.8,761.5 495.2,761.5 495.2,758.2 496.8,758.2 496.8,759.8 498.2,759.8 498.2,760.2 499.8,760.2 499.8,760.5 501.2,760.5 501.2,757.3 502.8,757.3 502.8,756.5 504.2,756.5 504.2,751.8 505.8,751.8 505.8,759.5 507.2,759.5 507.2,759.0 508.8,759.0 508.8,752.8 510.2,752.8 510.2,755.2 511.8,755.2 511.8,754.4 513.2,754.4 513.2,748.3 514.8,748.3 514.8,755.5 516.2,755.5 516.2,754.1 517.8,754.1 517.8,754.1 519.2,754.1 519.2,752.3 520.8,752.3 520.8,754.2 522.2,754.2 522.2,754.0 523.8,754.0 523.8,750.8 525.2,750.8 525.2,748.9 526.8,748.9 526.8,750.9 528.2,750.9 528.2,756.6 529.8,756.6 529.8,753.3 531.2,753.3 531.2,752.4 532.8,752.4 532.8,753.0 534.2,753.0 534.2,750.5 535.8,750.5 535.8,753.2 537.2,753.2 537.2,752.9 538.8,752.9 538.8,748.6 540.2,748.6 540.2,744.3 541.8,744.3 541.8,745.3 543.2,745.3 543.2,750.2 544.8,750.2 544.8,748.0 546.2,748.0 546.2,750.1 547.8,750.1 547.8,748.0 549.2,748.0 549.2,748.4 550.8,748.4 550.8,745.3 552.2,745.3 552.2,746.6 553.8,746.6 553.8,747.9 555.2,747.9 555.2,745.1 556.8,745.1 556.8,747.1 558.2,747.1 558.2,745.6 559.8,745.6 559.8,746.8 561.2,746.8 561.2,747.5 562.8,747.5 562.8,745.0 564.2,745.0 564.2,748.3 565.8,748.3 565.8,730.7 567.2,730.7 567.2,746.2 568.8,746.2 568.8,746.7 570.2,746.7 570.2,742.9 571.8,742.9 571.8,741.8 573.2,741.8 573.2,744.8 574.8,744.8 574.8,745.5 576.2,745.5 576.2,742.3 577.8,742.3 577.8,746.6 579.2,746.6 579.2,745.3 580.8,745.3 580.8,744.2 582.2,744.2 582.2,741.7 583.8,741.7 583.8,741.9 585.2,741.9 585.2,745.1 586.8,745.1 586.8,734.0 588.2,734.0 588.2,744.0 589.8,744.0 589.8,743.1 591.2,743.1 591.2,731.1 592.8,731.1 592.8,743.0 594.2,743.0 594.2,740.6 595.8,740.6 595.8,739.2 597.2,739.2 597.2,740.9 598.8,740.9 598.8,740.9 600.2,740.9 600.2,739.5 601.8,739.5 601.8,741.0 603.2,741.0 603.2,740.1 604.8,740.1 604.8,741.0 606.2,741.0 606.2,740.1 607.8,740.1 607.8,733.0 609.2,733.0 609.2,740.7 610.8,740.7 610.8,739.7 612.2,739.7 612.2,737.6 613.8,737.6 613.8,741.7 615.2,741.7 615.2,736.9 616.8,736.9 616.8,738.9 618.2,738.9 618.2,740.1 619.8,740.1 619.8,738.0 621.2,738.0 621.2,739.2 622.8,739.2 622.8,735.4 624.2,735.4 624.2,738.4 625.8,738.4 625.8,737.2 627.2,737.2 627.2,737.4 628.8,737.4 628.8,736.6 630.2,736.6 630.2,719.4 631.8,719.4 631.8,736.8 633.2,736.8 633.2,735.8 634.8,735.8 634.8,730.6 636.2,730.6 636.2,736.2 637.8,736.2 637.8,733.1 639.2,733.1 639.2,733.2 640.8,733.2 640.8,734.5 642.2,734.5 642.2,721.9 643.8,721.9 643.8,733.3 645.2,733.3 645.2,736.5 646.8,736.5 646.8,734.0 648.2,734.0 648.2,736.8 649.8,736.8 649.8,733.6 651.2,733.6 651.2,732.3 652.8,732.3 652.8,733.6 654.2,733.6 654.2,732.3 655.8,732.3 655.8,732.3 657.2,732.3 657.2,729.0 658.8,729.0 658.8,732.4 660.2,732.4 660.2,729.0 661.8,729.0 661.8,729.2 663.2,729.2 663.2,728.1 664.8,728.1 664.8,729.9 666.2,729.9 666.2,727.4 667.8,727.4 667.8,730.4 669.2,730.4 669.2,726.6 670.8,726.6 670.8,727.3 672.2,727.3 672.2,728.9 673.8,728.9 673.8,726.5 675.2,726.5 675.2,727.6 676.8,727.6 676.8,724.4 678.2,724.4 678.2,721.1 679.8,721.1 679.8,728.4 678.2,728.4 678.2,729.4 676.8,729.4 676.8,733.6 675.2,733.6 675.2,730.2 673.8,730.2 673.8,738.9 672.2,738.9 672.2,743.3 670.8,743.3 670.8,744.9 669.2,744.9 669.2,747.6 667.8,747.6 667.8,753.1 666.2,753.1 666.2,750.7 664.8,750.7 664.8,767.8 663.2,767.8 663.2,750.4 661.8,750.4 661.8,752.8 660.2,752.8 660.2,747.4 658.8,747.4 658.8,751.8 657.2,751.8 657.2,756.7 655.8,756.7 655.8,755.8 654.2,755.8 654.2,753.1 652.8,753.1 652.8,764.5 651.2,764.5 651.2,766.2 649.8,766.2 649.8,773.5 648.2,773.5 648.2,768.6 646.8,768.6 646.8,770.1 645.2,770.1 645.2,756.5 643.8,756.5 643.8,788.2 642.2,788.2 642.2,757.9 640.8,757.9 640.8,763.7 639.2,763.7 639.2,764.3 637.8,764.3 637.8,769.7 636.2,769.7 636.2,771.1 634.8,771.1 634.8,763.5 633.2,763.5 633.2,769.3 631.8,769.3 631.8,763.0 630.2,763.0 630.2,768.1 628.8,768.1 628.8,766.4 627.2,766.4 627.2,768.8 625.8,768.8 625.8,771.2 624.2,771.2 624.2,772.7 622.8,772.7 622.8,800.9 621.2,800.9 621.2,773.9 619.8,773.9 619.8,770.7 618.2,770.7 618.2,774.7 616.8,774.7 616.8,769.6 615.2,769.6 615.2,770.4 613.8,770.4 613.8,797.6 612.2,797.6 612.2,772.3 610.8,772.3 610.8,764.1 609.2,764.1 609.2,769.3 607.8,769.3 607.8,774.4 606.2,774.4 606.2,779.8 604.8,779.8 604.8,780.8 603.2,780.8 603.2,806.4 601.8,806.4 601.8,786.6 600.2,786.6 600.2,787.6 598.8,787.6 598.8,782.5 597.2,782.5 597.2,781.4 595.8,781.4 595.8,795.5 594.2,795.5 594.2,778.0 592.8,778.0 592.8,775.3 591.2,775.3 591.2,783.4 589.8,783.4 589.8,777.7 588.2,777.7 588.2,784.0 586.8,784.0 586.8,783.4 585.2,783.4 585.2,778.0 583.8,778.0 583.8,787.6 582.2,787.6 582.2,781.5 580.8,781.5 580.8,779.3 579.2,779.3 579.2,783.2 577.8,783.2 577.8,789.7 576.2,789.7 576.2,786.7 574.8,786.7 574.8,790.1 573.2,790.1 573.2,789.0 571.8,789.0 571.8,782.1 570.2,782.1 570.2,780.7 568.8,780.7 568.8,780.2 567.2,780.2 567.2,778.0 565.8,778.0 565.8,786.2 564.2,786.2 564.2,790.7 562.8,790.7 562.8,788.3 561.2,788.3 561.2,788.5 559.8,788.5 559.8,797.1 558.2,797.1 558.2,795.4 556.8,795.4 556.8,811.8 555.2,811.8 555.2,789.4 553.8,789.4 553.8,794.0 552.2,794.0 552.2,779.9 550.8,779.9 550.8,786.3 549.2,786.3 549.2,782.0 547.8,782.0 547.8,778.7 546.2,778.7 546.2,809.7 544.8,809.7 544.8,783.9 543.2,783.9 543.2,782.5 541.8,782.5 541.8,787.4 540.2,787.4 540.2,787.9 538.8,787.9 538.8,811.3 537.2,811.3 537.2,787.6 535.8,787.6 535.8,795.2 534.2,795.2 534.2,793.4 532.8,793.4 532.8,796.2 531.2,796.2 531.2,791.1 529.8,791.1 529.8,790.2 528.2,790.2 528.2,790.8 526.8,790.8 526.8,799.2 525.2,799.2 525.2,789.4 523.8,789.4 523.8,794.2 522.2,794.2 522.2,791.4 520.8,791.4 520.8,793.6 519.2,793.6 519.2,793.7 517.8,793.7 517.8,798.0 516.2,798.0 516.2,795.7 514.8,795.7 514.8,806.0 513.2,806.0 513.2,803.2 511.8,803.2 511.8,801.3 510.2,801.3 510.2,805.7 508.8,805.7 508.8,804.3 507.2,804.3 507.2,838.9 505.8,838.9 505.8,806.4 504.2,806.4 504.2,812.3 502.8,812.3 502.8,819.8 501.2,819.8 501.2,811.7 499.8,811.7 499.8,810.9 498.2,810.9 498.2,807.2 496.8,807.2 496.8,814.3 495.2,814.3 495.2,809.1 493.8,809.1 493.8,809.3 492.2,809.3 492.2,812.5 490.8,812.5 490.8,808.6 489.2,808.6 489.2,809.0 487.8,809.0 487.8,808.3 486.2,808.3 486.2,809.5 484.8,809.5 484.8,811.0 483.2,811.0 483.2,814.2 481.8,814.2 481.8,815.8 480.2,815.8 480.2,813.1 478.8,813.1 478.8,838.4 477.2,838.4 477.2,812.9 475.8,812.9 475.8,836.6 474.2,836.6 474.2,813.1 472.8,813.1 472.8,816.0 471.2,816.0 471.2,807.5 469.8,807.5 469.8,808.5 468.2,808.5 468.2,811.5 466.8,811.5 466.8,805.1 465.2,805.1 465.2,811.5 463.8,811.5 463.8,821.9 462.2,821.9 462.2,825.9 460.8,825.9 460.8,829.1 459.2,829.1 459.2,828.8 457.8,828.8 457.8,830.9 456.2,830.9 456.2,832.0 454.8,832.0 454.8,830.5 453.2,830.5 453.2,833.7 451.8,833.7 451.8,839.2 450.2,839.2 450.2,843.3 448.8,843.3 448.8,848.2 447.2,848.2 447.2,844.8 445.8,844.8 445.8,838.2 444.2,838.2 444.2,830.9 442.8,830.9 442.8,832.6 441.2,832.6 441.2,837.0 439.8,837.0 439.8,834.8 438.2,834.8 438.2,835.2 436.8,835.2 436.8,839.7 435.2,839.7 435.2,841.1 433.8,841.1 433.8,840.9 432.2,840.9 432.2,837.9 430.8,837.9 430.8,842.4 429.2,842.4 429.2,841.0 427.8,841.0 427.8,842.6 426.2,842.6 426.2,858.5 424.8,858.5 424.8,842.8 423.2,842.8 423.2,835.3 421.8,835.3 421.8,837.7 420.2,837.7 420.2,839.4 418.8,839.4 418.8,854.0 417.2,854.0 417.2,840.6 415.8,840.6 415.8,842.2 414.2,842.2 414.2,837.1 412.8,837.1 412.8,830.5 411.2,830.5 411.2,861.8 409.8,861.8 409.8,836.3 408.2,836.3 408.2,833.9 406.8,833.9 406.8,831.3 405.2,831.3 405.2,830.1 403.8,830.1 403.8,832.0 402.2,832.0 402.2,831.9 400.8,831.9 400.8,828.4 399.2,828.4" fill="#229306" />
<polyline points="446.3,758.3 447.5,758.3 448.7,757.2 449.8,756.0 451.0,755.1 452.2,754.3 453.4,755.0 454.6,753.6 455.7,750.5 456.9,750.7 458.1,748.9 459.3,748.2 460.4,747.0 461.6,745.6 462.8,743.8 464.0,741.6 465.1,743.7 466.3,743.9 467.5,740.5 468.6,741.2 469.8,739.2 471.0,739.0 472.2,736.8 473.3,736.5 474.5,735.7 475.7,732.1 476.8,734.2 478.0,732.8 479.3,729.2 480.7,731.9 482.0,730.2 483.4,729.5 484.7,728.8 486.1,726.9 487.4,725.2 488.8,725.0 490.1,724.1 491.5,726.3 492.8,724.9 494.4,721.8 495.9,721.4 497.5,721.8 499.1,721.7 500.6,719.8 502.2,719.0 503.7,722.0 505.3,720.5 506.9,717.0 508.4,716.4 510.0,717.0 511.6,718.0 513.1,718.2 514.7,716.9 516.3,715.3 517.8,717.2 519.4,717.4 521.0,716.5 522.6,715.7 524.1,716.8 525.7,715.8 527.3,714.4 528.8,715.6 530.4,713.8 531.9,716.2 533.5,715.5 535.0,713.7 536.5,714.9 538.1,716.0 539.6,711.9 541.2,714.1 542.7,716.0 544.2,712.2 545.8,713.6 547.3,712.0 548.9,713.5 550.4,710.6 551.9,711.4 553.5,712.5 555.0,713.1 556.5,713.4 558.0,713.4 559.5,714.3 561.0,713.7 562.5,713.8 564.0,711.7 565.5,712.7 567.0,716.6 568.5,715.5 570.0,713.8 571.5,713.7 573.0,714.0 574.5,712.3 576.0,715.1 577.5,712.3 579.0,712.7 580.5,715.3 582.0,710.4 583.6,713.3 585.1,711.0 586.6,712.3 588.2,713.0 589.7,712.8 591.2,713.5 592.8,712.5 594.3,713.3 595.8,712.1 597.3,713.1 598.9,712.0 600.4,714.5 601.9,712.3 603.5,714.7 605.0,713.5 606.5,713.7 608.0,715.5 609.5,714.3 611.0,712.0 612.5,714.9 614.0,711.0 615.5,714.8 617.0,714.1 618.6,713.0 620.1,714.8 621.6,714.4 623.1,717.3 624.6,714.4 626.1,717.3 627.6,716.8 629.1,714.5 630.6,714.3 632.1,716.9 633.6,715.2 635.2,715.6 636.7,715.1 638.2,714.0 639.8,715.1 641.3,714.4 642.8,713.8 644.3,715.3 645.9,717.8 647.4,717.7 648.9,715.7 650.4,716.0 652.0,716.5 653.5,717.5 655.0,716.3 656.5,715.5 658.0,715.7 659.5,717.6 661.0,719.5 662.6,715.7 664.1,714.2 665.6,717.7 667.1,716.7 668.6,717.1 670.1,718.5 671.6,717.2 673.1,715.7 674.7,715.0 676.2,717.4 677.7,716.2 679.2,718.0 680.7,716.2" fill="none" stroke="#229306" stroke-width="4.5" stroke-linejoin="round" />
<path d="M412.7 840.0V892.8 M411.7 850.0V895.2 M435.0 850.0V882.0 M405.0 850.0V872.0 M470.0 830.0V858.0 M550.0 790.0V818.0 M430.0 850.0V875.0 M445.0 840.0V870.0" stroke="#229306" stroke-width="2" fill="none"/>
<polyline points="139.0,696.5 140.5,694.8 142.0,696.2 143.5,695.9 145.0,697.2 146.5,698.1 148.0,695.8 149.5,694.8 151.0,698.5 152.5,696.2 154.0,696.4 155.5,696.2 157.0,697.3 158.5,696.5 160.0,695.9 161.6,695.8 163.1,693.2 164.7,693.3 166.2,693.7 167.8,693.7 169.3,693.3 170.9,693.5 172.4,692.8 174.0,691.9 175.5,690.3 177.1,693.8 178.6,693.5 180.1,691.6 181.6,693.6 183.2,693.5 184.7,693.2 186.2,690.6 187.8,691.6 189.3,692.5 190.8,695.7 192.4,692.3 193.9,693.1 195.4,692.1 196.9,693.1 198.5,694.4 200.0,691.1 201.5,690.1 203.0,695.2 204.5,694.5 206.0,693.7 207.5,696.1 209.0,696.2 210.5,692.1 212.0,694.9 213.5,696.9 215.0,694.5 216.5,695.2 218.0,697.1 219.5,695.5 221.0,694.4 222.5,695.3 224.0,694.5 225.5,697.3 227.0,694.3 228.5,698.2 230.0,694.7 231.5,697.1 233.0,695.1 234.5,696.8 236.0,698.8 237.5,699.0 239.0,699.4 240.5,697.5 242.0,697.9 243.5,698.2 245.0,698.8 246.5,697.5 248.0,699.7 249.5,698.7 251.0,700.0 252.5,699.1 254.0,699.5 255.5,697.6 257.0,698.2 258.5,697.1 260.0,698.5 261.5,698.8 263.1,700.3 264.6,697.5 266.1,703.9 267.6,699.3 269.2,701.4 270.7,701.2 272.2,696.3 273.7,699.5 275.3,702.1 276.8,696.7 278.3,701.3 279.8,699.0 281.4,699.8 282.9,700.9 284.4,698.0 285.9,701.0 287.5,700.0 289.0,699.9 290.4,702.6 291.8,707.1 293.1,703.3 294.5,704.2 295.9,704.0 297.2,703.7 298.6,705.7 300.0,708.1 301.2,707.2 302.5,709.2 303.8,708.6 305.0,713.5 306.2,708.7 307.5,712.8 308.8,713.7 310.0,714.3 311.4,713.0 312.9,713.5 314.3,715.3 315.7,716.4 317.1,715.1 318.6,715.9 320.0,718.7 321.5,719.6 323.0,717.7 324.5,717.7 326.0,717.9 327.5,722.7 329.0,720.1 330.5,719.6 332.0,721.4 333.5,723.4 335.0,722.1 336.5,718.7 338.0,720.8" fill="none" stroke="#003a00" stroke-width="5.5" stroke-linejoin="round" />
<polyline points="139.0,706.4 140.5,706.6 142.0,705.5 143.5,706.8 145.0,706.0 146.5,708.1 148.0,707.9 149.5,706.0 151.0,705.7 152.5,707.6 154.0,709.3 155.5,709.2 157.0,708.6 158.5,704.2 160.0,708.3 161.5,708.1 163.1,708.8 164.6,707.7 166.2,709.0 167.7,708.8 169.2,713.7 170.8,711.0 172.3,709.9 173.8,710.3 175.4,710.3 176.9,710.9 178.5,710.2 180.0,710.9 181.5,712.6 183.1,712.6 184.6,712.1 186.2,713.7 187.7,712.4 189.2,711.0 190.8,710.1 192.3,711.8 193.8,712.9 195.4,713.8 196.9,715.0 198.5,712.9 200.0,712.8 201.5,715.1 203.0,715.8 204.5,713.6 206.0,714.8 207.5,716.4 209.0,715.0 210.5,714.6 212.0,711.8 213.5,716.7 215.0,715.8 216.5,715.2 218.0,714.5 219.5,713.5 221.0,715.2 222.5,715.3 224.0,717.1 225.5,713.9 227.0,717.8 228.5,715.9 230.0,717.6 231.5,714.7 233.0,716.6 234.5,718.0 236.0,716.5 237.5,714.4 239.0,716.1 240.5,717.4 242.0,714.8 243.5,714.8 245.0,717.3 246.5,715.7 248.0,718.1 249.5,715.6 251.0,714.8 252.5,716.4 254.0,719.6 255.5,716.4 257.0,717.7 258.5,718.2 260.0,716.6 261.5,719.6 263.1,718.5 264.6,719.0 266.2,716.2 267.7,716.3 269.2,715.0 270.8,718.8 272.3,718.9 273.8,720.3 275.4,721.6 276.9,719.3 278.5,719.4 280.0,720.6 281.5,722.8 283.0,720.1 284.5,722.8 286.0,722.3 287.5,722.8 289.0,725.1 290.2,723.8 291.4,724.4 292.7,727.9 293.9,727.9 295.1,728.6 296.3,729.8 297.6,731.6 298.8,731.4 300.0,734.0 301.5,734.0 303.0,736.0 304.5,736.2 306.0,736.2 307.5,735.2 309.0,736.1 310.5,735.6 312.0,740.9 313.5,737.1 315.0,738.7 316.5,739.8 318.1,735.9 319.6,736.6 321.1,737.1 322.7,736.2 324.2,735.8 325.7,736.8 327.3,739.2 328.8,738.4 330.3,737.3 331.9,737.3 333.4,734.8 334.9,738.1 336.5,737.6 338.0,735.4" fill="none" stroke="#003a00" stroke-width="5.5" stroke-linejoin="round" />
<polyline points="139.0,702.2 140.6,701.7 142.1,701.3 143.7,700.8 145.2,701.2 146.8,700.8 148.3,702.5 149.8,702.4 151.4,702.3 152.9,701.7 154.5,701.5 156.1,704.4 157.6,699.7 159.2,703.4 160.7,702.4 162.2,702.0 163.8,701.4 165.3,701.7 166.9,700.5 168.4,700.3 170.0,701.8 171.5,700.1 173.0,703.3 174.5,703.8 176.0,698.4 177.5,700.9 179.0,703.2 180.5,703.3 182.0,703.3 183.5,703.8 185.0,704.4 186.5,704.7 188.0,705.9 189.5,703.9 191.0,705.1 192.5,702.3 194.0,704.2 195.5,703.1 197.0,706.3 198.5,707.6 200.0,705.6 201.5,703.5 203.0,705.0 204.5,705.3 206.0,705.6 207.5,706.8 209.0,706.7 210.5,702.5 212.0,707.4 213.5,705.3 215.0,705.3 216.5,707.8 218.0,705.9 219.5,704.6 221.0,704.8 222.5,706.5 224.0,707.7 225.5,708.5 227.0,706.6 228.5,706.3 230.0,708.9 231.5,706.5 233.0,708.9 234.5,707.6 236.0,707.7 237.5,707.2 239.0,707.9 240.5,707.1 242.0,707.0 243.5,707.7 245.0,707.2 246.5,708.4 248.0,708.3 249.5,708.0 251.0,708.1 252.5,708.2 254.0,710.7 255.5,708.7 257.0,708.1 258.5,708.5 260.0,709.8 261.5,709.0 263.1,709.3 264.6,709.4 266.2,710.1 267.7,710.6 269.2,710.9 270.8,708.6 272.3,709.5 273.8,707.9 275.4,712.2 276.9,712.8 278.5,713.3 280.0,712.1 281.5,713.7 283.0,712.7 284.5,713.0 286.0,711.7 287.5,713.0 289.0,713.7 290.5,715.9 292.0,717.2 293.5,715.0 295.0,716.4" fill="none" stroke="#003a00" stroke-width="3" stroke-linejoin="round" />
<path d="M238.6 698.6V690.2 M266.9 699.4V690.7 M209.7 697.9V693.6 M198.4 697.6V692.5 M304.0 706.3V701.5 M265.0 699.3V695.2 M198.0 697.5V690.4 M169.7 696.8V691.5 M213.1 697.9V694.9 M318.4 712.8V708.5 M297.8 703.5V696.6 M179.9 697.1V689.9 M255.2 699.1V696.0 M141.0 696.0V689.7" stroke="#003a00" stroke-width="1.8" fill="none"/>
<path d="M338.5 634.9V750.9 M340.0 635.1V754.5 M341.5 630.7V756.3 M343.0 632.2V736.5 M344.5 635.1V743.6 M346.0 634.9V744.3 M347.5 633.0V748.9 M349.0 635.9V742.4 M350.5 635.4V740.8 M352.0 637.1V740.8 M353.5 627.0V736.0 M355.0 634.4V743.1 M356.0 659.5V742.8 M357.9 656.8V756.8 M359.8 666.5V736.1 M361.7 667.0V747.6 M363.6 662.8V758.2 M365.5 651.8V744.6 M367.4 665.7V748.0 M369.3 665.9V755.9 M371.2 668.0V751.5" stroke="#003a00" stroke-width="1.6" fill="none"/>
<path d="M351.5 594.3V740.0 M349.0 630.0V740.0" stroke="#003a00" stroke-width="2.4" fill="none"/>
<polyline points="358.6,740.0 358.6,598.0 362.0,597.0 364.9,600.0 364.9,740.0" fill="none" stroke="#003a00" stroke-width="2.4" stroke-linejoin="round" />
<polyline points="373.0,665.9 378.0,672.0 383.7,682.0 385.5,690.0 386.4,750.0" fill="none" stroke="#003a00" stroke-width="2" stroke-linejoin="round" />
<polyline points="338.0,741.1 339.5,741.9 341.0,743.8 342.5,744.1 344.0,745.3 345.5,742.5 347.0,745.3 348.5,745.2 350.0,745.5 351.5,746.6 353.0,743.8 354.5,747.6 356.0,747.8 357.5,745.8 359.0,748.2 360.5,751.1 362.0,748.6 363.5,750.4 365.0,749.6 366.5,748.9 368.0,749.0 369.5,750.0 371.0,752.7 372.5,752.2 374.0,750.1 375.5,752.8 377.0,751.4 378.5,750.7 380.0,752.6 381.5,750.9 383.0,750.2 384.5,754.8 386.0,750.4 387.5,754.3 389.0,751.5 390.5,754.0 392.0,754.1 393.5,754.0 395.0,751.7" fill="none" stroke="#003a00" stroke-width="3" stroke-linejoin="round" />
<polygon points="370.2,750.2 371.8,750.2 371.8,750.1 373.2,750.1 373.2,751.4 374.8,751.4 374.8,750.4 376.2,750.4 376.2,751.8 377.8,751.8 377.8,749.9 379.2,749.9 379.2,750.7 380.8,750.7 380.8,749.7 382.2,749.7 382.2,751.7 383.8,751.7 383.8,750.7 385.2,750.7 385.2,748.7 386.8,748.7 386.8,752.8 388.2,752.8 388.2,752.4 389.8,752.4 389.8,750.6 391.2,750.6 391.2,754.0 392.8,754.0 392.8,752.2 394.2,752.2 394.2,753.3 395.8,753.3 395.8,755.4 397.2,755.4 397.2,756.5 398.8,756.5 398.8,756.0 400.2,756.0 400.2,755.0 401.8,755.0 401.8,755.5 403.2,755.5 403.2,758.3 404.8,758.3 404.8,759.4 406.2,759.4 406.2,759.8 407.8,759.8 407.8,762.5 409.2,762.5 409.2,762.1 410.8,762.1 410.8,762.0 412.2,762.0 412.2,760.6 413.8,760.6 413.8,763.0 415.2,763.0 415.2,762.1 416.8,762.1 416.8,762.3 418.2,762.3 418.2,760.4 419.8,760.4 419.8,760.3 421.2,760.3 421.2,760.1 422.8,760.1 422.8,759.1 424.2,759.1 424.2,759.0 425.8,759.0 425.8,759.2 427.2,759.2 427.2,757.6 428.8,757.6 428.8,821.0 427.2,821.0 427.2,813.5 425.8,813.5 425.8,818.2 424.2,818.2 424.2,824.0 422.8,824.0 422.8,817.1 421.2,817.1 421.2,815.6 419.8,815.6 419.8,833.1 418.2,833.1 418.2,825.6 416.8,825.6 416.8,826.3 415.2,826.3 415.2,830.8 413.8,830.8 413.8,820.5 412.2,820.5 412.2,827.3 410.8,827.3 410.8,827.7 409.2,827.7 409.2,818.7 407.8,818.7 407.8,841.0 406.2,841.0 406.2,829.0 404.8,829.0 404.8,840.1 403.2,840.1 403.2,843.8 401.8,843.8 401.8,829.9 400.2,829.9 400.2,827.0 398.8,827.0 398.8,826.0 397.2,826.0 397.2,828.6 395.8,828.6 395.8,827.9 394.2,827.9 394.2,833.6 392.8,833.6 392.8,833.0 391.2,833.0 391.2,844.4 389.8,844.4 389.8,836.2 388.2,836.2 388.2,829.5 386.8,829.5 386.8,819.6 385.2,819.6 385.2,820.7 383.8,820.7 383.8,818.1 382.2,818.1 382.2,821.7 380.8,821.7 380.8,816.3 379.2,816.3 379.2,807.9 377.8,807.9 377.8,809.2 376.2,809.2 376.2,804.9 374.8,804.9 374.8,798.8 373.2,798.8 373.2,795.9 371.8,795.9 371.8,807.6 370.2,807.6" fill="#003a00" />
<polyline points="412.3,765.3 412.3,764.1 412.3,761.7 412.3,760.9 412.3,759.3 412.3,756.9 412.3,755.3 412.3,754.2 412.3,753.0 412.3,751.6 412.3,749.8 412.3,748.4 412.3,746.8 412.3,745.4 412.3,744.1 412.3,742.5 412.3,740.8 412.3,739.4 412.3,737.6 412.3,736.6 412.3,734.6 412.3,733.9 412.3,731.8 412.3,730.4 412.3,728.4 412.3,727.1 412.3,725.8 412.3,724.2 412.3,722.4 412.3,720.7 412.3,719.7 412.3,718.2 412.3,716.9 412.3,715.6 412.3,713.5 412.3,711.3 412.3,710.5 412.3,708.4 412.3,707.1 412.3,706.5 412.3,704.8 412.3,702.8 412.3,701.3 412.3,700.0 412.3,697.8 412.3,697.2 412.3,695.4 412.3,694.7 412.3,692.0 412.3,691.4 412.4,689.2 412.4,688.3 412.4,686.0 412.4,685.2 412.4,683.2 412.4,681.6 412.4,680.3 412.4,679.1 412.4,677.5 412.4,676.5 412.4,674.7 412.4,671.8 412.4,671.2 412.4,669.0 412.4,668.1 412.5,667.0 412.5,664.7 412.5,663.3 412.5,662.3 412.5,660.6 412.5,659.9 412.5,657.9 412.9,656.4 413.2,655.3 413.6,652.8 413.9,651.4 414.2,649.5 414.6,648.4 414.9,647.1 415.3,645.7 415.6,643.6 416.0,641.7 416.7,640.3 417.4,638.7 418.1,638.0 418.8,637.1 419.5,634.2 420.2,632.9 420.9,633.0 421.6,630.4 422.3,629.8 423.0,627.8 424.0,627.3 425.0,626.0 426.0,624.4 427.0,623.3 428.0,621.7 429.0,620.6 430.0,619.8 431.2,618.3 432.5,616.5 433.7,615.3 434.9,614.4 436.2,613.3 437.4,612.3 438.6,611.0 439.9,610.6 441.1,609.4 442.3,608.5 443.5,607.4 444.8,606.7 446.0,605.0 447.3,605.3 448.7,604.0 450.0,603.2 451.3,602.5 452.6,601.8 454.0,600.9 455.3,599.8 456.8,599.1 458.3,597.9 459.8,598.0 461.3,597.2 462.8,596.6 464.2,597.1 465.7,594.8 467.2,595.0 468.7,594.8 470.2,594.1 471.7,593.6 473.2,592.0 474.7,591.8 476.2,592.1 477.7,591.4 479.2,591.8 480.6,590.9 482.1,590.5 483.6,590.3 485.1,589.7 486.6,589.5 488.1,588.8 489.6,588.7 491.1,588.2 492.6,588.2 494.0,587.1 495.5,586.8 497.0,587.2 498.5,586.8 500.0,585.9 501.5,586.0 503.1,585.5 504.6,586.5 506.2,584.8 507.7,585.9 509.2,584.7 510.8,585.0 512.3,584.5 513.8,584.2 515.4,584.6 516.9,584.3 518.5,583.6 520.0,583.2 521.5,584.1 523.1,583.5 524.6,582.7 526.1,582.2 527.6,582.1 529.2,581.7 530.7,581.8 532.2,580.6 533.7,580.7 535.3,580.1 536.8,580.6 538.3,580.5 539.8,579.4 541.4,579.4 542.9,579.4 544.5,578.5 546.0,578.0 547.6,578.6 549.1,578.2 550.7,577.7 552.2,578.2 553.8,577.5 555.3,576.5 556.9,577.1 558.4,576.7 560.0,577.3 561.6,576.3 563.2,576.0 564.7,576.1 566.3,575.8 567.9,574.9 569.5,575.3 571.0,575.0 572.6,575.4 574.2,575.6 575.8,574.0 577.3,573.9 578.9,573.7 580.5,573.6 582.2,573.5 583.8,573.7 585.5,574.0" fill="none" stroke="#003a00" stroke-width="2.4" stroke-linejoin="round" />
<path d="M585.5 573.5V692.8" stroke="#003a00" stroke-width="2.4" fill="none"/>
<polyline points="426.6,750.0 428.4,705.3 430.2,687.4 434.0,677.0 437.4,672.2 441.8,676.6 442.7,750.0" fill="none" stroke="#003a00" stroke-width="2.4" stroke-linejoin="round" />
<path d="M444.5 655.0V739.1 M446.1 655.3V739.2 M447.7 659.7V739.8 M449.3 649.3V740.4 M450.9 654.8V743.9 M452.5 655.9V737.2 M454.1 653.0V746.1 M455.7 659.7V752.7 M457.3 654.9V741.0" stroke="#003a00" stroke-width="1.6" fill="none"/>
<polyline points="446.0,650.0 452.0,660.0 458.0,672.0 464.0,688.0 470.0,700.0 476.0,712.0" fill="none" stroke="#003a00" stroke-width="4" stroke-linejoin="round" />
<polyline points="448.0,652.0 455.0,668.0 461.0,685.0 466.0,697.0 472.0,708.0" fill="none" stroke="#003a00" stroke-width="3" stroke-linejoin="round" />
<path d="M463.3 651.6V710.0 M474.0 655.2V712.0 M460.3 700.0V820.0 M456.0 660.0V740.0" stroke="#003a00" stroke-width="2.2" fill="none"/>
<polyline points="476.7,710.7 478.4,712.4 480.0,713.5 481.7,710.5 483.4,713.2 485.0,714.2 486.7,711.9 488.3,709.9 490.0,710.1 491.7,710.6 493.4,709.3 495.1,709.3 496.9,710.3 498.6,710.3 500.3,711.1 500.7,707.5 501.1,709.7 501.5,707.3 501.8,705.6 502.2,702.3 502.6,703.7 503.0,699.7 503.2,700.7 503.4,698.3 503.7,694.3 503.9,693.3 504.1,694.5 504.3,691.9 504.5,689.0 504.7,687.9 505.0,686.3 505.2,683.5 505.4,682.7 506.9,681.5 508.5,681.2 510.0,681.7 511.2,681.0 512.5,684.0 513.8,684.2 515.0,686.0 515.5,684.7 516.0,683.6 516.5,681.4 517.0,680.0 517.5,677.4 518.0,676.8 518.1,676.6 518.3,678.9 518.5,681.6 518.6,682.1 518.8,684.2 518.9,684.0 519.0,688.4 519.2,687.6 519.4,690.3 519.5,691.3 519.6,693.9 519.8,693.9 519.9,694.7 520.1,695.1 520.2,698.5 520.4,699.0 522.0,701.0 523.6,702.0 525.2,697.6 526.8,698.7 528.4,700.5 530.0,701.6 531.7,700.1 533.3,699.8 535.0,699.7 536.7,699.5 538.3,700.4 540.0,698.9 541.5,696.4 543.1,697.0 544.6,697.6 546.2,696.1 547.7,696.4 549.2,695.9 550.8,695.4 552.3,696.8 553.9,695.2 555.4,694.1 557.0,694.3 558.6,694.9 560.3,697.2 561.9,694.7 563.5,695.9 565.1,694.5 566.8,691.0 568.4,693.8 570.0,692.1 571.5,691.5 573.1,691.8 574.6,695.2 576.2,691.1 577.8,692.3 579.3,694.4 580.9,693.8 582.4,690.9 584.0,692.8 585.5,692.3" fill="none" stroke="#003a00" stroke-width="3.5" stroke-linejoin="round" />
<polygon points="584.2,688.1 585.8,688.1 585.8,686.8 587.2,686.8 587.2,688.3 588.8,688.3 588.8,687.8 590.2,687.8 590.2,685.5 591.8,685.5 591.8,689.4 593.2,689.4 593.2,686.8 594.8,686.8 594.8,687.6 596.2,687.6 596.2,678.4 597.8,678.4 597.8,674.6 599.2,674.6 599.2,685.0 600.8,685.0 600.8,686.1 602.2,686.1 602.2,686.8 603.8,686.8 603.8,687.1 605.2,687.1 605.2,674.7 606.8,674.7 606.8,685.8 608.2,685.8 608.2,685.0 609.8,685.0 609.8,685.5 611.2,685.5 611.2,684.7 612.8,684.7 612.8,686.0 614.2,686.0 614.2,685.8 615.8,685.8 615.8,684.5 617.2,684.5 617.2,685.0 618.8,685.0 618.8,685.2 620.2,685.2 620.2,682.3 621.8,682.3 621.8,681.7 623.2,681.7 623.2,682.1 624.8,682.1 624.8,684.4 626.2,684.4 626.2,682.3 627.8,682.3 627.8,682.2 629.2,682.2 629.2,681.6 630.8,681.6 630.8,681.7 632.2,681.7 632.2,682.5 633.8,682.5 633.8,681.2 635.2,681.2 635.2,681.9 636.8,681.9 636.8,680.7 638.2,680.7 638.2,681.5 639.8,681.5 639.8,679.8 641.2,679.8 641.2,681.5 642.8,681.5 642.8,681.8 644.2,681.8 644.2,679.8 645.8,679.8 645.8,670.5 647.2,670.5 647.2,680.4 648.8,680.4 648.8,682.1 650.2,682.1 650.2,679.5 651.8,679.5 651.8,681.8 653.2,681.8 653.2,678.4 654.8,678.4 654.8,680.1 656.2,680.1 656.2,678.9 657.8,678.9 657.8,681.1 659.2,681.1 659.2,679.1 660.8,679.1 660.8,678.9 662.2,678.9 662.2,681.5 663.8,681.5 663.8,681.8 665.2,681.8 665.2,679.6 666.8,679.6 666.8,673.6 668.2,673.6 668.2,680.6 669.8,680.6 669.8,683.5 671.2,683.5 671.2,678.7 672.8,678.7 672.8,681.9 674.2,681.9 674.2,682.4 675.8,682.4 675.8,680.4 677.2,680.4 677.2,681.1 678.8,681.1 678.8,681.0 680.2,681.0 680.2,692.0 678.8,692.0 678.8,695.3 677.2,695.3 677.2,695.0 675.8,695.0 675.8,697.7 674.2,697.7 674.2,695.1 672.8,695.1 672.8,690.4 671.2,690.4 671.2,686.9 669.8,686.9 669.8,686.1 668.2,686.1 668.2,689.7 666.8,689.7 666.8,695.1 665.2,695.1 665.2,697.6 663.8,697.6 663.8,697.5 662.2,697.5 662.2,698.8 660.8,698.8 660.8,698.0 659.2,698.0 659.2,695.7 657.8,695.7 657.8,695.5 656.2,695.5 656.2,696.6 654.8,696.6 654.8,692.2 653.2,692.2 653.2,698.6 651.8,698.6 651.8,692.6 650.2,692.6 650.2,694.2 648.8,694.2 648.8,696.5 647.2,696.5 647.2,697.8 645.8,697.8 645.8,699.6 644.2,699.6 644.2,701.4 642.8,701.4 642.8,698.8 641.2,698.8 641.2,716.3 639.8,716.3 639.8,699.3 638.2,699.3 638.2,706.7 636.8,706.7 636.8,701.1 635.2,701.1 635.2,694.6 633.8,694.6 633.8,695.7 632.2,695.7 632.2,702.1 630.8,702.1 630.8,698.5 629.2,698.5 629.2,698.6 627.8,698.6 627.8,701.1 626.2,701.1 626.2,701.7 624.8,701.7 624.8,701.5 623.2,701.5 623.2,702.0 621.8,702.0 621.8,705.9 620.2,705.9 620.2,706.1 618.8,706.1 618.8,699.4 617.2,699.4 617.2,698.1 615.8,698.1 615.8,693.4 614.2,693.4 614.2,697.7 612.8,697.7 612.8,696.3 611.2,696.3 611.2,700.3 609.8,700.3 609.8,698.8 608.2,698.8 608.2,706.1 606.8,706.1 606.8,700.1 605.2,700.1 605.2,692.3 603.8,692.3 603.8,696.9 602.2,696.9 602.2,699.8 600.8,699.8 600.8,698.9 599.2,698.9 599.2,698.7 597.8,698.7 597.8,700.1 596.2,700.1 596.2,698.9 594.8,698.9 594.8,700.4 593.2,700.4 593.2,702.7 591.8,702.7 591.8,705.0 590.2,705.0 590.2,697.7 588.8,697.7 588.8,698.1 587.2,698.1 587.2,701.6 585.8,701.6 585.8,703.1 584.2,703.1" fill="#003a00" />
<path d="M599.0 672.0V692.0 M526.0 680.0V700.0 M520.0 670.0V690.0 M640.0 690.0V707.0 M614.0 690.0V703.0" stroke="#003a00" stroke-width="2" fill="none"/>
<polyline points="142.7,529.1 205.5,529.1" fill="none" stroke="#229306" stroke-width="2.6" stroke-linejoin="round" />
<polyline points="142.7,570.0 205.5,570.0" fill="none" stroke="#003a00" stroke-width="2.6" stroke-linejoin="round" />
<g transform="translate(211.18,537.65) scale(1.1277,1)" fill="#000"><text x="0.00" y="0" font-size="25.14" font-weight="bold" style="font-kerning:none">S</text><path transform="translate(16.77,0) scale(0.01228,-0.01228)" d="M478 0L478 1170L140 959L140 1180L493 1409L759 1409L759 0Z"/></g>
<g transform="translate(244.83,547.32) scale(1.1900,1)" fill="#000"><text x="0.00" y="0" font-size="13.83" font-weight="bold" style="font-kerning:none">25/</text><path transform="translate(19.23,0) scale(0.00675,-0.00675)" d="M478 0L478 1170L140 959L140 1180L493 1409L759 1409L759 0Z"/><text x="26.92" y="0" font-size="13.83" font-weight="bold" style="font-kerning:none">00</text></g>
<g transform="translate(295.30,537.65) scale(1.0878,1)" fill="#000"><text x="0.00" y="0" font-size="25.14" font-weight="bold" style="font-kerning:none">as-G</text></g>
<g transform="translate(211.18,578.05) scale(1.1277,1)" fill="#000"><text x="0.00" y="0" font-size="25.14" font-weight="bold" style="font-kerning:none">S</text><path transform="translate(16.77,0) scale(0.01228,-0.01228)" d="M478 0L478 1170L140 959L140 1180L493 1409L759 1409L759 0Z"/></g>
<g transform="translate(244.83,586.72) scale(1.1900,1)" fill="#000"><text x="0.00" y="0" font-size="13.83" font-weight="bold" style="font-kerning:none">25/</text><path transform="translate(19.23,0) scale(0.00675,-0.00675)" d="M478 0L478 1170L140 959L140 1180L493 1409L759 1409L759 0Z"/><text x="26.92" y="0" font-size="13.83" font-weight="bold" style="font-kerning:none">00</text></g>
<g transform="translate(303.40,577.80) scale(1.0768,1)" fill="#000"><text x="0.00" y="0" font-size="25.15" font-weight="bold" style="font-kerning:none">T-T</text></g>
<g transform="translate(264.89,678.30) scale(1.1109,1)" fill="#000"><text x="0.00" y="0" font-size="47.12" font-weight="bold" style="font-kerning:none">2</text></g>
<g transform="translate(593.26,640.90) scale(1.0228,1)" fill="#ff0000"><text x="0.00" y="0" font-size="44.26" font-weight="bold" style="font-kerning:none">3</text></g>
<g transform="translate(639.12,812.60) scale(1.2289,1)" fill="#6b0088"><path transform="translate(0.00,0) scale(0.02314,-0.02314)" d="M478 0L478 1170L140 959L140 1180L493 1409L759 1409L759 0Z"/></g>
<polyline points="580.5,701.6 560.0,705.0 540.0,710.0 520.0,715.0 512.0,717.5" fill="none" stroke="#6b0088" stroke-width="1.8" stroke-linejoin="round" />
<polygon points="507.2,719.0 515.4,711.7 518.1,720.3" fill="#6b0088" />
<polyline points="537.9,849.0 541.0,840.0 546.0,828.0 555.5,815.2 566.0,808.0 580.5,802.6 600.0,798.0 620.0,795.0" fill="none" stroke="#6b0088" stroke-width="1.8" stroke-linejoin="round" />
<polygon points="624.9,794.3 615.7,800.2 614.4,791.3" fill="#6b0088" />
<polygon points="1058.2,753.1 1059.8,753.1 1059.8,751.6 1061.2,751.6 1061.2,752.9 1062.8,752.9 1062.8,752.9 1064.2,752.9 1064.2,751.2 1065.8,751.2 1065.8,751.4 1067.2,751.4 1067.2,753.9 1068.8,753.9 1068.8,754.1 1070.2,754.1 1070.2,753.6 1071.8,753.6 1071.8,753.8 1073.2,753.8 1073.2,753.6 1074.8,753.6 1074.8,754.2 1076.2,754.2 1076.2,753.7 1077.8,753.7 1077.8,752.6 1079.2,752.6 1079.2,754.7 1080.8,754.7 1080.8,753.5 1082.2,753.5 1082.2,755.9 1083.8,755.9 1083.8,755.1 1085.2,755.1 1085.2,753.3 1086.8,753.3 1086.8,754.8 1088.2,754.8 1088.2,753.4 1089.8,753.4 1089.8,755.5 1091.2,755.5 1091.2,754.9 1092.8,754.9 1092.8,756.9 1094.2,756.9 1094.2,754.9 1095.8,754.9 1095.8,755.6 1097.2,755.6 1097.2,752.6 1098.8,752.6 1098.8,757.7 1100.2,757.7 1100.2,756.5 1101.8,756.5 1101.8,757.2 1103.2,757.2 1103.2,757.8 1104.8,757.8 1104.8,755.0 1106.2,755.0 1106.2,756.9 1107.8,756.9 1107.8,758.6 1109.2,758.6 1109.2,757.1 1110.8,757.1 1110.8,757.3 1112.2,757.3 1112.2,757.0 1113.8,757.0 1113.8,758.2 1115.2,758.2 1115.2,756.9 1116.8,756.9 1116.8,758.4 1118.2,758.4 1118.2,757.6 1119.8,757.6 1119.8,757.0 1121.2,757.0 1121.2,758.2 1122.8,758.2 1122.8,758.5 1124.2,758.5 1124.2,759.3 1125.8,759.3 1125.8,758.3 1127.2,758.3 1127.2,760.2 1128.8,760.2 1128.8,759.8 1130.2,759.8 1130.2,759.6 1131.8,759.6 1131.8,760.6 1133.2,760.6 1133.2,759.3 1134.8,759.3 1134.8,753.1 1136.2,753.1 1136.2,762.2 1137.8,762.2 1137.8,761.5 1139.2,761.5 1139.2,762.0 1140.8,762.0 1140.8,762.1 1142.2,762.1 1142.2,761.8 1143.8,761.8 1143.8,761.9 1145.2,761.9 1145.2,761.6 1146.8,761.6 1146.8,762.1 1148.2,762.1 1148.2,762.3 1149.8,762.3 1149.8,763.5 1151.2,763.5 1151.2,763.2 1152.8,763.2 1152.8,762.2 1154.2,762.2 1154.2,765.0 1155.8,765.0 1155.8,763.4 1157.2,763.4 1157.2,763.9 1158.8,763.9 1158.8,763.1 1160.2,763.1 1160.2,764.1 1161.8,764.1 1161.8,764.2 1163.2,764.2 1163.2,764.4 1164.8,764.4 1164.8,765.3 1166.2,765.3 1166.2,765.7 1167.8,765.7 1167.8,764.1 1169.2,764.1 1169.2,763.7 1170.8,763.7 1170.8,765.4 1172.2,765.4 1172.2,764.4 1173.8,764.4 1173.8,764.4 1175.2,764.4 1175.2,764.2 1176.8,764.2 1176.8,762.9 1178.2,762.9 1178.2,764.0 1179.8,764.0 1179.8,765.4 1181.2,765.4 1181.2,764.8 1182.8,764.8 1182.8,764.6 1184.2,764.6 1184.2,764.4 1185.8,764.4 1185.8,766.2 1187.2,766.2 1187.2,765.7 1188.8,765.7 1188.8,765.2 1190.2,765.2 1190.2,765.9 1191.8,765.9 1191.8,766.5 1193.2,766.5 1193.2,765.8 1194.8,765.8 1194.8,763.8 1196.2,763.8 1196.2,763.6 1197.8,763.6 1197.8,764.7 1199.2,764.7 1199.2,764.5 1200.8,764.5 1200.8,765.6 1202.2,765.6 1202.2,763.5 1203.8,763.5 1203.8,766.7 1205.2,766.7 1205.2,764.8 1206.8,764.8 1206.8,758.7 1208.2,758.7 1208.2,763.6 1209.8,763.6 1209.8,756.6 1211.2,756.6 1211.2,765.7 1212.8,765.7 1212.8,764.2 1214.2,764.2 1214.2,763.3 1215.8,763.3 1215.8,765.1 1217.2,765.1 1217.2,764.2 1218.8,764.2 1218.8,763.7 1220.2,763.7 1220.2,764.4 1221.8,764.4 1221.8,765.5 1223.2,765.5 1223.2,766.2 1224.8,766.2 1224.8,762.7 1226.2,762.7 1226.2,764.5 1227.8,764.5 1227.8,765.0 1229.2,765.0 1229.2,765.8 1230.8,765.8 1230.8,764.5 1232.2,764.5 1232.2,763.4 1233.8,763.4 1233.8,765.7 1235.2,765.7 1235.2,762.2 1236.8,762.2 1236.8,762.9 1238.2,762.9 1238.2,764.5 1239.8,764.5 1239.8,764.5 1241.2,764.5 1241.2,763.2 1242.8,763.2 1242.8,755.5 1244.2,755.5 1244.2,762.7 1245.8,762.7 1245.8,763.6 1247.2,763.6 1247.2,761.8 1248.8,761.8 1248.8,763.0 1250.2,763.0 1250.2,761.8 1251.8,761.8 1251.8,764.1 1253.2,764.1 1253.2,764.3 1254.8,764.3 1254.8,762.1 1256.2,762.1 1256.2,765.2 1257.8,765.2 1257.8,764.1 1259.2,764.1 1259.2,762.6 1260.8,762.6 1260.8,761.3 1262.2,761.3 1262.2,763.7 1263.8,763.7 1263.8,763.2 1265.2,763.2 1265.2,760.5 1266.8,760.5 1266.8,763.6 1268.2,763.6 1268.2,761.0 1269.8,761.0 1269.8,761.0 1271.2,761.0 1271.2,760.7 1272.8,760.7 1272.8,759.8 1274.2,759.8 1274.2,762.0 1275.8,762.0 1275.8,760.4 1277.2,760.4 1277.2,760.0 1278.8,760.0 1278.8,760.2 1280.2,760.2 1280.2,760.4 1281.8,760.4 1281.8,758.6 1283.2,758.6 1283.2,759.6 1284.8,759.6 1284.8,757.8 1286.2,757.8 1286.2,760.3 1287.8,760.3 1287.8,758.8 1289.2,758.8 1289.2,757.4 1290.8,757.4 1290.8,760.3 1292.2,760.3 1292.2,759.2 1293.8,759.2 1293.8,759.6 1295.2,759.6 1295.2,759.2 1296.8,759.2 1296.8,758.2 1298.2,758.2 1298.2,758.5 1299.8,758.5 1299.8,757.8 1301.2,757.8 1301.2,756.2 1302.8,756.2 1302.8,757.9 1304.2,757.9 1304.2,757.2 1305.8,757.2 1305.8,755.5 1307.2,755.5 1307.2,757.2 1308.8,757.2 1308.8,755.8 1310.2,755.8 1310.2,753.3 1311.8,753.3 1311.8,755.1 1313.2,755.1 1313.2,757.6 1314.8,757.6 1314.8,745.6 1316.2,745.6 1316.2,753.5 1317.8,753.5 1317.8,752.2 1319.2,752.2 1319.2,753.5 1320.8,753.5 1320.8,753.7 1322.2,753.7 1322.2,751.4 1323.8,751.4 1323.8,751.2 1325.2,751.2 1325.2,752.0 1326.8,752.0 1326.8,751.7 1328.2,751.7 1328.2,749.2 1329.8,749.2 1329.8,747.8 1331.2,747.8 1331.2,746.8 1332.8,746.8 1332.8,747.6 1334.2,747.6 1334.2,746.2 1335.8,746.2 1335.8,746.8 1337.2,746.8 1337.2,748.3 1338.8,748.3 1338.8,746.4 1340.2,746.4 1340.2,745.7 1341.8,745.7 1341.8,746.2 1343.2,746.2 1343.2,744.8 1344.8,744.8 1344.8,745.6 1346.2,745.6 1346.2,738.4 1347.8,738.4 1347.8,742.5 1349.2,742.5 1349.2,741.4 1350.8,741.4 1350.8,741.6 1352.2,741.6 1352.2,738.3 1353.8,738.3 1353.8,739.0 1355.2,739.0 1355.2,737.5 1356.8,737.5 1356.8,736.7 1358.2,736.7 1358.2,735.3 1359.8,735.3 1359.8,735.1 1361.2,735.1 1361.2,735.8 1362.8,735.8 1362.8,734.6 1364.2,734.6 1364.2,733.1 1365.8,733.1 1365.8,730.8 1367.2,730.8 1367.2,730.9 1368.8,730.9 1368.8,730.1 1370.2,730.1 1370.2,728.9 1371.8,728.9 1371.8,729.4 1373.2,729.4 1373.2,727.4 1374.8,727.4 1374.8,726.0 1376.2,726.0 1376.2,726.1 1377.8,726.1 1377.8,724.3 1379.2,724.3 1379.2,724.9 1380.8,724.9 1380.8,723.0 1382.2,723.0 1382.2,723.7 1383.8,723.7 1383.8,720.8 1385.2,720.8 1385.2,721.5 1386.8,721.5 1386.8,716.8 1388.2,716.8 1388.2,719.7 1389.8,719.7 1389.8,717.7 1391.2,717.7 1391.2,716.9 1392.8,716.9 1392.8,718.3 1394.2,718.3 1394.2,718.7 1395.8,718.7 1395.8,715.6 1397.2,715.6 1397.2,716.0 1398.8,716.0 1398.8,716.8 1400.2,716.8 1400.2,715.0 1401.8,715.0 1401.8,714.2 1403.2,714.2 1403.2,713.4 1404.8,713.4 1404.8,715.2 1406.2,715.2 1406.2,714.1 1407.8,714.1 1407.8,713.2 1409.2,713.2 1409.2,712.4 1410.8,712.4 1410.8,724.9 1409.2,724.9 1409.2,719.3 1407.8,719.3 1407.8,729.3 1406.2,729.3 1406.2,717.0 1404.8,717.0 1404.8,725.8 1403.2,725.8 1403.2,725.7 1401.8,725.7 1401.8,728.1 1400.2,728.1 1400.2,727.4 1398.8,727.4 1398.8,730.3 1397.2,730.3 1397.2,736.0 1395.8,736.0 1395.8,732.6 1394.2,732.6 1394.2,732.8 1392.8,732.8 1392.8,730.6 1391.2,730.6 1391.2,733.2 1389.8,733.2 1389.8,736.4 1388.2,736.4 1388.2,740.5 1386.8,740.5 1386.8,739.5 1385.2,739.5 1385.2,739.0 1383.8,739.0 1383.8,733.9 1382.2,733.9 1382.2,741.9 1380.8,741.9 1380.8,742.4 1379.2,742.4 1379.2,747.0 1377.8,747.0 1377.8,749.7 1376.2,749.7 1376.2,749.8 1374.8,749.8 1374.8,743.9 1373.2,743.9 1373.2,753.0 1371.8,753.0 1371.8,749.6 1370.2,749.6 1370.2,751.7 1368.8,751.7 1368.8,757.2 1367.2,757.2 1367.2,770.9 1365.8,770.9 1365.8,755.9 1364.2,755.9 1364.2,767.0 1362.8,767.0 1362.8,758.0 1361.2,758.0 1361.2,762.7 1359.8,762.7 1359.8,766.2 1358.2,766.2 1358.2,765.9 1356.8,765.9 1356.8,766.1 1355.2,766.1 1355.2,771.4 1353.8,771.4 1353.8,769.1 1352.2,769.1 1352.2,782.8 1350.8,782.8 1350.8,781.0 1349.2,781.0 1349.2,775.8 1347.8,775.8 1347.8,777.7 1346.2,777.7 1346.2,785.6 1344.8,785.6 1344.8,791.3 1343.2,791.3 1343.2,786.4 1341.8,786.4 1341.8,781.4 1340.2,781.4 1340.2,792.5 1338.8,792.5 1338.8,817.0 1337.2,817.0 1337.2,783.0 1335.8,783.0 1335.8,790.6 1334.2,790.6 1334.2,788.5 1332.8,788.5 1332.8,791.7 1331.2,791.7 1331.2,792.6 1329.8,792.6 1329.8,787.4 1328.2,787.4 1328.2,796.4 1326.8,796.4 1326.8,795.1 1325.2,795.1 1325.2,797.7 1323.8,797.7 1323.8,802.4 1322.2,802.4 1322.2,803.4 1320.8,803.4 1320.8,796.1 1319.2,796.1 1319.2,810.0 1317.8,810.0 1317.8,792.7 1316.2,792.7 1316.2,792.8 1314.8,792.8 1314.8,802.2 1313.2,802.2 1313.2,788.0 1311.8,788.0 1311.8,794.6 1310.2,794.6 1310.2,796.4 1308.8,796.4 1308.8,798.5 1307.2,798.5 1307.2,794.0 1305.8,794.0 1305.8,802.4 1304.2,802.4 1304.2,792.4 1302.8,792.4 1302.8,801.3 1301.2,801.3 1301.2,797.7 1299.8,797.7 1299.8,797.0 1298.2,797.0 1298.2,798.6 1296.8,798.6 1296.8,797.0 1295.2,797.0 1295.2,799.1 1293.8,799.1 1293.8,798.3 1292.2,798.3 1292.2,825.2 1290.8,825.2 1290.8,798.6 1289.2,798.6 1289.2,798.4 1287.8,798.4 1287.8,807.1 1286.2,807.1 1286.2,800.2 1284.8,800.2 1284.8,810.1 1283.2,810.1 1283.2,804.6 1281.8,804.6 1281.8,804.4 1280.2,804.4 1280.2,800.7 1278.8,800.7 1278.8,810.7 1277.2,810.7 1277.2,807.1 1275.8,807.1 1275.8,808.1 1274.2,808.1 1274.2,808.2 1272.8,808.2 1272.8,806.9 1271.2,806.9 1271.2,800.6 1269.8,800.6 1269.8,813.8 1268.2,813.8 1268.2,801.7 1266.8,801.7 1266.8,808.9 1265.2,808.9 1265.2,806.1 1263.8,806.1 1263.8,808.6 1262.2,808.6 1262.2,835.0 1260.8,835.0 1260.8,847.9 1259.2,847.9 1259.2,809.8 1257.8,809.8 1257.8,809.1 1256.2,809.1 1256.2,808.0 1254.8,808.0 1254.8,810.2 1253.2,810.2 1253.2,812.7 1251.8,812.7 1251.8,809.2 1250.2,809.2 1250.2,806.4 1248.8,806.4 1248.8,817.3 1247.2,817.3 1247.2,817.6 1245.8,817.6 1245.8,799.8 1244.2,799.8 1244.2,808.0 1242.8,808.0 1242.8,813.4 1241.2,813.4 1241.2,808.7 1239.8,808.7 1239.8,814.3 1238.2,814.3 1238.2,818.0 1236.8,818.0 1236.8,809.2 1235.2,809.2 1235.2,811.8 1233.8,811.8 1233.8,810.4 1232.2,810.4 1232.2,813.6 1230.8,813.6 1230.8,815.8 1229.2,815.8 1229.2,818.9 1227.8,818.9 1227.8,816.5 1226.2,816.5 1226.2,812.8 1224.8,812.8 1224.8,819.8 1223.2,819.8 1223.2,817.9 1221.8,817.9 1221.8,814.7 1220.2,814.7 1220.2,818.3 1218.8,818.3 1218.8,810.5 1217.2,810.5 1217.2,819.0 1215.8,819.0 1215.8,821.0 1214.2,821.0 1214.2,824.5 1212.8,824.5 1212.8,815.7 1211.2,815.7 1211.2,819.0 1209.8,819.0 1209.8,837.6 1208.2,837.6 1208.2,825.0 1206.8,825.0 1206.8,815.6 1205.2,815.6 1205.2,842.6 1203.8,842.6 1203.8,817.0 1202.2,817.0 1202.2,811.7 1200.8,811.7 1200.8,809.2 1199.2,809.2 1199.2,819.0 1197.8,819.0 1197.8,811.9 1196.2,811.9 1196.2,818.2 1194.8,818.2 1194.8,809.5 1193.2,809.5 1193.2,813.0 1191.8,813.0 1191.8,806.2 1190.2,806.2 1190.2,803.7 1188.8,803.7 1188.8,803.6 1187.2,803.6 1187.2,805.5 1185.8,805.5 1185.8,803.2 1184.2,803.2 1184.2,800.1 1182.8,800.1 1182.8,798.8 1181.2,798.8 1181.2,797.8 1179.8,797.8 1179.8,795.7 1178.2,795.7 1178.2,799.7 1176.8,799.7 1176.8,797.0 1175.2,797.0 1175.2,787.9 1173.8,787.9 1173.8,790.1 1172.2,790.1 1172.2,784.7 1170.8,784.7 1170.8,784.8 1169.2,784.8 1169.2,791.4 1167.8,791.4 1167.8,785.7 1166.2,785.7 1166.2,793.4 1164.8,793.4 1164.8,790.8 1163.2,790.8 1163.2,789.2 1161.8,789.2 1161.8,811.1 1160.2,811.1 1160.2,788.9 1158.8,788.9 1158.8,787.9 1157.2,787.9 1157.2,782.6 1155.8,782.6 1155.8,790.4 1154.2,790.4 1154.2,786.7 1152.8,786.7 1152.8,780.6 1151.2,780.6 1151.2,778.1 1149.8,778.1 1149.8,816.6 1148.2,816.6 1148.2,781.1 1146.8,781.1 1146.8,782.9 1145.2,782.9 1145.2,780.8 1143.8,780.8 1143.8,775.1 1142.2,775.1 1142.2,785.2 1140.8,785.2 1140.8,778.4 1139.2,778.4 1139.2,777.3 1137.8,777.3 1137.8,775.8 1136.2,775.8 1136.2,772.9 1134.8,772.9 1134.8,774.1 1133.2,774.1 1133.2,776.7 1131.8,776.7 1131.8,774.1 1130.2,774.1 1130.2,776.7 1128.8,776.7 1128.8,770.6 1127.2,770.6 1127.2,770.6 1125.8,770.6 1125.8,770.6 1124.2,770.6 1124.2,805.5 1122.8,805.5 1122.8,776.0 1121.2,776.0 1121.2,775.2 1119.8,775.2 1119.8,777.0 1118.2,777.0 1118.2,770.7 1116.8,770.7 1116.8,773.4 1115.2,773.4 1115.2,772.0 1113.8,772.0 1113.8,770.2 1112.2,770.2 1112.2,778.6 1110.8,778.6 1110.8,773.6 1109.2,773.6 1109.2,771.1 1107.8,771.1 1107.8,797.8 1106.2,797.8 1106.2,767.5 1104.8,767.5 1104.8,769.7 1103.2,769.7 1103.2,764.6 1101.8,764.6 1101.8,774.8 1100.2,774.8 1100.2,773.3 1098.8,773.3 1098.8,770.8 1097.2,770.8 1097.2,773.9 1095.8,773.9 1095.8,769.5 1094.2,769.5 1094.2,766.4 1092.8,766.4 1092.8,774.6 1091.2,774.6 1091.2,767.7 1089.8,767.7 1089.8,768.8 1088.2,768.8 1088.2,764.7 1086.8,764.7 1086.8,767.4 1085.2,767.4 1085.2,769.6 1083.8,769.6 1083.8,771.8 1082.2,771.8 1082.2,768.9 1080.8,768.9 1080.8,776.4 1079.2,776.4 1079.2,769.0 1077.8,769.0 1077.8,769.2 1076.2,769.2 1076.2,772.2 1074.8,772.2 1074.8,781.6 1073.2,781.6 1073.2,768.0 1071.8,768.0 1071.8,766.2 1070.2,766.2 1070.2,770.0 1068.8,770.0 1068.8,772.0 1067.2,772.0 1067.2,772.4 1065.8,772.4 1065.8,771.6 1064.2,771.6 1064.2,771.2 1062.8,771.2 1062.8,774.3 1061.2,774.3 1061.2,766.9 1059.8,766.9 1059.8,766.3 1058.2,766.3" fill="#8000ff" />
<path d="M1193.5 800.0V869.0 M1287.0 800.0V869.0 M1222.0 810.0V860.0 M1247.0 810.0V862.0 M1275.0 800.0V858.0 M1300.0 795.0V850.0 M1330.0 790.0V850.0 M1345.0 785.0V848.0 M1110.0 790.0V855.0 M1105.0 790.0V845.0 M1160.0 790.0V850.0" stroke="#8000ff" stroke-width="2.2" fill="none"/>
<polyline points="1370.0,736.0 1370.8,732.6 1371.6,732.7 1372.4,731.5 1373.2,729.8 1374.1,730.2 1374.9,727.4 1375.7,725.7 1376.5,726.0 1377.3,723.1 1378.1,721.5 1378.9,720.5 1379.8,719.4 1380.6,718.6 1381.4,717.5 1382.2,715.1 1383.0,715.0 1383.8,714.9 1384.6,711.8 1385.4,710.9 1386.2,710.2 1387.1,709.2 1387.9,706.8 1388.7,705.4 1389.5,704.1 1390.5,704.1 1391.4,702.7 1392.3,699.6 1393.3,698.3 1394.2,697.6 1395.2,696.1 1396.2,696.0 1397.1,694.6 1398.0,694.4 1399.0,692.5 1400.0,690.8 1400.9,690.1 1401.8,687.6 1402.8,686.0 1403.5,685.4 1404.1,684.5 1404.8,681.4 1405.4,681.5 1406.0,680.0 1406.7,677.7 1407.3,676.6 1408.0,674.8 1408.4,673.5 1408.7,672.5 1409.1,670.0 1409.5,669.6 1409.8,668.0 1410.2,666.5 1410.6,663.3 1411.0,661.9 1411.3,661.9 1411.7,659.6" fill="none" stroke="#8000ff" stroke-width="2.4" stroke-linejoin="round" />
<polyline points="1360.0,739.4 1361.3,738.6 1362.6,737.3 1363.9,737.4 1365.3,736.2 1366.6,735.5 1367.9,735.6 1369.2,733.5 1370.5,734.6 1371.8,731.1 1373.2,734.1 1374.5,730.2 1375.8,731.0 1377.1,730.5 1378.4,728.9 1379.7,728.7 1381.1,727.3 1382.4,725.1 1383.7,726.1 1385.0,725.9 1386.4,723.9 1387.7,722.3 1389.1,722.6 1390.5,722.7 1391.8,722.0 1393.2,722.1 1394.5,721.0 1395.9,720.3 1397.3,717.6 1398.6,720.4 1400.0,718.0 1401.5,718.3 1402.9,716.9 1404.4,716.7 1405.8,716.5 1407.3,717.4 1408.8,717.0 1410.2,715.9 1411.7,716.6" fill="none" stroke="#8000ff" stroke-width="2.4" stroke-linejoin="round" />
<polyline points="838.6,631.2 850.8,631.2" fill="none" stroke="#8000ff" stroke-width="2.4" stroke-linejoin="round" />
<path d="M850.8 631.0V735.0" stroke="#8000ff" stroke-width="2.4" fill="none"/>
<polyline points="838.6,719.8 839.7,721.6 840.7,722.4 841.8,724.7 842.9,725.3 843.9,727.2 845.0,728.9 846.0,728.3 847.0,731.9 848.0,732.4 849.0,733.4 850.0,734.0" fill="none" stroke="#8000ff" stroke-width="3" stroke-linejoin="round" />
<polyline points="851.9,631.0 854.0,629.2 856.0,629.5 857.7,629.4 859.4,630.4 861.1,629.3 862.8,630.0 864.4,630.8 866.0,632.0 867.5,631.8 869.1,633.2 870.6,633.0 872.2,634.1 873.7,635.5 875.3,635.9 876.8,635.6 878.4,636.3 880.0,637.2 881.5,636.9 883.1,637.4 884.7,637.3 886.2,638.8 887.8,639.3 889.3,638.8 890.9,639.0 892.5,640.2 894.0,639.9 895.6,639.7 897.1,639.7 898.5,640.4 900.0,642.2 901.4,641.1 902.9,643.3 904.4,642.2 905.8,642.4 907.3,643.6 908.7,643.1 910.2,643.8 911.7,643.4 913.1,643.7 914.6,644.3 916.0,645.2 917.5,645.1 918.9,645.1 920.2,647.0 921.6,647.4 923.0,648.0 924.3,648.5 925.7,648.4 927.0,651.0 928.4,650.7 929.2,652.5 930.0,654.3 930.9,655.6 931.7,656.5 932.5,657.7 933.4,659.2 934.2,660.9 935.0,662.1 935.5,663.0 936.0,665.0 936.4,666.4 936.9,668.0 937.4,669.2 937.9,671.3 938.3,672.2 938.8,674.0 939.3,675.0 939.5,676.2 939.7,677.5 940.0,679.4 940.2,681.3 940.4,683.1 940.6,684.0 940.8,685.2 941.1,686.7 941.3,689.2 941.5,690.1 941.8,691.3 942.1,693.6 942.4,694.1 942.8,696.5 943.1,698.0 943.4,699.5 943.7,700.6 944.6,703.0 945.5,704.7 946.3,704.4 947.2,706.5 948.1,708.0 948.9,707.5 949.7,704.8 950.4,703.2 951.2,702.3 952.0,702.0 952.3,699.5 952.6,698.0 952.9,697.2 953.1,693.6 953.4,692.0 953.7,692.0 954.0,690.4 954.3,687.8 954.6,687.3 954.8,685.5 955.1,684.1 955.4,682.1 955.7,680.8 956.0,679.1 956.2,678.0 956.5,676.4 956.8,675.9 957.7,674.0 958.6,671.6 959.4,671.3 960.3,670.5 961.2,668.5 962.7,668.6 964.1,667.6 965.6,667.7 966.9,667.8 968.2,669.6 969.4,669.4 970.7,671.7 972.0,671.2 972.6,672.5 973.2,675.5 973.8,676.7 974.4,678.5 975.0,680.2 975.5,681.7 976.0,682.9 976.5,685.1 976.9,686.8 977.4,688.6 977.9,691.0 977.9,691.1 977.9,693.0 977.9,694.8 977.9,695.8 977.9,696.9 977.9,698.7 977.9,701.0 977.9,701.9 977.9,703.8 977.9,704.6 977.9,706.7 977.9,707.7 977.9,709.1 977.9,711.1" fill="none" stroke="#8000ff" stroke-width="2.4" stroke-linejoin="round" />
<polyline points="928.4,648.7 929.9,650.0 931.3,649.0 932.8,650.7 934.2,651.8 935.7,652.3 937.2,652.0 938.6,652.4 940.1,653.1 941.5,654.1 943.0,654.6 944.5,655.3 945.9,656.0 947.4,655.7 948.8,656.2 950.3,656.8 951.7,657.5 953.0,659.0 954.4,660.0 955.8,662.0 957.1,661.8 958.5,662.4 959.8,663.9 961.2,663.6 962.6,665.0 963.9,666.1 965.3,666.9 966.6,667.5 968.0,667.9 969.4,668.3 970.7,669.7 972.1,670.3 973.4,671.9 974.7,672.4 976.0,673.7 977.3,673.5 978.5,675.8 979.8,675.8 981.1,676.4 982.4,677.4 983.7,678.7 985.0,680.6 986.1,681.4 987.2,681.4 988.4,683.0 989.5,683.9 990.6,684.2 991.8,685.5 992.9,686.0 994.0,687.6 995.1,687.7 996.2,689.8 997.3,690.8 998.4,692.0 999.5,693.1 1000.6,695.2 1001.7,695.5 1002.8,696.9 1003.9,698.3 1005.0,699.5 1006.1,700.4 1007.2,700.9 1008.3,701.7 1009.4,703.0 1010.5,704.3 1011.5,705.6 1012.6,706.7 1013.7,708.4 1014.8,708.8 1015.9,710.9 1017.0,711.7 1018.1,712.1 1019.2,713.9 1020.2,713.1 1021.3,716.5 1022.4,717.1 1023.5,718.3 1024.6,718.4 1025.7,721.7 1026.7,721.4 1027.8,722.6 1028.9,724.4 1030.0,724.9 1031.1,725.6 1032.1,727.5 1033.2,727.7 1034.3,729.7 1035.4,730.4 1036.4,732.0 1037.5,731.9 1038.6,734.2 1039.6,734.8 1040.7,736.7 1041.8,736.5 1042.9,738.8 1043.9,739.3 1045.0,740.4 1046.1,740.8 1047.2,742.6 1048.2,743.8 1049.3,744.2 1050.4,745.2 1051.5,746.5 1052.5,748.8 1053.6,749.3 1054.7,750.9 1055.8,751.7 1056.8,752.8 1057.9,754.0 1059.0,754.8" fill="none" stroke="#8000ff" stroke-width="2.4" stroke-linejoin="round" />
<polyline points="965.6,668.3 966.9,668.1 968.3,668.8 969.6,668.2 971.0,670.2 972.3,670.1 973.7,670.9 975.0,672.8 975.5,672.6 976.0,674.8 976.5,677.0 977.0,678.9 977.5,679.0 978.0,681.2 978.5,682.6 979.1,683.0 979.6,683.6 980.1,685.3 980.6,688.8 981.1,689.9 981.6,690.2 982.1,692.3 982.6,694.0 983.8,695.0 985.1,696.2 986.3,699.0 987.5,697.5 988.8,699.2 990.0,699.4 991.0,700.7 992.0,701.7 993.0,703.5 994.0,704.5 995.0,706.4 996.0,707.5 997.0,707.9 998.4,711.1 999.8,709.6 1001.2,711.8 1002.6,714.2 1004.0,712.8 1004.8,715.8 1005.6,717.2 1006.4,717.6 1007.2,717.2 1008.1,721.2 1008.9,721.4 1009.7,722.2 1010.5,725.0 1011.3,724.7 1012.9,726.6 1014.5,725.7 1016.0,726.9 1017.6,726.0 1019.2,727.0 1020.8,727.0" fill="none" stroke="#8000ff" stroke-width="2.6" stroke-linejoin="round" />
<polygon points="1020.8,703.2 1022.3,704.6 1023.8,705.0 1025.3,705.9 1026.8,707.4 1028.2,707.0 1029.7,706.2 1031.2,708.1 1032.7,709.1 1034.3,709.8 1035.9,709.8 1037.5,709.8 1039.1,708.8 1040.6,709.5 1042.2,707.8 1043.8,710.1 1045.4,709.4 1047.0,709.4 1047.3,710.2 1047.6,712.0 1047.9,713.0 1048.2,715.5 1048.5,715.4 1048.8,718.8 1049.1,719.9 1049.4,722.7 1050.2,722.4 1051.0,723.7 1051.8,725.3 1052.6,726.6 1053.4,727.8 1054.2,728.4 1055.0,729.8 1055.8,731.6 1056.6,733.2 1057.4,733.9 1058.2,735.3 1059.0,737.4 1059.3,739.8 1059.7,740.6 1060.0,743.0 1060.3,744.8 1060.7,746.2 1061.0,746.9 1061.3,748.5 1061.7,748.9 1062.0,751.4 1061.6,754.0 1061.2,754.4 1060.9,758.0 1060.5,759.7 1060.1,759.8 1059.8,762.5 1059.4,762.2 1059.0,764.1 1058.2,763.3 1057.4,762.1 1056.7,760.5 1055.9,758.5 1055.1,759.4 1054.3,756.6 1053.6,755.1 1052.8,754.0 1052.0,752.1 1051.3,750.5 1050.7,748.9 1050.0,746.6 1049.3,747.8 1048.6,744.5 1048.0,742.6 1047.3,741.9 1046.6,739.9 1045.9,741.5 1045.3,738.8 1044.6,738.4 1043.1,737.8 1041.7,736.4 1040.2,735.8 1038.8,734.1 1037.3,734.0 1035.8,733.0 1034.4,732.9 1032.9,731.7 1031.5,732.7 1030.0,731.6 1028.5,730.4 1026.9,728.5 1025.4,729.9 1023.9,729.5 1022.3,728.2 1020.8,726.7" fill="#8000ff" />
<path d="M1019.6 684.8V710.0" stroke="#8000ff" stroke-width="2.2" fill="none"/>
<polygon points="839.5,711.4 840.9,712.6 842.4,710.0 843.8,713.0 845.2,711.1 846.6,713.5 848.1,715.7 849.5,714.5 850.9,715.3 852.4,715.0 853.8,715.8 855.3,718.5 856.8,717.7 858.3,716.4 859.8,716.6 861.3,717.3 862.8,719.8 864.3,718.1 865.8,719.3 867.2,718.1 868.7,717.4 870.2,720.4 871.7,719.2 873.2,718.8 874.7,719.2 876.2,719.5 877.7,719.9 879.2,719.2 880.7,722.2 882.2,721.6 883.7,722.4 885.1,721.3 886.6,722.2 888.1,722.2 889.6,723.5 891.1,723.4 892.6,723.1 894.1,722.3 895.5,722.0 897.0,722.6 898.5,723.0 900.0,723.3 901.5,722.8 903.0,726.2 904.5,725.1 906.0,723.2 907.5,724.5 909.0,724.6 910.5,726.6 912.0,727.8 913.5,726.1 914.9,728.1 916.4,727.6 917.9,729.4 919.4,730.0 920.9,729.3 922.4,730.1 923.9,729.7 925.4,729.7 926.9,729.4 928.4,731.3 929.9,731.4 931.4,731.5 932.8,732.2 934.3,732.6 935.8,732.2 937.3,733.1 938.8,735.3 940.3,734.3 941.8,736.4 943.2,734.3 944.7,734.5 946.2,736.4 947.7,737.5 949.2,736.5 950.7,738.2 952.2,738.9 953.7,739.4 955.2,738.6 956.7,739.0 958.2,737.8 959.7,739.8 961.2,740.5 962.6,742.0 964.1,739.7 965.6,740.5 967.1,740.7 968.6,743.0 970.1,739.9 971.6,741.7 973.1,745.3 974.6,744.3 976.1,742.8 977.6,744.5 979.1,745.9 980.6,746.0 982.1,745.7 983.6,745.5 985.0,747.6 986.5,747.2 988.0,748.5 989.5,748.6 991.0,748.1 992.5,750.5 994.0,749.0 995.5,750.4 997.0,749.8 998.5,750.5 1000.0,750.9 1001.5,750.8 1003.0,752.1 1004.4,753.6 1005.9,754.5 1007.4,754.4 1008.9,753.2 1010.4,755.2 1011.9,754.5 1013.4,756.3 1014.8,753.6 1016.3,756.7 1017.8,755.0 1019.3,757.1 1020.8,755.8 1022.3,757.4 1023.8,756.5 1025.3,755.1 1026.8,756.2 1028.2,757.2 1029.7,757.7 1031.2,755.6 1032.7,756.9 1034.2,757.6 1035.7,758.3 1037.2,759.0 1038.6,758.2 1040.1,757.7 1041.6,759.8 1043.1,759.3 1044.6,760.8 1046.1,759.6 1047.6,761.0 1049.1,759.7 1050.6,761.1 1052.1,761.1 1053.6,761.7 1055.1,760.5 1056.5,761.6 1058.0,761.1 1059.5,762.0 1061.0,763.0 1062.5,765.6 1064.0,762.9 1065.5,763.8 1067.0,763.4 1068.5,764.6 1070.0,764.2 1071.5,765.0 1073.0,764.5 1074.5,766.8 1075.9,766.0 1077.4,763.1 1078.9,765.3 1080.4,765.3 1081.9,763.3 1083.4,764.8 1084.9,765.4 1086.3,765.4 1087.8,766.5 1089.3,764.8 1090.8,767.5 1092.3,767.8 1093.8,767.5 1095.3,766.9 1096.8,767.3 1098.3,766.9 1099.8,768.6 1101.3,768.1 1102.9,769.7 1104.4,767.4 1105.9,769.3 1107.4,767.4 1108.9,767.9 1110.4,767.1 1111.9,768.8 1113.4,768.3 1114.9,769.1 1116.4,770.0 1117.9,768.6 1119.4,769.1 1121.0,769.7 1122.5,768.9 1124.0,768.5 1125.5,769.5 1127.0,769.7 1128.5,770.1 1130.0,770.2 1131.5,768.7 1133.0,769.8 1134.5,770.6 1136.0,768.9 1137.5,769.8 1139.0,768.8 1140.5,769.6 1142.0,771.1 1143.5,769.6 1145.0,768.4 1146.5,769.7 1148.0,769.6 1149.5,770.5 1151.0,768.0 1152.5,768.4 1154.0,769.3 1155.5,767.8 1157.0,770.5 1158.5,767.3 1160.0,768.5 1161.5,767.9 1163.0,768.7 1164.5,770.1 1166.0,769.9 1167.5,770.3 1169.0,769.9 1170.5,767.3 1172.0,769.6 1173.5,767.5 1175.0,768.8 1178.0,768.4 1178.0,769.7 1177.9,772.9 1177.8,772.4 1177.8,777.8 1177.8,777.7 1177.7,780.1 1177.7,781.0 1177.6,782.8 1177.5,782.9 1177.5,787.5 1177.5,784.5 1177.4,788.3 1177.3,789.2 1177.3,790.4 1177.2,792.7 1177.2,792.7 1177.2,796.7 1177.1,798.1 1177.0,798.6 1177.0,801.1 1176.9,800.0 1176.8,800.3 1176.7,803.6 1176.6,805.7 1176.5,811.3 1176.4,808.7 1176.3,812.1 1176.2,813.3 1176.1,816.7 1176.0,815.2 1175.9,817.5 1175.8,817.7 1175.7,818.2 1175.6,819.5 1175.5,821.3 1175.4,826.2 1175.3,825.9 1175.2,826.8 1175.1,828.5 1175.0,829.2 1173.5,830.3 1172.0,830.6 1170.5,831.9 1169.0,832.6 1167.5,829.1 1166.0,832.2 1164.5,834.2 1163.0,830.9 1161.5,832.3 1160.0,833.3 1158.5,834.7 1157.0,833.9 1155.5,832.7 1154.0,833.8 1152.5,834.6 1151.0,833.6 1149.5,835.8 1148.0,833.7 1146.5,831.4 1145.0,831.8 1143.5,832.8 1142.0,832.7 1140.5,833.9 1139.0,833.5 1137.5,835.6 1136.0,834.2 1134.5,835.2 1133.0,831.9 1131.5,832.4 1130.0,834.0 1128.5,833.3 1127.0,834.2 1125.5,833.7 1124.0,832.5 1122.5,836.1 1121.0,835.3 1119.5,831.4 1118.0,832.9 1116.5,834.0 1115.0,835.0 1113.5,834.0 1112.0,832.2 1110.5,835.6 1109.0,834.1 1107.5,836.3 1106.0,835.1 1104.5,836.2 1103.0,836.1 1101.5,836.3 1100.0,834.3 1098.5,836.8 1096.9,835.7 1095.4,833.7 1093.8,835.2 1092.3,835.5 1090.8,836.9 1089.2,837.4 1087.7,834.9 1086.2,837.8 1084.6,836.9 1083.1,835.6 1081.5,838.6 1080.0,836.4 1078.5,835.9 1076.9,839.1 1075.4,839.5 1073.8,837.3 1072.3,840.1 1070.8,840.2 1069.2,838.1 1067.7,842.1 1066.2,839.2 1064.6,839.8 1063.1,836.1 1061.5,840.8 1060.0,839.1 1058.5,840.3 1056.9,836.7 1055.4,840.6 1053.8,840.7 1052.3,840.9 1050.8,833.3 1049.2,838.2 1047.7,837.5 1046.2,832.1 1044.6,835.1 1043.1,835.7 1041.5,837.6 1040.0,833.8 1038.6,834.9 1037.1,834.0 1035.7,834.1 1034.2,832.5 1032.8,833.9 1031.4,833.5 1029.9,829.5 1028.5,832.7 1027.0,829.4 1025.6,829.6 1025.3,830.2 1025.0,827.1 1024.8,826.3 1024.5,825.1 1024.2,823.3 1023.9,820.1 1023.6,817.9 1023.3,818.8 1023.1,817.4 1022.8,815.3 1022.5,813.0 1022.2,813.0 1021.9,810.1 1021.6,806.6 1021.4,807.5 1021.1,806.4 1020.8,805.2 1019.4,802.1 1018.0,801.8 1016.6,802.8 1015.2,801.0 1013.8,801.0 1012.5,801.9 1011.1,800.5 1009.7,802.1 1008.3,799.2 1006.9,800.7 1005.5,799.2 1004.1,800.8 1003.4,795.7 1002.6,794.2 1001.9,794.9 1001.1,790.9 1000.4,789.6 999.6,789.3 998.9,788.2 998.2,784.2 997.4,785.3 996.7,783.1 995.9,782.2 995.2,781.2 994.4,779.3 993.7,779.8 992.9,777.6 992.2,775.2 990.7,775.1 989.3,776.0 987.8,775.0 986.3,775.2 984.9,772.6 983.4,772.4 981.9,774.7 980.4,771.1 979.0,773.1 977.5,771.3 976.0,768.8 974.6,766.8 973.1,769.3 971.7,766.6 970.3,765.9 968.9,763.7 967.5,767.3 966.1,765.0 964.7,764.2 963.3,764.0 961.9,763.1 960.4,762.2 959.0,762.1 957.6,760.2 956.2,756.1 954.8,760.4 953.4,759.2 952.0,757.9 950.6,759.5 949.2,754.4 947.8,751.6 946.4,757.6 945.0,755.4 943.6,751.8 942.2,753.1 940.8,754.0 939.4,750.7 938.0,752.8 936.6,754.6 935.2,752.9 933.8,750.3 932.4,750.2 931.0,747.8 929.6,748.8 928.2,747.6 926.8,746.0 925.4,745.0 924.0,749.3 922.6,746.0 921.2,743.7 919.8,744.1 918.4,746.3 917.0,746.0 915.6,742.1 914.2,742.7 912.7,743.2 911.3,740.8 909.9,739.0 908.5,738.7 907.1,739.6 905.7,737.9 904.3,736.6 902.9,737.6 901.5,738.7 900.0,738.1 898.5,736.4 897.0,739.3 895.5,735.0 894.1,735.8 892.6,733.6 891.1,736.5 889.6,734.8 888.1,732.2 886.6,733.2 885.1,736.8 883.7,734.9 882.2,733.7 880.7,734.5 879.2,730.6 877.7,731.4 876.2,730.2 874.7,730.5 873.2,730.7 871.7,731.6 870.2,731.9 868.7,731.4 867.2,733.5 865.8,728.3 864.3,728.6 862.8,728.9 861.3,726.5 859.8,726.8 858.3,727.4 856.8,725.0 855.3,726.6 853.8,727.3 852.2,724.0 850.6,722.6 849.0,726.4 847.4,725.0 845.9,727.0 844.3,726.4 842.7,727.8 841.1,729.3 839.5,729.1" fill="#70003c" />
<polygon points="1011.2,785.1 1012.8,785.1 1012.8,784.6 1014.2,784.6 1014.2,786.0 1015.8,786.0 1015.8,786.0 1017.2,786.0 1017.2,784.9 1018.8,784.9 1018.8,785.2 1020.2,785.2 1020.2,785.5 1021.8,785.5 1021.8,785.1 1023.2,785.1 1023.2,786.0 1024.8,786.0 1024.8,786.0 1026.2,786.0 1026.2,786.1 1027.8,786.1 1027.8,785.2 1029.2,785.2 1029.2,784.8 1030.8,784.8 1030.8,785.9 1032.2,785.9 1032.2,785.3 1033.8,785.3 1033.8,785.9 1035.2,785.9 1035.2,785.6 1036.8,785.6 1036.8,785.5 1038.2,785.5 1038.2,786.3 1039.8,786.3 1039.8,786.2 1041.2,786.2 1041.2,786.3 1042.8,786.3 1042.8,785.8 1044.2,785.8 1044.2,786.3 1045.8,786.3 1045.8,785.8 1047.2,785.8 1047.2,786.1 1048.8,786.1 1048.8,786.1 1050.2,786.1 1050.2,786.0 1051.8,786.0 1051.8,786.0 1053.2,786.0 1053.2,785.8 1054.8,785.8 1054.8,785.6 1056.2,785.6 1056.2,786.3 1057.8,786.3 1057.8,786.2 1059.2,786.2 1059.2,786.8 1060.8,786.8 1060.8,786.2 1062.2,786.2 1062.2,786.2 1063.8,786.2 1063.8,786.5 1065.2,786.5 1065.2,787.4 1066.8,787.4 1066.8,787.2 1068.2,787.2 1068.2,786.3 1069.8,786.3 1069.8,786.4 1071.2,786.4 1071.2,786.3 1072.8,786.3 1072.8,786.3 1074.2,786.3 1074.2,787.0 1075.8,787.0 1075.8,787.2 1077.2,787.2 1077.2,787.3 1078.8,787.3 1078.8,787.2 1080.2,787.2 1080.2,787.4 1081.8,787.4 1081.8,786.9 1083.2,786.9 1083.2,787.7 1084.8,787.7 1084.8,787.2 1086.2,787.2 1086.2,787.3 1087.8,787.3 1087.8,787.1 1089.2,787.1 1089.2,786.5 1090.8,786.5 1090.8,786.7 1092.2,786.7 1092.2,787.8 1093.8,787.8 1093.8,787.6 1095.2,787.6 1095.2,787.5 1096.8,787.5 1096.8,787.7 1098.2,787.7 1098.2,786.8 1099.8,786.8 1099.8,787.9 1101.2,787.9 1101.2,788.0 1102.8,788.0 1102.8,788.0 1104.2,788.0 1104.2,787.5 1105.8,787.5 1105.8,787.6 1107.2,787.6 1107.2,787.6 1108.8,787.6 1108.8,788.0 1110.2,788.0 1110.2,788.2 1111.8,788.2 1111.8,787.4 1113.2,787.4 1113.2,787.8 1114.8,787.8 1114.8,789.0 1116.2,789.0 1116.2,788.5 1117.8,788.5 1117.8,787.9 1119.2,787.9 1119.2,788.2 1120.8,788.2 1120.8,788.5 1122.2,788.5 1122.2,789.5 1123.8,789.5 1123.8,788.6 1125.2,788.6 1125.2,788.0 1126.8,788.0 1126.8,788.3 1128.2,788.3 1128.2,788.7 1129.8,788.7 1129.8,788.8 1131.2,788.8 1131.2,788.5 1132.8,788.5 1132.8,788.6 1134.2,788.6 1134.2,788.9 1135.8,788.9 1135.8,788.7 1137.2,788.7 1137.2,788.8 1138.8,788.8 1138.8,788.4 1140.2,788.4 1140.2,788.9 1141.8,788.9 1141.8,789.4 1143.2,789.4 1143.2,788.6 1144.8,788.6 1144.8,788.7 1146.2,788.7 1146.2,789.2 1147.8,789.2 1147.8,789.9 1149.2,789.9 1149.2,789.0 1150.8,789.0 1150.8,789.7 1152.2,789.7 1152.2,788.7 1153.8,788.7 1153.8,789.3 1155.2,789.3 1155.2,789.2 1156.8,789.2 1156.8,788.7 1158.2,788.7 1158.2,789.0 1159.8,789.0 1159.8,789.6 1161.2,789.6 1161.2,789.0 1162.8,789.0 1162.8,789.1 1164.2,789.1 1164.2,789.8 1165.8,789.8 1165.8,789.7 1167.2,789.7 1167.2,789.8 1168.8,789.8 1168.8,789.8 1170.2,789.8 1170.2,790.1 1171.8,790.1 1171.8,789.6 1173.2,789.6 1173.2,789.8 1174.8,789.8 1174.8,789.5 1176.2,789.5 1176.2,790.1 1177.8,790.1 1177.8,826.3 1176.2,826.3 1176.2,825.7 1174.8,825.7 1174.8,822.5 1173.2,822.5 1173.2,830.0 1171.8,830.0 1171.8,851.2 1170.2,851.2 1170.2,829.9 1168.8,829.9 1168.8,828.0 1167.2,828.0 1167.2,829.5 1165.8,829.5 1165.8,830.5 1164.2,830.5 1164.2,827.6 1162.8,827.6 1162.8,823.7 1161.2,823.7 1161.2,829.9 1159.8,829.9 1159.8,832.0 1158.2,832.0 1158.2,840.3 1156.8,840.3 1156.8,828.4 1155.2,828.4 1155.2,832.1 1153.8,832.1 1153.8,833.4 1152.2,833.4 1152.2,831.4 1150.8,831.4 1150.8,834.0 1149.2,834.0 1149.2,836.1 1147.8,836.1 1147.8,824.3 1146.2,824.3 1146.2,828.3 1144.8,828.3 1144.8,817.8 1143.2,817.8 1143.2,832.1 1141.8,832.1 1141.8,837.7 1140.2,837.7 1140.2,833.1 1138.8,833.1 1138.8,837.4 1137.2,837.4 1137.2,829.8 1135.8,829.8 1135.8,840.1 1134.2,840.1 1134.2,828.8 1132.8,828.8 1132.8,837.6 1131.2,837.6 1131.2,821.1 1129.8,821.1 1129.8,833.2 1128.2,833.2 1128.2,819.8 1126.8,819.8 1126.8,843.7 1125.2,843.7 1125.2,830.2 1123.8,830.2 1123.8,833.4 1122.2,833.4 1122.2,829.1 1120.8,829.1 1120.8,831.2 1119.2,831.2 1119.2,836.1 1117.8,836.1 1117.8,841.2 1116.2,841.2 1116.2,831.1 1114.8,831.1 1114.8,831.9 1113.2,831.9 1113.2,823.7 1111.8,823.7 1111.8,836.6 1110.2,836.6 1110.2,828.6 1108.8,828.6 1108.8,835.4 1107.2,835.4 1107.2,866.3 1105.8,866.3 1105.8,834.5 1104.2,834.5 1104.2,858.3 1102.8,858.3 1102.8,837.6 1101.2,837.6 1101.2,830.6 1099.8,830.6 1099.8,838.0 1098.2,838.0 1098.2,839.5 1096.8,839.5 1096.8,829.9 1095.2,829.9 1095.2,840.5 1093.8,840.5 1093.8,836.1 1092.2,836.1 1092.2,833.4 1090.8,833.4 1090.8,831.2 1089.2,831.2 1089.2,838.9 1087.8,838.9 1087.8,846.6 1086.2,846.6 1086.2,841.3 1084.8,841.3 1084.8,841.0 1083.2,841.0 1083.2,838.2 1081.8,838.2 1081.8,830.6 1080.2,830.6 1080.2,867.7 1078.8,867.7 1078.8,840.7 1077.2,840.7 1077.2,840.0 1075.8,840.0 1075.8,838.3 1074.2,838.3 1074.2,832.9 1072.8,832.9 1072.8,838.3 1071.2,838.3 1071.2,832.8 1069.8,832.8 1069.8,868.4 1068.2,868.4 1068.2,872.4 1066.8,872.4 1066.8,837.6 1065.2,837.6 1065.2,841.2 1063.8,841.2 1063.8,837.0 1062.2,837.0 1062.2,851.9 1060.8,851.9 1060.8,839.5 1059.2,839.5 1059.2,832.3 1057.8,832.3 1057.8,839.4 1056.2,839.4 1056.2,839.8 1054.8,839.8 1054.8,837.7 1053.2,837.7 1053.2,840.3 1051.8,840.3 1051.8,836.4 1050.2,836.4 1050.2,826.3 1048.8,826.3 1048.8,836.6 1047.2,836.6 1047.2,840.4 1045.8,840.4 1045.8,838.5 1044.2,838.5 1044.2,831.8 1042.8,831.8 1042.8,832.8 1041.2,832.8 1041.2,832.2 1039.8,832.2 1039.8,830.2 1038.2,830.2 1038.2,828.2 1036.8,828.2 1036.8,826.0 1035.2,826.0 1035.2,832.6 1033.8,832.6 1033.8,833.1 1032.2,833.1 1032.2,827.9 1030.8,827.9 1030.8,828.7 1029.2,828.7 1029.2,829.0 1027.8,829.0 1027.8,833.5 1026.2,833.5 1026.2,838.9 1024.8,838.9 1024.8,818.8 1023.2,818.8 1023.2,818.5 1021.8,818.5 1021.8,812.8 1020.2,812.8 1020.2,799.7 1018.8,799.7 1018.8,805.5 1017.2,805.5 1017.2,804.0 1015.8,804.0 1015.8,793.7 1014.2,793.7 1014.2,804.1 1012.8,804.1 1012.8,793.4 1011.2,793.4" fill="#70003c" />
<path d="M1053.0 830.0V899.4 M1075.6 830.0V875.6 M1066.0 830.0V863.6 M1092.0 830.0V852.0 M1113.0 830.0V850.0 M1133.4 830.0V870.3 M1162.3 830.0V870.3 M1030.0 820.0V850.0 M1045.0 830.0V858.0 M1040.0 830.0V862.0 M1085.0 830.0V860.0 M1100.0 830.0V858.0 M1120.0 830.0V855.0 M1145.0 830.0V860.0 M1170.0 830.0V862.0 M1027.0 820.0V846.0" stroke="#70003c" stroke-width="2.6" fill="none"/>
<polygon points="839.5,714.0 839.5,692.0 845.0,700.0 850.0,703.0 855.0,697.0 857.0,700.0 857.0,716.0" fill="#70003c" />
<polyline points="1126.3,769.9 1126.3,768.1 1126.3,765.9 1126.3,764.3 1126.3,762.8 1126.3,760.9 1126.3,759.7 1126.3,758.4 1126.3,756.6 1126.3,755.7 1126.3,753.9 1126.3,752.2 1126.3,751.5 1126.3,749.5 1126.3,747.8 1126.3,746.9 1126.3,745.2 1126.3,742.8 1126.3,741.7 1126.3,739.9 1126.3,737.9 1126.3,737.7 1126.3,736.0 1126.3,733.4 1126.3,732.5 1126.3,730.2 1126.3,729.7 1126.3,727.7 1126.3,726.1 1126.3,725.1 1126.3,723.1 1126.3,721.4 1126.3,720.4 1126.3,718.4 1126.3,717.3 1126.3,715.5 1126.3,714.3 1126.3,712.7 1126.3,711.2 1126.3,709.0 1126.3,708.6 1126.3,706.4 1126.3,705.6 1126.3,703.2 1126.3,701.8 1126.3,700.3 1126.3,699.3 1126.3,697.2 1126.3,696.0 1126.3,693.7 1126.3,692.6 1126.3,691.4 1126.5,689.6 1126.7,687.3 1126.9,686.5 1127.2,684.3 1127.4,683.7 1127.6,681.3 1127.8,680.5 1128.0,678.3 1128.9,676.7 1129.8,674.9 1130.7,673.5 1131.6,672.2 1132.5,669.8 1133.4,669.5 1134.5,667.5 1135.6,666.8 1136.7,664.7 1137.8,664.8 1139.0,663.8 1140.1,662.5 1141.2,661.4 1142.3,660.0 1143.4,659.1 1144.5,658.4 1146.0,657.0 1147.5,656.7 1149.0,656.1 1150.5,655.0 1152.0,654.5 1153.5,653.8 1155.0,652.8 1156.5,653.4 1158.0,651.8 1159.4,652.2 1160.9,651.4 1162.4,649.7 1163.8,650.1 1165.3,649.9 1166.8,649.3 1168.3,648.3 1169.9,648.3 1171.4,647.3 1173.0,647.0 1174.5,646.9 1176.1,646.7 1177.6,646.8 1179.2,645.9 1180.7,645.8 1182.3,644.5 1183.8,644.2 1185.4,644.0 1186.9,644.5 1188.5,642.9 1190.0,642.4 1191.5,642.6 1193.0,642.7 1194.6,641.3 1196.1,641.5 1197.6,640.7 1199.1,641.4 1200.7,640.7 1202.2,640.2 1203.7,639.7 1205.2,639.3 1206.7,639.1 1208.3,638.4 1209.8,637.9 1211.3,637.5 1212.8,637.5 1214.4,636.8 1216.0,637.1 1217.5,635.5 1219.0,636.2 1220.6,635.8 1222.2,635.7 1223.7,634.7 1225.2,633.9 1226.8,633.7 1228.3,634.1 1229.9,633.2 1231.5,632.7 1233.0,632.3 1234.5,632.2 1236.1,631.8 1237.6,631.0 1239.1,631.0 1240.6,631.4 1242.2,631.2 1243.7,630.3 1245.2,629.9 1246.7,630.3 1248.3,629.4 1249.8,628.7 1251.3,628.8 1252.8,628.8 1254.4,628.8 1255.9,627.7 1257.5,627.9 1259.1,627.3 1260.6,627.6 1262.2,627.0 1263.8,626.8 1265.4,626.1 1267.0,626.1 1268.5,625.8 1270.1,624.3 1271.7,625.8 1273.3,625.2 1274.8,624.9 1276.4,624.6 1278.0,624.5 1279.5,624.4 1281.0,623.6 1282.5,623.9 1284.0,623.7 1285.5,623.4 1287.0,622.6 1288.5,622.9 1289.9,622.2 1291.4,622.7 1292.9,622.8 1294.4,622.4 1295.9,621.7 1297.4,621.4 1298.9,621.2 1300.4,621.3 1301.9,620.7 1303.5,620.6 1305.0,619.6 1306.6,620.0 1308.1,619.9 1309.7,619.8 1311.2,620.2 1312.7,619.0 1314.3,618.8 1315.8,619.4 1317.4,618.5 1318.9,618.7 1320.5,618.6 1322.0,618.3 1323.5,617.8 1325.1,618.3 1326.6,618.3 1328.1,617.2 1329.6,617.3 1331.2,617.6 1332.7,617.0 1334.2,616.5 1335.7,616.5 1337.3,616.8 1338.8,615.9 1340.3,616.2 1341.8,616.1 1343.4,615.5 1344.9,615.8 1346.5,615.7 1348.0,615.7 1349.6,615.5 1351.2,614.4 1352.7,615.2 1354.3,615.0 1355.9,615.0 1357.5,614.1 1359.0,614.7 1360.6,614.3 1362.2,613.6 1363.7,614.4 1365.3,613.4 1366.9,613.2 1368.4,613.6 1370.0,613.1 1371.5,613.3 1373.1,613.0 1374.6,613.0 1376.1,613.1 1377.7,612.7 1379.2,612.9 1380.7,612.8 1382.3,612.0 1383.8,612.5 1385.4,612.3 1386.9,612.0 1388.4,612.3 1390.0,612.3 1391.5,611.9 1393.0,610.9 1394.6,611.5 1396.1,611.2" fill="none" stroke="#70003c" stroke-width="2.6" stroke-linejoin="round" />
<polygon points="1394.5,611.0 1397.5,611.0 1400.0,640.0 1400.0,693.6 1394.0,693.6" fill="#70003c" />
<polyline points="1400.0,692.9 1401.4,692.3 1402.8,691.1 1402.9,690.6 1403.0,688.4 1403.1,686.8 1403.1,685.6 1403.2,684.1 1403.3,682.8 1403.4,681.0 1403.5,679.1 1403.6,677.7 1403.7,675.0 1403.7,673.9 1403.8,673.6 1403.9,671.4 1404.0,670.9 1404.2,669.2 1404.3,666.1 1404.5,665.2 1404.7,664.7 1404.8,661.3 1405.0,660.2 1405.1,658.4 1405.3,656.9 1405.4,655.3 1405.6,653.9 1405.7,652.8 1405.9,650.5 1406.0,649.6 1406.2,647.5 1406.3,646.6 1406.4,645.0 1406.6,642.9 1406.7,641.9 1406.9,639.9 1407.0,638.3 1407.2,637.8 1407.3,634.8 1408.4,634.9 1409.5,633.8 1410.6,632.0 1411.7,631.7" fill="none" stroke="#70003c" stroke-width="2.6" stroke-linejoin="round" />
<polyline points="1402.0,680.7 1402.2,677.5 1402.3,677.4 1402.5,675.9 1402.6,673.4 1402.8,673.0 1402.9,671.6 1403.0,669.0 1403.2,666.5 1403.3,666.8 1403.5,664.4 1403.7,662.2 1403.8,661.7 1404.0,658.7 1404.1,658.8 1404.2,658.7 1404.4,653.8 1404.5,654.9 1404.7,652.3 1404.8,651.2 1405.0,649.3 1405.6,649.1 1406.1,647.1 1406.7,645.1 1407.3,643.3 1407.9,642.5 1408.4,642.3 1409.0,639.1 1409.5,638.9 1410.1,637.5 1410.6,634.3 1411.2,635.3 1411.7,633.0" fill="none" stroke="#70003c" stroke-width="2" stroke-linejoin="round" />
<polyline points="1175.7,772.6 1175.8,770.3 1176.0,765.9 1176.1,764.5 1176.2,761.7 1176.4,759.6 1176.5,761.2 1176.7,758.0 1176.8,756.2 1177.0,754.9 1177.2,754.5 1177.4,753.3 1177.6,750.3 1177.7,748.4 1177.9,747.2 1178.9,748.7 1179.9,741.2 1181.0,741.1 1182.0,742.1 1183.0,740.2 1184.2,740.5 1185.4,739.4 1186.6,739.1 1187.8,733.7 1189.0,734.5 1189.2,731.8 1189.4,732.0 1189.7,729.4 1189.9,728.9 1190.1,725.0 1190.3,724.8 1190.6,722.3 1190.8,721.2 1191.0,719.4 1191.4,717.0 1191.7,718.6 1192.1,715.8 1192.4,715.4 1192.8,710.8 1193.1,707.8 1193.5,708.2 1194.8,708.1 1196.1,708.7 1197.4,708.2 1198.7,707.6 1200.0,707.3 1201.4,705.3 1202.8,703.7 1204.2,701.6 1205.7,702.9 1207.1,700.4 1208.5,699.2 1209.9,700.5 1211.3,699.2 1212.8,699.4 1214.4,696.4 1215.9,698.5 1217.4,696.6 1218.9,695.2 1220.5,693.6 1222.0,692.5 1223.5,691.4 1224.9,694.8 1226.3,690.0 1227.8,692.4 1229.2,690.5 1230.7,689.4 1232.1,688.9 1233.6,688.8 1234.7,689.0 1235.8,687.3 1236.9,685.3 1238.0,682.0 1238.3,679.9 1238.7,683.8 1239.0,678.1 1239.3,675.7 1239.6,678.2 1240.0,672.8 1240.3,674.6 1241.9,674.7 1243.4,673.5 1245.0,674.3 1246.5,670.6 1248.1,670.6 1249.7,671.9 1251.2,672.0 1252.8,671.7 1254.3,672.2 1255.9,670.2 1257.4,667.6 1258.9,670.8 1260.5,669.3 1262.0,670.3 1263.5,671.6 1265.0,668.2 1266.5,668.3 1267.9,665.5 1269.4,667.5 1270.8,666.0 1272.3,665.3 1273.7,665.6 1275.2,662.0 1276.6,663.9 1278.1,663.1 1279.6,664.1 1281.1,658.4 1282.6,660.3 1284.0,663.0 1285.5,658.5 1287.0,657.7 1288.5,660.3 1290.0,660.7 1291.5,656.7 1293.0,654.9 1294.5,654.6 1295.9,654.3 1297.4,653.1 1298.9,652.7 1300.4,653.6 1301.8,652.8 1303.2,652.9 1304.7,651.6 1306.1,649.2 1307.5,651.5 1308.9,650.1 1310.3,648.3 1311.7,648.2 1313.2,648.5 1314.6,647.5 1316.0,646.6 1316.4,646.4 1316.9,645.3 1317.3,641.7 1317.8,640.6 1318.2,637.4 1319.9,638.5 1321.6,639.2 1323.3,639.4 1324.9,638.1 1326.6,637.5 1328.3,636.3 1330.0,637.3 1331.5,635.2 1333.0,636.7 1334.5,636.3 1336.0,634.7 1337.5,636.3 1338.9,635.3 1340.4,636.2 1341.9,634.4 1343.4,635.6 1344.9,636.9 1346.4,634.6 1347.9,635.3 1349.4,632.9 1350.9,633.1 1352.5,630.6 1354.0,632.8 1355.5,631.1 1357.0,632.7 1358.5,629.3 1360.0,630.8 1361.5,631.9 1363.1,632.2 1364.6,629.0 1366.2,630.6 1367.7,634.7 1369.3,631.9 1370.8,630.8 1372.4,626.3 1373.9,628.8 1374.6,629.0 1375.3,626.7 1376.0,625.2 1377.7,625.8 1379.3,624.3 1381.0,625.3 1381.7,623.1 1382.3,631.0 1383.0,628.6 1384.5,628.2 1386.0,631.5 1387.5,630.3 1389.0,630.9 1390.5,628.7 1392.0,630.2 1393.5,630.9 1395.0,628.3 1396.5,629.7 1398.0,629.7 1399.6,629.6 1401.1,629.0 1402.6,628.2 1404.1,630.7 1405.6,630.4 1407.1,631.8 1408.7,630.0 1410.2,629.1 1411.7,628.0" fill="none" stroke="#70003c" stroke-width="4.6" stroke-linejoin="round" />
<path d="M1344.9 634.6V703.6 M1243.5 675.0V698.0" stroke="#70003c" stroke-width="2.8" fill="none"/>
<polyline points="844.9,528.4 918.6,528.4" fill="none" stroke="#8000ff" stroke-width="2.4" stroke-linejoin="round" />
<polyline points="844.9,571.1 918.6,571.1" fill="none" stroke="#70003c" stroke-width="3" stroke-linejoin="round" />
<g transform="translate(925.92,538.41) scale(1.1663,1)" fill="#000"><text x="0.00" y="0" font-size="29.24" font-weight="bold" style="font-kerning:none">S</text><path transform="translate(19.50,0) scale(0.01428,-0.01428)" d="M478 0L478 1170L140 959L140 1180L493 1409L759 1409L759 0Z"/></g>
<g transform="translate(965.68,549.00) scale(1.2792,1)" fill="#000"><path transform="translate(0.00,0) scale(0.00734,-0.00734)" d="M478 0L478 1170L140 959L140 1180L493 1409L759 1409L759 0Z"/><text x="8.37" y="0" font-size="15.04" font-weight="bold" style="font-kerning:none">00/25</text></g>
<g transform="translate(1024.25,538.41) scale(1.1054,1)" fill="#000"><text x="0.00" y="0" font-size="29.24" font-weight="bold" style="font-kerning:none">as-G</text></g>
<g transform="translate(925.92,581.61) scale(1.1335,1)" fill="#000"><text x="0.00" y="0" font-size="30.08" font-weight="bold" style="font-kerning:none">S</text><path transform="translate(20.07,0) scale(0.01469,-0.01469)" d="M478 0L478 1170L140 959L140 1180L493 1409L759 1409L759 0Z"/></g>
<g transform="translate(965.68,591.00) scale(1.2679,1)" fill="#000"><path transform="translate(0.00,0) scale(0.00741,-0.00741)" d="M478 0L478 1170L140 959L140 1180L493 1409L759 1409L759 0Z"/><text x="8.44" y="0" font-size="15.18" font-weight="bold" style="font-kerning:none">00/25</text></g>
<g transform="translate(1034.24,581.30) scale(1.0604,1)" fill="#000"><text x="0.00" y="0" font-size="30.09" font-weight="bold" style="font-kerning:none">T-T</text></g>
<g transform="translate(995.41,676.00) scale(1.1209,1)" fill="#000"><text x="0.00" y="0" font-size="48.55" font-weight="bold" style="font-kerning:none">2</text></g>
<g transform="translate(1148.00,706.90) scale(1.2949,1)" fill="#6b0088"><path transform="translate(0.00,0) scale(0.02370,-0.02370)" d="M478 0L478 1170L140 959L140 1180L493 1409L759 1409L759 0Z"/></g>
<g transform="translate(1357.17,679.69) scale(1.0826,1)" fill="#ff0000"><text x="0.00" y="0" font-size="45.53" font-weight="bold" style="font-kerning:none">3</text></g>
<polyline points="1260.3,614.5 1245.0,609.5 1230.0,607.0 1211.3,606.7 1190.0,610.0 1175.0,614.5 1166.8,619.0 1162.0,625.0" fill="none" stroke="#6b0088" stroke-width="1.8" stroke-linejoin="round" />
<polygon points="1158.6,629.3 1161.5,617.6 1169.3,623.8" fill="#6b0088" />
<polyline points="1226.9,739.2 1232.0,725.0 1240.0,714.0 1255.9,702.5 1275.0,692.0 1300.4,684.7 1312.0,683.0" fill="none" stroke="#6b0088" stroke-width="1.8" stroke-linejoin="round" />
<polygon points="1317.4,682.2 1307.3,688.7 1305.8,678.9" fill="#6b0088" />
</g></svg></body></html>
